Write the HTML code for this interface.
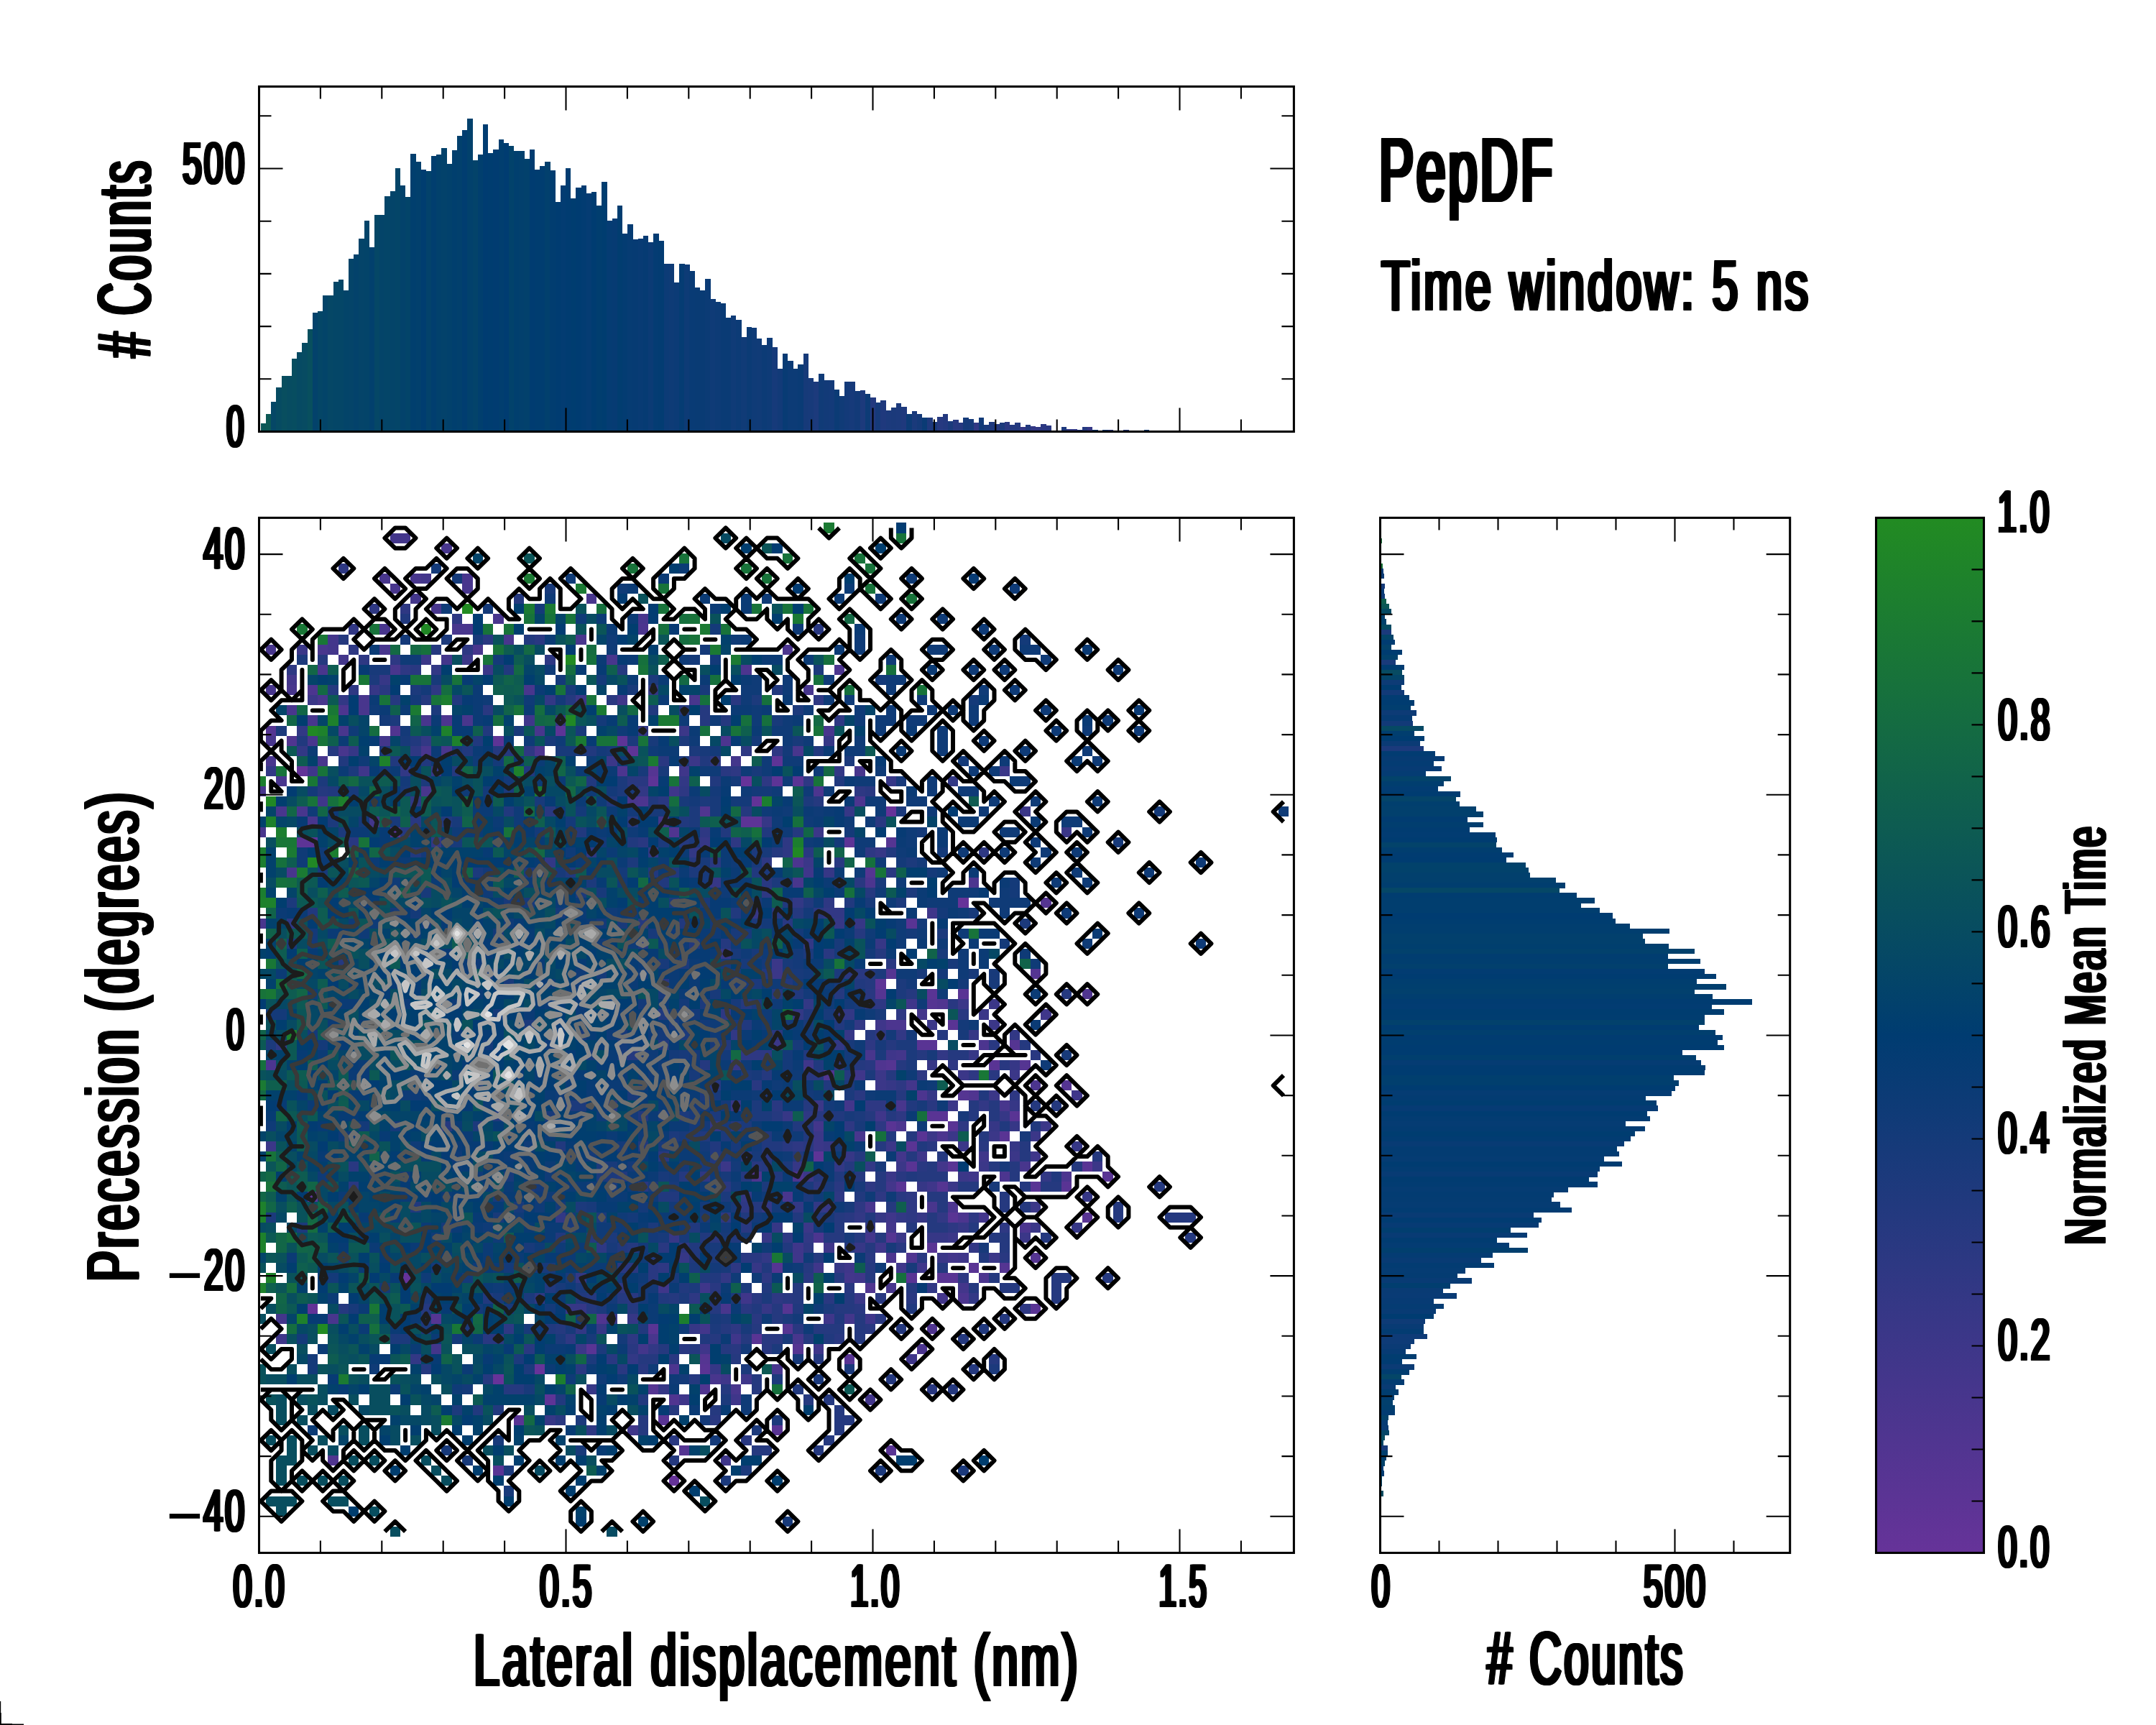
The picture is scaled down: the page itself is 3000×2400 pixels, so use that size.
<!DOCTYPE html>
<html><head><meta charset="utf-8"><title>PepDF</title>
<style>html,body{margin:0;padding:0;background:#fff}svg{display:block}</style></head>
<body>
<svg width="3000" height="2400" viewBox="0 0 3000 2400">
<defs><clipPath id="cm"><rect x="360.5" y="720.4" width="1439.9" height="1440.1"/></clipPath>
<linearGradient id="cb" x1="0" y1="1" x2="0" y2="0"><stop offset="0" stop-color="#663399"/><stop offset="0.5" stop-color="#003c71"/><stop offset="1" stop-color="#228b22"/></linearGradient></defs>
<rect width="3000" height="2400" fill="#fff"/>
<g clip-path="url(#cm)"><g transform="translate(355.71,727.45) scale(14.3750,14.1048)" shape-rendering="crispEdges">
<path fill="#663399" d="M47 25h1v1h-1zM61 28h1v1h-1zM68 37h1v1h-1zM14 74h1v1h-1zM27 83h1v1h-1zM23 84h1v1h-1zM40 94h1v1h-1z"/>
<path fill="#623397" d="M4 24h1v1h-1zM48 27h1v1h-1zM5 77h1v1h-1z"/>
<path fill="#5d3496" d="M29 20h1v1h-1zM23 21h1v1h-1zM35 21h1v1h-1zM36 22h1v1h-1zM50 23h1v1h-1zM38 25h1v1h-1zM50 25h1v1h-1zM47 29h2v1h-2zM4 31h2v1h-2zM57 31h1v1h-1zM60 45h1v1h-1zM54 62h1v1h-1zM5 66h1v1h-1zM28 86h1v1h-1z"/>
<path fill="#593494" d="M52 25h1v1h-1zM63 39h1v1h-1zM65 46h1v1h-1zM68 46h1v1h-1zM67 49h1v1h-1zM64 51h2v1h-2zM71 53h1v1h-1zM65 58h2v1h-2zM73 58h1v1h-1zM61 59h1v1h-1zM67 59h1v1h-1zM64 60h1v1h-1zM72 60h1v1h-1zM63 61h1v1h-1zM63 63h1v1h-1zM67 63h1v1h-1zM80 63h1v1h-1zM82 64h1v1h-1zM62 65h1v1h-1zM75 65h1v1h-1zM78 65h1v1h-1zM67 68h1v1h-1zM80 68h1v1h-1zM65 71h1v1h-1zM69 73h1v1h-1zM63 74h1v1h-1zM66 74h2v1h-2zM75 77h1v1h-1zM38 79h1v1h-1zM48 80h1v1h-1zM32 81h1v1h-1zM57 82h1v1h-1zM43 83h1v1h-1zM25 88h1v1h-1zM39 88h1v1h-1zM50 89h1v1h-1zM61 91h1v1h-1zM23 93h1v1h-1z"/>
<path fill="#553592" d="M1 20h1v1h-1zM38 24h1v1h-1zM13 30h1v1h-1zM61 31h1v1h-1zM59 34h1v1h-1zM76 37h1v1h-1zM61 44h1v1h-1zM75 44h1v1h-1zM60 46h1v1h-1zM65 47h1v1h-1zM73 51h1v1h-1zM61 53h1v1h-1zM74 53h1v1h-1zM78 55h1v1h-1zM68 56h1v1h-1zM66 65h1v1h-1zM61 70h1v1h-1zM75 72h1v1h-1zM50 73h1v1h-1zM72 73h1v1h-1zM51 77h1v1h-1zM17 78h1v1h-1zM51 79h1v1h-1zM52 81h1v1h-1zM43 82h1v1h-1zM38 85h1v1h-1zM41 91h1v1h-1z"/>
<path fill="#503590" d="M13 20h1v1h-1zM3 21h1v1h-1zM43 28h1v1h-1zM40 30h1v1h-1zM80 46h1v1h-1zM66 47h1v1h-1zM60 53h1v1h-1zM55 54h1v1h-1zM69 56h1v1h-1zM63 72h1v1h-1zM59 75h1v1h-1zM33 78h1v1h-1zM65 79h1v1h-1zM43 85h1v1h-1zM40 86h1v1h-1zM7 92h1v1h-1z"/>
<path fill="#4c358f" d="M37 10h1v1h-1zM51 12h1v1h-1zM47 14h1v1h-1zM56 14h1v1h-1zM5 16h1v1h-1zM8 18h1v1h-1zM18 19h1v1h-1zM45 21h1v1h-1zM27 22h1v1h-1zM35 24h1v1h-1zM54 26h1v1h-1zM37 27h1v1h-1zM58 27h1v1h-1zM52 33h1v1h-1zM59 35h1v1h-1zM69 35h1v1h-1zM61 49h2v1h-2zM70 51h1v1h-1zM1 53h1v1h-1zM75 55h1v1h-1zM64 56h1v1h-1zM62 59h1v1h-1zM66 60h1v1h-1zM48 64h1v1h-1zM52 64h1v1h-1zM72 64h1v1h-1zM78 64h1v1h-1zM67 67h1v1h-1zM68 68h1v1h-1zM74 69h1v1h-1zM54 70h1v1h-1zM61 72h1v1h-1zM70 74h1v1h-1zM68 76h1v1h-1zM64 81h1v1h-1zM40 83h1v1h-1z"/>
<path fill="#48368d" d="M18 2h1v1h-1zM12 5h1v1h-1zM15 5h1v1h-1zM20 5h1v1h-1zM13 6h1v1h-1zM20 6h1v1h-1zM32 7h1v1h-1zM17 8h1v1h-1zM23 9h1v1h-1zM37 9h1v1h-1zM12 10h1v1h-1zM19 10h2v1h-2zM24 11h1v1h-1zM31 11h1v1h-1zM1 12h1v1h-1zM6 12h1v1h-1zM12 12h1v1h-1zM21 12h1v1h-1zM34 13h1v1h-1zM6 14h1v1h-1zM13 14h1v1h-1zM1 16h1v1h-1zM3 16h1v1h-1zM26 16h1v1h-1zM53 16h1v1h-1zM6 17h1v1h-1zM10 17h1v1h-1zM42 17h1v1h-1zM3 18h1v1h-1zM10 18h1v1h-1zM5 19h1v1h-1zM16 19h1v1h-1zM20 19h1v1h-1zM8 20h1v1h-1zM27 20h1v1h-1zM55 20h1v1h-1zM1 21h1v1h-1zM5 21h1v1h-1zM8 22h1v1h-1zM16 22h1v1h-1zM18 22h1v1h-1zM52 22h1v1h-1zM1 23h1v1h-1zM6 23h1v1h-1zM58 24h1v1h-1zM2 25h1v1h-1zM0 26h1v1h-1zM16 26h1v1h-1zM36 27h1v1h-1zM2 28h1v1h-1zM4 28h1v1h-1zM5 29h1v1h-1zM0 30h1v1h-1zM3 34h1v1h-1zM52 35h1v1h-1zM0 39h1v1h-1zM59 52h1v1h-1zM62 57h1v1h-1zM72 57h1v1h-1zM58 60h1v1h-1zM74 63h1v1h-1zM51 66h1v1h-1zM59 67h1v1h-1zM65 67h1v1h-1zM61 75h1v1h-1zM45 77h1v1h-1zM7 78h1v1h-1zM38 80h1v1h-1zM52 80h1v1h-1zM50 83h1v1h-1zM44 84h1v1h-1zM46 85h1v1h-1z"/>
<path fill="#43368b" d="M13 1h2v1h-2zM16 5h1v1h-1zM15 7h1v1h-1zM7 11h1v1h-1zM7 12h1v1h-1zM8 13h1v1h-1zM18 13h1v1h-1zM3 15h1v1h-1zM12 21h1v1h-1zM46 23h1v1h-1zM11 29h1v1h-1zM39 29h1v1h-1zM64 48h1v1h-1zM62 52h1v1h-1zM63 55h1v1h-1zM57 57h1v1h-1zM54 59h1v1h-1zM62 62h1v1h-1zM66 63h1v1h-1zM61 65h1v1h-1zM70 68h1v1h-1zM61 69h1v1h-1zM59 70h1v1h-1zM67 72h1v1h-1zM57 74h1v1h-1zM68 75h1v1h-1zM66 76h1v1h-1zM2 78h1v1h-1zM57 78h1v1h-1zM43 79h1v1h-1zM17 81h1v1h-1zM37 81h1v1h-1zM59 86h1v1h-1z"/>
<path fill="#3f368a" d="M35 17h1v1h-1zM26 19h1v1h-1zM5 24h1v1h-1zM10 24h1v1h-1zM41 24h1v1h-1zM40 26h1v1h-1zM6 27h1v1h-1zM53 34h1v1h-1zM65 38h1v1h-1zM63 47h1v1h-1zM76 48h1v1h-1zM60 49h1v1h-1zM61 52h1v1h-1zM53 53h1v1h-1zM58 54h1v1h-1zM79 56h1v1h-1zM60 58h1v1h-1zM64 62h1v1h-1zM70 62h1v1h-1zM75 62h1v1h-1zM69 64h1v1h-1zM65 65h1v1h-1zM61 68h1v1h-1zM52 71h1v1h-1zM55 71h1v1h-1zM60 71h1v1h-1zM52 72h1v1h-1zM68 72h1v1h-1zM54 73h1v1h-1zM57 73h1v1h-1zM62 73h1v1h-1zM64 73h1v1h-1zM58 74h1v1h-1zM39 75h1v1h-1zM43 75h1v1h-1zM47 76h1v1h-1zM55 78h1v1h-1zM59 78h1v1h-1zM2 80h1v1h-1zM46 80h1v1h-1zM43 81h1v1h-1zM54 81h1v1h-1zM63 82h1v1h-1zM45 84h1v1h-1zM47 84h1v1h-1zM41 86h1v1h-1zM46 86h1v1h-1zM36 89h1v1h-1zM45 92h1v1h-1z"/>
<path fill="#3b3788" d="M4 12h1v1h-1zM16 13h1v1h-1zM20 13h1v1h-1zM22 14h1v1h-1zM5 17h1v1h-1zM31 17h1v1h-1zM41 20h1v1h-1zM34 23h1v1h-1zM42 23h1v1h-1zM72 24h1v1h-1zM74 28h1v1h-1zM54 30h1v1h-1zM78 30h1v1h-1zM53 33h1v1h-1zM50 43h1v1h-1zM50 44h1v1h-1zM68 47h1v1h-1zM71 47h1v1h-1zM70 48h1v1h-1zM65 49h1v1h-1zM71 49h1v1h-1zM50 51h1v1h-1zM60 54h1v1h-1zM68 54h1v1h-1zM73 54h1v1h-1zM60 55h1v1h-1zM71 56h1v1h-1zM54 57h1v1h-1zM67 57h1v1h-1zM76 59h1v1h-1zM54 60h1v1h-1zM65 60h1v1h-1zM67 60h1v1h-1zM71 60h1v1h-1zM75 60h1v1h-1zM1 61h1v1h-1zM54 61h1v1h-1zM61 61h1v1h-1zM68 61h1v1h-1zM73 62h1v1h-1zM45 63h1v1h-1zM62 63h1v1h-1zM70 63h1v1h-1zM81 63h1v1h-1zM53 64h1v1h-1zM61 64h1v1h-1zM68 64h1v1h-1zM67 65h1v1h-1zM75 67h1v1h-1zM53 69h1v1h-1zM75 69h1v1h-1zM62 70h1v1h-1zM67 70h1v1h-1zM74 70h1v1h-1zM66 72h1v1h-1zM71 72h1v1h-1zM58 76h1v1h-1zM31 81h1v1h-1z"/>
<path fill="#363786" d="M12 15h1v1h-1zM11 16h1v1h-1zM29 19h1v1h-1zM55 21h1v1h-1zM9 22h1v1h-1zM17 24h1v1h-1zM61 25h1v1h-1zM57 28h1v1h-1zM49 29h1v1h-1zM43 31h1v1h-1zM60 32h1v1h-1zM55 34h1v1h-1zM44 35h1v1h-1zM48 38h1v1h-1zM56 39h1v1h-1zM58 39h1v1h-1zM60 41h1v1h-1zM45 42h1v1h-1zM56 48h1v1h-1zM57 50h1v1h-1zM69 50h1v1h-1zM69 52h1v1h-1zM46 53h1v1h-1zM65 53h1v1h-1zM73 53h1v1h-1zM61 55h1v1h-1zM65 56h1v1h-1zM46 57h1v1h-1zM73 57h1v1h-1zM51 58h1v1h-1zM72 58h1v1h-1zM71 59h1v1h-1zM73 59h1v1h-1zM55 61h1v1h-1zM73 61h1v1h-1zM79 61h1v1h-1zM57 62h1v1h-1zM52 63h1v1h-1zM64 65h1v1h-1zM80 66h1v1h-1zM55 67h1v1h-1zM60 68h1v1h-1zM64 68h1v1h-1zM50 69h1v1h-1zM68 69h1v1h-1zM79 69h1v1h-1zM40 70h1v1h-1zM49 70h1v1h-1zM65 70h2v1h-2zM58 71h1v1h-1zM41 72h1v1h-1zM48 73h1v1h-1zM56 73h1v1h-1zM30 77h2v1h-2zM49 77h1v1h-1zM34 78h1v1h-1zM36 78h1v1h-1zM33 79h1v1h-1zM42 79h1v1h-1zM44 83h1v1h-1zM32 85h1v1h-1zM39 85h1v1h-1zM28 88h1v1h-1z"/>
<path fill="#323885" d="M9 10h1v1h-1zM17 14h1v1h-1zM38 16h1v1h-1zM8 17h1v1h-1zM28 17h1v1h-1zM4 20h1v1h-1zM37 20h1v1h-1zM16 21h1v1h-1zM4 22h1v1h-1zM1 24h1v1h-1zM14 24h1v1h-1zM56 24h1v1h-1zM41 25h1v1h-1zM67 25h1v1h-1zM37 26h1v1h-1zM17 31h1v1h-1zM38 32h1v1h-1zM42 32h1v1h-1zM28 33h1v1h-1zM52 37h1v1h-1zM55 38h2v1h-2zM53 41h1v1h-1zM53 47h1v1h-1zM52 48h1v1h-1zM57 48h1v1h-1zM58 49h1v1h-1zM46 50h1v1h-1zM62 50h1v1h-1zM73 50h1v1h-1zM56 51h1v1h-1zM66 52h1v1h-1zM70 57h1v1h-1zM44 59h1v1h-1zM56 63h1v1h-1zM59 63h1v1h-1zM76 64h1v1h-1zM47 66h1v1h-1zM49 67h1v1h-1zM52 67h1v1h-1zM54 67h1v1h-1zM29 68h1v1h-1zM58 68h1v1h-1zM62 68h1v1h-1zM66 68h1v1h-1zM59 69h1v1h-1zM53 70h1v1h-1zM69 71h1v1h-1zM49 72h1v1h-1zM31 74h1v1h-1zM45 74h1v1h-1zM65 75h1v1h-1zM69 76h1v1h-1zM31 79h1v1h-1zM38 81h1v1h-1zM15 82h1v1h-1zM36 82h1v1h-1z"/>
<path fill="#2e3883" d="M8 4h1v1h-1zM11 8h1v1h-1zM14 8h1v1h-1zM19 9h1v1h-1zM9 12h1v1h-1zM20 12h1v1h-1zM10 13h1v1h-1zM13 13h1v1h-1zM28 13h1v1h-1zM3 14h1v1h-1zM14 14h1v1h-1zM9 16h1v1h-1zM17 16h1v1h-1zM54 17h1v1h-1zM56 19h1v1h-1zM15 22h1v1h-1zM26 22h1v1h-1zM47 22h1v1h-1zM50 22h1v1h-1zM44 23h1v1h-1zM46 24h1v1h-1zM49 25h1v1h-1zM53 25h1v1h-1zM41 26h1v1h-1zM58 26h1v1h-1zM15 27h1v1h-1zM43 30h1v1h-1zM46 31h1v1h-1zM51 31h1v1h-1zM32 32h1v1h-1zM51 32h1v1h-1zM59 32h1v1h-1zM70 32h1v1h-1zM49 33h1v1h-1zM49 36h1v1h-1zM55 37h1v1h-1zM3 39h1v1h-1zM60 47h1v1h-1zM45 48h1v1h-1zM62 48h1v1h-1zM60 50h1v1h-1zM2 51h1v1h-1zM59 51h1v1h-1zM47 52h3v1h-3zM67 53h1v1h-1zM64 54h1v1h-1zM69 54h1v1h-1zM62 55h1v1h-1zM73 56h1v1h-1zM59 57h2v1h-2zM53 58h1v1h-1zM62 58h1v1h-1zM57 59h1v1h-1zM60 59h1v1h-1zM68 59h1v1h-1zM52 61h1v1h-1zM43 64h1v1h-1zM54 65h1v1h-1zM59 65h1v1h-1zM56 66h1v1h-1zM60 66h1v1h-1zM63 66h1v1h-1zM47 67h1v1h-1zM58 67h1v1h-1zM63 67h1v1h-1zM45 68h1v1h-1zM63 68h1v1h-1zM69 68h1v1h-1zM67 69h1v1h-1zM72 69h1v1h-1zM51 70h1v1h-1zM33 71h1v1h-1zM41 71h1v1h-1zM53 71h1v1h-1zM39 73h1v1h-1zM46 73h1v1h-1zM49 74h1v1h-1zM68 74h1v1h-1zM35 75h1v1h-1zM27 76h1v1h-1zM42 76h1v1h-1zM50 76h1v1h-1zM74 77h1v1h-1zM24 79h1v1h-1zM46 79h1v1h-1zM30 80h1v1h-1zM36 80h1v1h-1zM32 89h1v1h-1z"/>
<path fill="#293881" d="M54 10h1v1h-1zM22 11h1v1h-1zM27 11h1v1h-1zM15 14h1v1h-1zM12 16h1v1h-1zM34 17h1v1h-1zM46 17h1v1h-1zM22 18h1v1h-1zM39 23h1v1h-1zM45 24h1v1h-1zM36 25h2v1h-2zM59 26h1v1h-1zM39 27h1v1h-1zM28 28h1v1h-1zM15 29h1v1h-1zM60 29h1v1h-1zM9 31h1v1h-1zM37 31h1v1h-1zM53 32h1v1h-1zM44 33h1v1h-1zM56 33h1v1h-1zM61 34h1v1h-1zM49 35h1v1h-1zM58 35h1v1h-1zM50 38h1v1h-1zM54 38h1v1h-1zM51 39h1v1h-1zM55 42h1v1h-1zM61 43h1v1h-1zM57 44h2v1h-2zM39 45h1v1h-1zM59 46h1v1h-1zM59 47h1v1h-1zM67 47h1v1h-1zM68 48h1v1h-1zM50 50h1v1h-1zM71 51h1v1h-1zM75 52h1v1h-1zM56 53h1v1h-1zM59 53h1v1h-1zM72 53h1v1h-1zM53 54h2v1h-2zM71 54h1v1h-1zM44 55h1v1h-1zM48 55h1v1h-1zM58 56h1v1h-1zM50 57h1v1h-1zM65 57h1v1h-1zM54 58h1v1h-1zM51 61h1v1h-1zM53 61h1v1h-1zM65 61h1v1h-1zM70 61h1v1h-1zM39 62h1v1h-1zM47 62h1v1h-1zM49 62h1v1h-1zM9 63h1v1h-1zM48 63h1v1h-1zM64 63h1v1h-1zM62 64h1v1h-1zM9 65h1v1h-1zM37 65h1v1h-1zM45 65h1v1h-1zM56 65h1v1h-1zM62 66h1v1h-1zM57 68h1v1h-1zM47 69h1v1h-1zM44 70h1v1h-1zM39 71h1v1h-1zM62 71h1v1h-1zM47 72h2v1h-2zM59 72h1v1h-1zM64 72h1v1h-1zM72 72h1v1h-1zM35 73h2v1h-2zM38 73h1v1h-1zM38 74h1v1h-1zM53 74h1v1h-1zM44 75h1v1h-1zM57 75h1v1h-1zM36 76h1v1h-1zM48 76h1v1h-1zM51 76h1v1h-1zM55 76h1v1h-1zM60 76h1v1h-1zM63 76h1v1h-1zM47 77h1v1h-1zM58 77h1v1h-1zM48 78h1v1h-1zM60 78h1v1h-1zM52 79h1v1h-1zM59 79h1v1h-1zM22 80h2v1h-2zM49 80h2v1h-2zM56 80h1v1h-1zM26 81h1v1h-1zM36 81h1v1h-1zM41 81h1v1h-1zM46 81h1v1h-1zM49 81h1v1h-1zM34 82h1v1h-1zM40 82h1v1h-1zM31 83h1v1h-1zM35 83h1v1h-1zM37 83h1v1h-1zM65 85h1v1h-1zM29 88h1v1h-1zM44 88h1v1h-1zM40 90h1v1h-1zM47 90h1v1h-1z"/>
<path fill="#25397f" d="M25 7h1v1h-1zM8 11h1v1h-1zM17 12h1v1h-1zM6 13h1v1h-1zM35 14h1v1h-1zM7 16h1v1h-1zM13 17h1v1h-1zM16 17h1v1h-1zM30 17h1v1h-1zM41 18h1v1h-1zM43 18h1v1h-1zM43 19h1v1h-1zM45 19h1v1h-1zM7 22h1v1h-1zM23 22h2v1h-2zM19 24h1v1h-1zM6 26h1v1h-1zM54 27h1v1h-1zM47 28h1v1h-1zM36 29h1v1h-1zM14 30h1v1h-1zM52 30h1v1h-1zM41 31h1v1h-1zM50 32h1v1h-1zM42 33h1v1h-1zM59 36h1v1h-1zM52 38h1v1h-1zM37 39h1v1h-1zM58 40h1v1h-1zM45 41h1v1h-1zM60 42h1v1h-1zM8 43h1v1h-1zM59 44h1v1h-1zM59 45h1v1h-1zM50 46h1v1h-1zM56 46h1v1h-1zM63 46h1v1h-1zM78 46h1v1h-1zM47 47h1v1h-1zM59 50h1v1h-1zM66 50h1v1h-1zM61 51h1v1h-1zM74 51h1v1h-1zM36 52h1v1h-1zM64 52h1v1h-1zM67 52h2v1h-2zM43 53h1v1h-1zM58 53h1v1h-1zM62 53h1v1h-1zM49 54h1v1h-1zM57 54h1v1h-1zM61 54h1v1h-1zM62 56h1v1h-1zM53 57h1v1h-1zM69 57h1v1h-1zM71 57h1v1h-1zM75 57h1v1h-1zM77 57h1v1h-1zM50 58h1v1h-1zM59 58h1v1h-1zM61 58h1v1h-1zM69 58h1v1h-1zM71 58h1v1h-1zM18 59h1v1h-1zM46 59h1v1h-1zM53 59h1v1h-1zM63 60h1v1h-1zM70 60h1v1h-1zM60 61h1v1h-1zM74 61h1v1h-1zM58 62h1v1h-1zM63 62h1v1h-1zM66 62h1v1h-1zM74 62h1v1h-1zM81 62h1v1h-1zM49 63h1v1h-1zM57 63h1v1h-1zM65 63h1v1h-1zM71 63h1v1h-1zM73 63h1v1h-1zM79 63h1v1h-1zM41 64h1v1h-1zM47 64h1v1h-1zM54 64h1v1h-1zM58 64h1v1h-1zM60 64h1v1h-1zM64 64h3v1h-3zM73 64h1v1h-1zM60 65h1v1h-1zM68 65h2v1h-2zM74 65h1v1h-1zM76 65h2v1h-2zM87 65h1v1h-1zM65 66h2v1h-2zM72 66h1v1h-1zM48 67h1v1h-1zM61 67h1v1h-1zM66 67h1v1h-1zM72 67h1v1h-1zM74 67h1v1h-1zM83 67h1v1h-1zM56 68h1v1h-1zM65 68h1v1h-1zM83 68h1v1h-1zM88 68h3v1h-3zM56 69h1v1h-1zM63 69h1v1h-1zM65 69h2v1h-2zM69 69h1v1h-1zM32 70h1v1h-1zM55 70h2v1h-2zM58 70h1v1h-1zM60 70h1v1h-1zM71 70h2v1h-2zM76 70h1v1h-1zM90 70h1v1h-1zM36 71h1v1h-1zM57 71h1v1h-1zM59 71h1v1h-1zM72 71h1v1h-1zM54 72h1v1h-1zM53 73h1v1h-1zM59 73h1v1h-1zM66 73h1v1h-1zM56 74h1v1h-1zM59 74h1v1h-1zM71 74h1v1h-1zM77 74h2v1h-2zM82 74h1v1h-1zM52 75h1v1h-1zM63 75h1v1h-1zM69 75h1v1h-1zM72 75h2v1h-2zM77 75h1v1h-1zM32 76h1v1h-1zM35 76h1v1h-1zM40 76h1v1h-1zM52 76h1v1h-1zM57 76h1v1h-1zM77 76h1v1h-1zM8 77h1v1h-1zM16 77h1v1h-1zM32 77h1v1h-1zM36 77h1v1h-1zM44 77h1v1h-1zM50 77h1v1h-1zM56 77h2v1h-2zM50 78h1v1h-1zM58 78h1v1h-1zM72 78h1v1h-1zM29 79h1v1h-1zM45 79h1v1h-1zM48 79h1v1h-1zM54 79h3v1h-3zM58 79h1v1h-1zM62 79h1v1h-1zM44 80h1v1h-1zM47 80h1v1h-1zM53 80h1v1h-1zM58 80h1v1h-1zM68 80h1v1h-1zM39 81h1v1h-1zM42 81h1v1h-1zM45 81h1v1h-1zM37 82h2v1h-2zM46 82h1v1h-1zM54 82h1v1h-1zM71 82h1v1h-1zM16 83h1v1h-1zM69 83h1v1h-1zM22 84h1v1h-1zM42 84h1v1h-1zM48 84h1v1h-1zM61 84h1v1h-1zM24 85h2v1h-2zM45 85h1v1h-1zM48 85h1v1h-1zM67 85h1v1h-1zM53 86h1v1h-1zM55 86h1v1h-1zM40 87h1v1h-1zM44 87h1v1h-1zM56 87h1v1h-1zM37 88h1v1h-1zM56 88h2v1h-2zM37 89h1v1h-1zM56 89h1v1h-1zM55 90h1v1h-1zM48 91h2v1h-2zM54 91h1v1h-1zM40 92h1v1h-1z"/>
<path fill="#21397e" d="M14 9h1v1h-1zM26 11h1v1h-1zM24 14h1v1h-1zM50 16h1v1h-1zM19 17h1v1h-1zM38 18h1v1h-1zM22 20h1v1h-1zM4 21h1v1h-1zM15 21h1v1h-1zM21 21h1v1h-1zM20 22h1v1h-1zM32 22h1v1h-1zM54 22h1v1h-1zM8 23h1v1h-1zM13 23h1v1h-1zM16 23h1v1h-1zM43 23h1v1h-1zM26 24h1v1h-1zM32 25h1v1h-1zM44 25h1v1h-1zM56 25h1v1h-1zM7 26h1v1h-1zM34 27h1v1h-1zM38 27h1v1h-1zM24 28h1v1h-1zM18 29h1v1h-1zM41 29h1v1h-1zM31 30h1v1h-1zM45 30h1v1h-1zM49 30h1v1h-1zM36 31h1v1h-1zM15 32h1v1h-1zM61 32h1v1h-1zM30 34h1v1h-1zM38 34h1v1h-1zM40 34h1v1h-1zM48 34h1v1h-1zM39 35h1v1h-1zM51 37h1v1h-1zM53 37h1v1h-1zM57 37h1v1h-1zM5 38h1v1h-1zM46 38h1v1h-1zM41 39h1v1h-1zM37 41h1v1h-1zM42 41h1v1h-1zM49 44h1v1h-1zM51 45h1v1h-1zM58 45h1v1h-1zM52 46h1v1h-1zM39 48h1v1h-1zM53 48h1v1h-1zM47 49h1v1h-1zM56 49h1v1h-1zM39 51h1v1h-1zM45 51h1v1h-1zM53 52h1v1h-1zM54 53h1v1h-1zM55 55h1v1h-1zM70 56h1v1h-1zM34 57h1v1h-1zM63 57h1v1h-1zM23 58h1v1h-1zM37 58h1v1h-1zM55 58h2v1h-2zM52 59h1v1h-1zM72 59h1v1h-1zM75 59h1v1h-1zM43 60h1v1h-1zM49 60h1v1h-1zM53 60h1v1h-1zM61 60h1v1h-1zM29 61h1v1h-1zM37 61h1v1h-1zM44 61h1v1h-1zM49 61h2v1h-2zM64 61h1v1h-1zM44 62h1v1h-1zM52 62h1v1h-1zM44 63h1v1h-1zM35 64h1v1h-1zM50 64h1v1h-1zM56 64h1v1h-1zM63 64h1v1h-1zM77 64h1v1h-1zM39 66h2v1h-2zM58 66h1v1h-1zM15 67h1v1h-1zM47 68h1v1h-1zM52 68h1v1h-1zM54 68h1v1h-1zM59 68h1v1h-1zM42 69h1v1h-1zM29 70h1v1h-1zM43 70h1v1h-1zM46 70h1v1h-1zM35 71h1v1h-1zM42 71h1v1h-1zM51 71h1v1h-1zM38 72h1v1h-1zM42 72h1v1h-1zM70 72h1v1h-1zM49 73h1v1h-1zM43 74h2v1h-2zM28 75h1v1h-1zM41 75h1v1h-1zM49 75h1v1h-1zM22 76h1v1h-1zM31 76h1v1h-1zM39 76h1v1h-1zM44 76h1v1h-1zM48 77h1v1h-1zM52 77h1v1h-1zM63 77h1v1h-1zM16 78h1v1h-1zM56 78h1v1h-1zM28 79h1v1h-1zM37 79h1v1h-1zM70 79h1v1h-1zM43 80h1v1h-1zM55 80h1v1h-1zM52 85h1v1h-1zM29 86h1v1h-1zM37 86h1v1h-1zM21 87h1v1h-1zM23 87h1v1h-1z"/>
<path fill="#1c3a7c" d="M18 11h1v1h-1zM4 13h1v1h-1zM54 14h1v1h-1zM11 15h1v1h-1zM38 15h1v1h-1zM15 16h1v1h-1zM48 17h1v1h-1zM17 18h1v1h-1zM52 18h1v1h-1zM13 19h1v1h-1zM2 20h1v1h-1zM36 21h1v1h-1zM41 21h1v1h-1zM12 22h1v1h-1zM31 22h1v1h-1zM42 22h1v1h-1zM41 23h1v1h-1zM57 23h1v1h-1zM9 24h1v1h-1zM6 25h1v1h-1zM16 25h1v1h-1zM35 25h1v1h-1zM24 26h1v1h-1zM35 26h1v1h-1zM43 27h1v1h-1zM53 27h1v1h-1zM42 28h1v1h-1zM62 28h1v1h-1zM7 29h1v1h-1zM42 29h1v1h-1zM8 30h1v1h-1zM39 31h1v1h-1zM42 31h1v1h-1zM48 32h1v1h-1zM36 33h1v1h-1zM63 33h1v1h-1zM21 34h1v1h-1zM26 34h1v1h-1zM42 34h1v1h-1zM49 34h1v1h-1zM32 35h1v1h-1zM50 35h1v1h-1zM56 35h1v1h-1zM31 36h1v1h-1zM63 36h1v1h-1zM3 37h1v1h-1zM40 37h1v1h-1zM62 37h1v1h-1zM48 39h1v1h-1zM74 39h1v1h-1zM66 40h1v1h-1zM3 41h1v1h-1zM53 42h1v1h-1zM41 43h1v1h-1zM56 44h1v1h-1zM60 44h1v1h-1zM48 45h1v1h-1zM62 45h1v1h-1zM62 46h1v1h-1zM43 47h1v1h-1zM48 47h1v1h-1zM26 49h1v1h-1zM41 50h1v1h-1zM1 51h1v1h-1zM62 51h2v1h-2zM60 52h1v1h-1zM63 52h1v1h-1zM63 53h1v1h-1zM47 54h1v1h-1zM59 54h1v1h-1zM57 55h1v1h-1zM43 56h1v1h-1zM49 56h1v1h-1zM57 56h1v1h-1zM30 57h2v1h-2zM48 57h1v1h-1zM41 58h1v1h-1zM44 58h1v1h-1zM48 58h2v1h-2zM58 58h1v1h-1zM21 59h1v1h-1zM47 59h1v1h-1zM40 60h1v1h-1zM42 60h1v1h-1zM45 60h1v1h-1zM45 62h1v1h-1zM33 63h1v1h-1zM51 63h1v1h-1zM33 64h2v1h-2zM26 65h1v1h-1zM49 65h1v1h-1zM53 65h1v1h-1zM45 66h1v1h-1zM53 66h1v1h-1zM31 67h1v1h-1zM1 68h1v1h-1zM33 68h1v1h-1zM4 69h1v1h-1zM38 69h1v1h-1zM34 70h1v1h-1zM44 72h1v1h-1zM42 73h1v1h-1zM31 75h1v1h-1zM42 75h1v1h-1zM47 75h1v1h-1zM16 76h1v1h-1zM26 76h1v1h-1zM41 76h1v1h-1zM46 76h1v1h-1zM49 76h1v1h-1zM33 77h1v1h-1zM55 77h1v1h-1zM45 78h1v1h-1zM51 78h1v1h-1zM16 79h1v1h-1zM20 79h1v1h-1zM44 79h1v1h-1zM13 80h2v1h-2zM29 80h1v1h-1zM33 81h1v1h-1zM50 81h1v1h-1zM25 82h1v1h-1zM32 82h1v1h-1zM26 83h1v1h-1zM47 83h1v1h-1zM57 83h1v1h-1zM71 83h1v1h-1zM50 84h1v1h-1zM54 84h1v1h-1zM45 86h1v1h-1zM19 87h1v1h-1zM31 88h1v1h-1zM50 88h1v1h-1zM48 89h1v1h-1zM24 93h1v1h-1zM47 93h1v1h-1zM60 93h1v1h-1zM68 93h1v1h-1zM45 94h1v1h-1z"/>
<path fill="#183a7a" d="M28 6h1v1h-1zM21 11h1v1h-1zM11 14h2v1h-2zM17 15h1v1h-1zM30 16h1v1h-1zM36 16h1v1h-1zM43 16h1v1h-1zM50 19h1v1h-1zM25 20h1v1h-1zM31 20h1v1h-1zM14 21h1v1h-1zM28 21h1v1h-1zM38 21h1v1h-1zM52 21h1v1h-1zM19 22h1v1h-1zM29 22h2v1h-2zM34 22h1v1h-1zM43 22h1v1h-1zM37 24h1v1h-1zM39 24h1v1h-1zM48 24h1v1h-1zM62 25h1v1h-1zM9 26h1v1h-1zM14 26h1v1h-1zM36 26h1v1h-1zM27 27h1v1h-1zM41 27h1v1h-1zM44 27h1v1h-1zM38 28h2v1h-2zM44 28h1v1h-1zM13 29h1v1h-1zM19 29h1v1h-1zM19 31h1v1h-1zM83 31h1v1h-1zM49 32h1v1h-1zM43 33h1v1h-1zM48 33h1v1h-1zM6 34h1v1h-1zM29 34h1v1h-1zM43 34h1v1h-1zM43 35h1v1h-1zM60 35h1v1h-1zM16 36h1v1h-1zM33 36h1v1h-1zM24 37h1v1h-1zM26 37h1v1h-1zM43 37h1v1h-1zM48 37h1v1h-1zM59 37h1v1h-1zM69 38h1v1h-1zM35 39h1v1h-1zM38 40h1v1h-1zM46 40h2v1h-2zM56 41h1v1h-1zM46 42h1v1h-1zM48 42h1v1h-1zM56 42h1v1h-1zM66 42h1v1h-1zM39 43h1v1h-1zM45 43h1v1h-1zM47 43h1v1h-1zM51 43h1v1h-1zM67 43h1v1h-1zM22 44h1v1h-1zM46 44h1v1h-1zM51 44h2v1h-2zM64 44h1v1h-1zM69 44h1v1h-1zM71 44h1v1h-1zM24 45h1v1h-1zM47 45h1v1h-1zM56 45h1v1h-1zM71 45h1v1h-1zM39 46h1v1h-1zM44 46h1v1h-1zM46 47h1v1h-1zM58 47h1v1h-1zM55 48h1v1h-1zM60 48h1v1h-1zM40 49h1v1h-1zM46 49h1v1h-1zM53 49h1v1h-1zM31 50h1v1h-1zM35 50h1v1h-1zM68 50h1v1h-1zM44 51h1v1h-1zM52 51h1v1h-1zM57 51h1v1h-1zM60 51h1v1h-1zM35 52h1v1h-1zM41 52h1v1h-1zM65 52h1v1h-1zM78 52h1v1h-1zM42 54h1v1h-1zM48 54h1v1h-1zM21 55h1v1h-1zM36 56h1v1h-1zM44 56h1v1h-1zM64 57h1v1h-1zM28 58h1v1h-1zM39 58h1v1h-1zM42 58h1v1h-1zM57 58h1v1h-1zM68 58h1v1h-1zM45 59h1v1h-1zM58 59h1v1h-1zM41 60h1v1h-1zM74 60h1v1h-1zM39 61h1v1h-1zM46 61h1v1h-1zM56 61h1v1h-1zM48 62h1v1h-1zM34 63h1v1h-1zM43 63h1v1h-1zM60 63h1v1h-1zM72 63h1v1h-1zM24 64h1v1h-1zM39 64h1v1h-1zM45 64h1v1h-1zM34 65h1v1h-1zM38 65h1v1h-1zM40 65h1v1h-1zM55 65h1v1h-1zM58 65h1v1h-1zM71 65h1v1h-1zM23 66h1v1h-1zM25 67h1v1h-1zM32 67h1v1h-1zM46 67h1v1h-1zM57 67h1v1h-1zM23 68h1v1h-1zM43 68h1v1h-1zM55 68h1v1h-1zM30 69h1v1h-1zM39 70h1v1h-1zM41 70h1v1h-1zM45 70h1v1h-1zM57 70h1v1h-1zM26 71h1v1h-1zM34 71h1v1h-1zM44 71h1v1h-1zM61 71h1v1h-1zM70 71h1v1h-1zM27 73h2v1h-2zM45 73h1v1h-1zM63 73h1v1h-1zM30 74h1v1h-1zM40 74h1v1h-1zM29 75h1v1h-1zM23 76h1v1h-1zM9 77h1v1h-1zM24 77h1v1h-1zM44 78h1v1h-1zM26 79h1v1h-1zM30 79h1v1h-1zM47 79h1v1h-1zM32 80h1v1h-1zM51 80h1v1h-1zM52 82h1v1h-1zM26 85h1v1h-1zM23 90h1v1h-1zM18 91h1v1h-1zM31 91h1v1h-1zM20 92h1v1h-1zM24 95h1v1h-1zM51 98h1v1h-1z"/>
<path fill="#143a79" d="M17 4h1v1h-1zM19 5h1v1h-1zM22 8h1v1h-1zM27 8h1v1h-1zM44 10h1v1h-1zM14 11h1v1h-1zM74 11h1v1h-1zM43 12h1v1h-1zM23 13h1v1h-1zM42 13h1v1h-1zM44 13h1v1h-1zM29 15h1v1h-1zM33 15h1v1h-1zM60 15h1v1h-1zM16 16h1v1h-1zM15 17h1v1h-1zM29 17h1v1h-1zM69 17h1v1h-1zM12 19h1v1h-1zM33 19h1v1h-1zM14 20h1v1h-1zM48 21h1v1h-1zM33 22h1v1h-1zM44 22h1v1h-1zM51 22h1v1h-1zM23 23h1v1h-1zM68 23h1v1h-1zM12 24h1v1h-1zM14 25h1v1h-1zM24 25h1v1h-1zM46 25h1v1h-1zM5 26h1v1h-1zM22 26h1v1h-1zM34 26h1v1h-1zM44 26h1v1h-1zM48 26h2v1h-2zM42 27h1v1h-1zM46 27h2v1h-2zM31 28h1v1h-1zM36 28h1v1h-1zM87 28h1v1h-1zM10 29h1v1h-1zM30 29h1v1h-1zM27 30h1v1h-1zM57 30h1v1h-1zM64 30h1v1h-1zM18 31h1v1h-1zM33 31h1v1h-1zM56 31h1v1h-1zM16 32h1v1h-1zM66 32h1v1h-1zM62 33h1v1h-1zM64 33h1v1h-1zM22 34h1v1h-1zM35 34h1v1h-1zM65 34h1v1h-1zM51 35h1v1h-1zM73 35h1v1h-1zM73 36h1v1h-1zM25 37h1v1h-1zM13 38h1v1h-1zM15 38h1v1h-1zM29 38h1v1h-1zM53 38h1v1h-1zM66 38h1v1h-1zM33 39h1v1h-1zM44 39h1v1h-1zM49 39h1v1h-1zM64 39h1v1h-1zM5 40h1v1h-1zM23 40h1v1h-1zM52 40h1v1h-1zM63 40h1v1h-1zM5 41h1v1h-1zM72 41h1v1h-1zM52 42h1v1h-1zM59 42h1v1h-1zM49 43h1v1h-1zM52 43h1v1h-1zM33 44h1v1h-1zM53 44h1v1h-1zM66 44h1v1h-1zM46 45h1v1h-1zM52 45h1v1h-1zM63 45h1v1h-1zM68 45h1v1h-1zM53 46h1v1h-1zM37 47h1v1h-1zM41 47h1v1h-1zM57 47h1v1h-1zM1 48h2v1h-2zM23 48h1v1h-1zM42 48h1v1h-1zM43 49h1v1h-1zM51 49h1v1h-1zM57 49h1v1h-1zM68 49h1v1h-1zM5 50h1v1h-1zM39 50h1v1h-1zM61 50h1v1h-1zM63 50h1v1h-1zM6 51h1v1h-1zM22 51h1v1h-1zM35 51h1v1h-1zM32 52h1v1h-1zM37 52h1v1h-1zM40 52h1v1h-1zM42 52h1v1h-1zM45 52h1v1h-1zM51 52h1v1h-1zM57 52h1v1h-1zM21 53h1v1h-1zM51 53h1v1h-1zM53 56h1v1h-1zM42 57h2v1h-2zM45 57h1v1h-1zM55 57h1v1h-1zM36 58h1v1h-1zM10 59h1v1h-1zM13 59h1v1h-1zM42 59h2v1h-2zM51 60h1v1h-1zM35 61h1v1h-1zM40 61h1v1h-1zM43 61h1v1h-1zM48 61h1v1h-1zM30 62h1v1h-1zM32 62h1v1h-1zM36 63h1v1h-1zM41 63h1v1h-1zM46 63h1v1h-1zM40 64h1v1h-1zM27 65h1v1h-1zM46 65h1v1h-1zM29 67h1v1h-1zM37 67h1v1h-1zM40 67h1v1h-1zM43 67h1v1h-1zM50 67h1v1h-1zM30 68h1v1h-1zM36 68h1v1h-1zM48 68h1v1h-1zM18 69h1v1h-1zM45 69h1v1h-1zM54 69h1v1h-1zM38 70h1v1h-1zM47 70h1v1h-1zM37 71h1v1h-1zM43 71h1v1h-1zM8 72h1v1h-1zM45 72h1v1h-1zM17 73h1v1h-1zM24 73h1v1h-1zM44 73h1v1h-1zM7 74h1v1h-1zM20 74h1v1h-1zM35 74h1v1h-1zM12 75h1v1h-1zM37 75h2v1h-2zM34 76h1v1h-1zM37 76h1v1h-1zM21 77h1v1h-1zM28 77h1v1h-1zM52 78h1v1h-1zM4 80h1v1h-1zM19 80h1v1h-1zM35 80h1v1h-1zM47 81h1v1h-1zM5 82h1v1h-1zM5 83h1v1h-1zM41 84h1v1h-1zM20 85h1v1h-1zM43 88h1v1h-1zM44 90h1v1h-1z"/>
<path fill="#0f3b77" d="M30 5h1v1h-1zM63 5h1v1h-1zM35 6h1v1h-1zM73 6h1v1h-1zM28 7h1v1h-1zM49 7h1v1h-1zM60 7h1v1h-1zM18 8h1v1h-1zM31 9h1v1h-1zM62 9h1v1h-1zM66 9h1v1h-1zM52 10h1v1h-1zM70 10h1v1h-1zM34 11h1v1h-1zM46 11h1v1h-1zM58 11h1v1h-1zM34 12h1v1h-1zM58 12h1v1h-1zM65 12h2v1h-2zM71 12h1v1h-1zM74 12h2v1h-2zM14 13h2v1h-2zM41 13h1v1h-1zM61 13h1v1h-1zM76 13h1v1h-1zM28 14h1v1h-1zM69 14h1v1h-1zM72 14h1v1h-1zM83 14h1v1h-1zM48 15h1v1h-1zM51 15h1v1h-1zM55 15h1v1h-1zM61 15h2v1h-2zM47 16h2v1h-2zM51 16h1v1h-1zM61 16h1v1h-1zM70 16h1v1h-1zM73 16h1v1h-1zM22 17h1v1h-1zM26 17h1v1h-1zM47 17h1v1h-1zM55 17h1v1h-1zM57 17h1v1h-1zM64 17h1v1h-1zM11 18h1v1h-1zM48 18h1v1h-1zM53 18h1v1h-1zM58 18h1v1h-1zM61 18h1v1h-1zM65 18h1v1h-1zM67 18h1v1h-1zM69 18h1v1h-1zM76 18h1v1h-1zM41 19h1v1h-1zM44 19h1v1h-1zM48 19h1v1h-1zM51 19h1v1h-1zM58 19h1v1h-1zM60 19h2v1h-2zM63 19h2v1h-2zM69 19h1v1h-1zM82 19h1v1h-1zM9 20h1v1h-1zM35 20h1v1h-1zM50 20h2v1h-2zM60 20h1v1h-1zM66 20h1v1h-1zM77 20h1v1h-1zM80 20h1v1h-1zM85 20h1v1h-1zM26 21h1v1h-1zM29 21h1v1h-1zM42 21h1v1h-1zM51 21h1v1h-1zM53 21h1v1h-1zM58 21h1v1h-1zM66 21h1v1h-1zM70 21h1v1h-1zM38 22h1v1h-1zM57 22h2v1h-2zM66 22h1v1h-1zM74 22h1v1h-1zM80 22h1v1h-1zM10 23h1v1h-1zM17 23h1v1h-1zM21 23h1v1h-1zM25 23h1v1h-1zM35 23h1v1h-1zM49 23h1v1h-1zM51 23h2v1h-2zM72 23h1v1h-1zM81 23h1v1h-1zM43 24h2v1h-2zM47 24h1v1h-1zM49 24h1v1h-1zM54 24h1v1h-1zM60 24h1v1h-1zM69 24h1v1h-1zM71 24h1v1h-1zM51 25h1v1h-1zM58 25h2v1h-2zM65 25h1v1h-1zM74 25h1v1h-1zM20 26h1v1h-1zM32 26h1v1h-1zM47 26h1v1h-1zM50 26h1v1h-1zM53 26h1v1h-1zM55 26h1v1h-1zM65 26h1v1h-1zM68 26h2v1h-2zM33 27h1v1h-1zM59 27h2v1h-2zM63 27h2v1h-2zM71 27h1v1h-1zM75 27h1v1h-1zM81 27h1v1h-1zM5 28h1v1h-1zM7 28h1v1h-1zM25 28h1v1h-1zM29 28h1v1h-1zM49 28h1v1h-1zM51 28h1v1h-1zM54 28h1v1h-1zM60 28h1v1h-1zM65 28h1v1h-1zM70 28h1v1h-1zM99 28h1v1h-1zM25 29h1v1h-1zM50 29h1v1h-1zM53 29h1v1h-1zM57 29h1v1h-1zM59 29h1v1h-1zM78 29h2v1h-2zM19 30h1v1h-1zM36 30h1v1h-1zM51 30h1v1h-1zM63 30h1v1h-1zM72 30h2v1h-2zM80 30h1v1h-1zM53 31h1v1h-1zM58 31h2v1h-2zM63 31h1v1h-1zM75 31h1v1h-1zM4 32h1v1h-1zM6 32h1v1h-1zM30 32h1v1h-1zM58 32h1v1h-1zM62 32h1v1h-1zM68 32h1v1h-1zM72 32h1v1h-1zM76 32h1v1h-1zM79 32h1v1h-1zM4 33h1v1h-1zM46 33h1v1h-1zM60 33h1v1h-1zM75 33h1v1h-1zM91 33h1v1h-1zM27 34h1v1h-1zM58 34h1v1h-1zM66 34h1v1h-1zM79 34h1v1h-1zM86 34h1v1h-1zM13 35h1v1h-1zM35 35h1v1h-1zM62 35h1v1h-1zM77 35h1v1h-1zM80 35h1v1h-1zM22 36h1v1h-1zM45 36h1v1h-1zM60 36h1v1h-1zM67 36h3v1h-3zM72 36h1v1h-1zM54 37h1v1h-1zM61 37h1v1h-1zM65 37h3v1h-3zM71 37h4v1h-4zM34 38h1v1h-1zM36 38h1v1h-1zM68 38h1v1h-1zM72 38h1v1h-1zM78 38h1v1h-1zM85 38h1v1h-1zM9 39h1v1h-1zM11 39h1v1h-1zM16 39h1v1h-1zM24 39h1v1h-1zM62 39h1v1h-1zM10 40h1v1h-1zM40 40h1v1h-1zM44 40h1v1h-1zM59 40h1v1h-1zM62 40h1v1h-1zM64 40h1v1h-1zM68 40h1v1h-1zM33 41h1v1h-1zM36 41h1v1h-1zM41 41h1v1h-1zM46 41h1v1h-1zM62 41h1v1h-1zM66 41h1v1h-1zM80 41h1v1h-1zM91 41h1v1h-1zM14 42h1v1h-1zM40 42h1v1h-1zM47 42h1v1h-1zM49 42h1v1h-1zM68 42h1v1h-1zM74 42h1v1h-1zM21 43h1v1h-1zM68 43h1v1h-1zM75 43h1v1h-1zM31 44h1v1h-1zM37 44h1v1h-1zM62 44h2v1h-2zM68 44h1v1h-1zM31 45h1v1h-1zM49 45h2v1h-2zM55 45h1v1h-1zM5 46h1v1h-1zM58 46h1v1h-1zM66 46h1v1h-1zM14 47h1v1h-1zM19 47h1v1h-1zM50 47h1v1h-1zM55 47h1v1h-1zM64 47h1v1h-1zM40 48h1v1h-1zM49 48h1v1h-1zM59 48h1v1h-1zM44 49h1v1h-1zM49 49h1v1h-1zM69 49h1v1h-1zM34 50h1v1h-1zM38 50h1v1h-1zM44 50h1v1h-1zM53 50h1v1h-1zM28 51h1v1h-1zM36 51h1v1h-1zM55 51h1v1h-1zM58 51h1v1h-1zM38 52h1v1h-1zM39 53h1v1h-1zM42 53h1v1h-1zM47 53h1v1h-1zM49 53h1v1h-1zM57 53h1v1h-1zM76 53h1v1h-1zM30 54h1v1h-1zM38 54h1v1h-1zM51 54h2v1h-2zM63 54h1v1h-1zM37 55h1v1h-1zM50 55h1v1h-1zM53 55h1v1h-1zM65 55h1v1h-1zM14 56h2v1h-2zM29 56h1v1h-1zM48 56h1v1h-1zM54 56h1v1h-1zM59 56h1v1h-1zM56 57h1v1h-1zM61 57h1v1h-1zM66 57h1v1h-1zM33 58h1v1h-1zM47 58h1v1h-1zM1 59h1v1h-1zM64 59h1v1h-1zM8 60h1v1h-1zM37 60h1v1h-1zM52 60h1v1h-1zM15 61h1v1h-1zM26 61h1v1h-1zM19 62h1v1h-1zM43 62h1v1h-1zM46 62h1v1h-1zM51 62h1v1h-1zM6 64h1v1h-1zM11 64h1v1h-1zM14 64h1v1h-1zM21 64h1v1h-1zM28 64h1v1h-1zM44 64h1v1h-1zM32 65h1v1h-1zM36 65h1v1h-1zM43 65h2v1h-2zM27 66h2v1h-2zM38 66h1v1h-1zM49 66h2v1h-2zM54 66h1v1h-1zM59 66h1v1h-1zM61 66h1v1h-1zM27 67h1v1h-1zM45 67h1v1h-1zM51 67h1v1h-1zM56 67h1v1h-1zM25 68h1v1h-1zM35 68h1v1h-1zM49 68h1v1h-1zM22 69h1v1h-1zM33 69h3v1h-3zM41 69h1v1h-1zM17 70h1v1h-1zM23 70h1v1h-1zM33 70h1v1h-1zM27 71h1v1h-1zM29 71h1v1h-1zM49 71h1v1h-1zM37 72h1v1h-1zM53 72h1v1h-1zM21 73h1v1h-1zM52 73h1v1h-1zM60 73h1v1h-1zM16 74h1v1h-1zM37 74h1v1h-1zM46 74h1v1h-1zM48 74h1v1h-1zM23 75h1v1h-1zM30 75h1v1h-1zM54 77h1v1h-1zM31 78h1v1h-1zM49 78h1v1h-1zM27 79h1v1h-1zM41 79h1v1h-1zM53 79h1v1h-1zM11 83h1v1h-1zM38 83h1v1h-1zM30 84h1v1h-1zM33 84h1v1h-1zM35 84h1v1h-1zM40 84h1v1h-1zM19 85h1v1h-1zM47 86h1v1h-1zM47 87h1v1h-1z"/>
<path fill="#0b3b75" d="M41 4h1v1h-1zM39 5h1v1h-1zM36 6h1v1h-1zM57 6h1v1h-1zM43 7h1v1h-1zM47 7h1v1h-1zM56 7h1v1h-1zM44 8h1v1h-1zM47 8h1v1h-1zM33 9h1v1h-1zM36 9h1v1h-1zM34 10h1v1h-1zM58 10h1v1h-1zM28 11h1v1h-1zM47 11h1v1h-1zM11 12h1v1h-1zM56 12h1v1h-1zM80 12h1v1h-1zM33 13h1v1h-1zM36 13h1v1h-1zM49 13h2v1h-2zM53 13h1v1h-1zM65 14h1v1h-1zM36 15h1v1h-1zM39 15h1v1h-1zM43 15h1v1h-1zM47 15h1v1h-1zM21 16h1v1h-1zM27 16h1v1h-1zM11 17h1v1h-1zM21 17h1v1h-1zM39 17h1v1h-1zM51 17h1v1h-1zM70 17h1v1h-1zM12 18h1v1h-1zM14 18h1v1h-1zM21 18h1v1h-1zM26 18h1v1h-1zM46 18h2v1h-2zM49 18h1v1h-1zM85 18h1v1h-1zM17 19h1v1h-1zM21 19h1v1h-1zM52 19h1v1h-1zM80 19h1v1h-1zM42 20h1v1h-1zM48 20h1v1h-1zM63 20h1v1h-1zM8 21h1v1h-1zM5 22h1v1h-1zM17 22h1v1h-1zM21 22h1v1h-1zM39 22h2v1h-2zM55 22h1v1h-1zM62 22h1v1h-1zM27 23h1v1h-1zM32 23h1v1h-1zM79 23h1v1h-1zM8 24h1v1h-1zM13 24h1v1h-1zM15 24h1v1h-1zM31 24h1v1h-1zM34 24h1v1h-1zM27 25h1v1h-1zM29 25h1v1h-1zM45 25h1v1h-1zM57 25h1v1h-1zM73 25h1v1h-1zM42 26h1v1h-1zM63 26h1v1h-1zM22 27h1v1h-1zM31 27h1v1h-1zM57 27h1v1h-1zM21 28h2v1h-2zM34 28h1v1h-1zM50 28h1v1h-1zM53 28h1v1h-1zM55 28h1v1h-1zM23 29h1v1h-1zM54 29h1v1h-1zM68 29h2v1h-2zM75 29h1v1h-1zM9 30h2v1h-2zM20 30h2v1h-2zM33 30h1v1h-1zM42 30h1v1h-1zM50 30h1v1h-1zM66 30h1v1h-1zM23 31h1v1h-1zM50 31h1v1h-1zM54 31h1v1h-1zM62 31h1v1h-1zM66 31h1v1h-1zM34 32h1v1h-1zM41 32h1v1h-1zM45 32h1v1h-1zM63 32h1v1h-1zM6 33h2v1h-2zM11 33h1v1h-1zM14 33h1v1h-1zM31 33h1v1h-1zM35 33h1v1h-1zM39 33h1v1h-1zM45 33h1v1h-1zM39 34h1v1h-1zM41 34h1v1h-1zM46 34h1v1h-1zM56 34h1v1h-1zM69 34h1v1h-1zM17 35h1v1h-1zM26 35h1v1h-1zM28 35h1v1h-1zM45 35h3v1h-3zM55 35h1v1h-1zM72 35h1v1h-1zM29 36h1v1h-1zM56 36h1v1h-1zM64 36h1v1h-1zM10 37h1v1h-1zM23 37h1v1h-1zM29 37h1v1h-1zM31 37h1v1h-1zM37 37h1v1h-1zM46 37h1v1h-1zM49 37h1v1h-1zM64 37h1v1h-1zM2 38h1v1h-1zM4 38h1v1h-1zM31 38h1v1h-1zM35 38h1v1h-1zM43 38h1v1h-1zM47 38h1v1h-1zM63 38h1v1h-1zM67 38h1v1h-1zM32 39h1v1h-1zM46 39h1v1h-1zM50 39h1v1h-1zM7 40h1v1h-1zM15 40h1v1h-1zM19 40h1v1h-1zM43 40h1v1h-1zM50 40h1v1h-1zM57 40h1v1h-1zM70 40h2v1h-2zM81 40h1v1h-1zM25 41h1v1h-1zM39 41h1v1h-1zM43 41h1v1h-1zM49 41h1v1h-1zM59 41h1v1h-1zM64 41h1v1h-1zM69 41h1v1h-1zM18 42h1v1h-1zM22 42h1v1h-1zM44 42h1v1h-1zM61 42h1v1h-1zM70 42h1v1h-1zM20 43h1v1h-1zM27 43h1v1h-1zM37 43h1v1h-1zM42 43h1v1h-1zM48 43h1v1h-1zM53 43h2v1h-2zM70 43h1v1h-1zM2 44h1v1h-1zM20 44h1v1h-1zM40 44h1v1h-1zM42 44h1v1h-1zM13 45h1v1h-1zM27 45h2v1h-2zM36 45h1v1h-1zM40 45h1v1h-1zM42 45h1v1h-1zM21 46h1v1h-1zM41 46h1v1h-1zM55 46h1v1h-1zM75 46h1v1h-1zM8 47h2v1h-2zM28 47h1v1h-1zM31 47h1v1h-1zM34 47h1v1h-1zM39 47h1v1h-1zM26 48h1v1h-1zM31 48h1v1h-1zM35 48h1v1h-1zM41 48h1v1h-1zM7 49h1v1h-1zM39 49h1v1h-1zM41 49h1v1h-1zM48 49h1v1h-1zM52 49h1v1h-1zM75 49h1v1h-1zM19 50h1v1h-1zM29 50h1v1h-1zM40 50h1v1h-1zM47 50h1v1h-1zM6 52h1v1h-1zM34 52h1v1h-1zM58 52h1v1h-1zM10 53h1v1h-1zM36 53h1v1h-1zM45 53h1v1h-1zM52 53h1v1h-1zM9 54h2v1h-2zM15 54h2v1h-2zM19 54h1v1h-1zM27 54h1v1h-1zM35 54h1v1h-1zM39 54h1v1h-1zM46 54h1v1h-1zM30 55h1v1h-1zM34 55h2v1h-2zM51 55h1v1h-1zM58 55h1v1h-1zM64 55h1v1h-1zM16 56h1v1h-1zM23 56h1v1h-1zM28 56h1v1h-1zM30 56h1v1h-1zM32 56h1v1h-1zM41 56h2v1h-2zM46 56h2v1h-2zM60 56h2v1h-2zM5 57h1v1h-1zM22 57h1v1h-1zM39 57h1v1h-1zM51 57h2v1h-2zM30 58h2v1h-2zM38 58h1v1h-1zM63 58h1v1h-1zM19 59h1v1h-1zM40 59h2v1h-2zM48 59h1v1h-1zM51 59h1v1h-1zM9 60h1v1h-1zM20 60h1v1h-1zM28 60h1v1h-1zM34 60h1v1h-1zM39 60h1v1h-1zM47 60h1v1h-1zM50 60h1v1h-1zM19 61h1v1h-1zM41 61h1v1h-1zM58 61h1v1h-1zM24 62h2v1h-2zM35 62h1v1h-1zM37 62h1v1h-1zM41 62h2v1h-2zM50 62h1v1h-1zM53 62h1v1h-1zM56 62h1v1h-1zM61 62h1v1h-1zM19 63h1v1h-1zM28 63h1v1h-1zM35 63h1v1h-1zM39 63h1v1h-1zM55 63h1v1h-1zM36 64h1v1h-1zM38 64h1v1h-1zM46 64h1v1h-1zM51 64h1v1h-1zM55 64h1v1h-1zM22 65h1v1h-1zM24 65h1v1h-1zM30 65h2v1h-2zM52 65h1v1h-1zM8 66h1v1h-1zM14 66h1v1h-1zM18 66h1v1h-1zM34 66h2v1h-2zM22 67h1v1h-1zM13 68h1v1h-1zM39 68h3v1h-3zM16 69h1v1h-1zM19 69h1v1h-1zM21 69h1v1h-1zM28 69h2v1h-2zM37 69h1v1h-1zM39 69h1v1h-1zM43 69h1v1h-1zM48 69h1v1h-1zM28 70h1v1h-1zM11 71h1v1h-1zM15 71h1v1h-1zM22 71h1v1h-1zM31 71h1v1h-1zM3 72h1v1h-1zM18 72h1v1h-1zM22 72h1v1h-1zM25 72h1v1h-1zM30 72h1v1h-1zM58 72h1v1h-1zM10 73h1v1h-1zM23 73h1v1h-1zM26 73h1v1h-1zM32 73h2v1h-2zM51 73h1v1h-1zM28 74h1v1h-1zM50 74h1v1h-1zM22 75h1v1h-1zM24 75h2v1h-2zM40 75h1v1h-1zM45 75h1v1h-1zM7 76h1v1h-1zM29 76h1v1h-1zM10 77h1v1h-1zM22 77h1v1h-1zM34 77h1v1h-1zM38 77h1v1h-1zM46 77h1v1h-1zM15 78h1v1h-1zM38 78h1v1h-1zM10 79h1v1h-1zM13 79h1v1h-1zM32 79h1v1h-1zM17 80h1v1h-1zM21 80h1v1h-1zM45 80h1v1h-1zM6 81h1v1h-1zM15 81h1v1h-1zM28 81h2v1h-2zM35 81h1v1h-1zM20 83h1v1h-1zM28 83h1v1h-1zM32 83h1v1h-1zM13 85h1v1h-1zM40 85h1v1h-1zM42 87h1v1h-1zM5 89h1v1h-1z"/>
<path fill="#073b74" d="M69 5h1v1h-1zM40 10h1v1h-1zM35 13h1v1h-1zM10 14h1v1h-1zM31 14h1v1h-1zM33 14h1v1h-1zM14 15h1v1h-1zM20 15h1v1h-1zM35 16h1v1h-1zM20 17h1v1h-1zM19 19h1v1h-1zM22 19h1v1h-1zM34 19h1v1h-1zM36 19h1v1h-1zM19 20h2v1h-2zM36 20h1v1h-1zM11 21h1v1h-1zM24 21h1v1h-1zM32 21h1v1h-1zM39 21h1v1h-1zM46 21h1v1h-1zM22 22h1v1h-1zM40 23h1v1h-1zM60 23h1v1h-1zM11 24h1v1h-1zM33 24h1v1h-1zM23 25h1v1h-1zM39 25h1v1h-1zM13 26h1v1h-1zM45 26h1v1h-1zM11 27h1v1h-1zM28 27h1v1h-1zM51 27h1v1h-1zM56 28h1v1h-1zM4 29h1v1h-1zM21 29h1v1h-1zM56 29h1v1h-1zM12 30h1v1h-1zM23 30h1v1h-1zM26 30h1v1h-1zM30 30h1v1h-1zM32 30h1v1h-1zM34 30h1v1h-1zM37 30h1v1h-1zM44 30h1v1h-1zM62 30h1v1h-1zM12 31h1v1h-1zM27 31h1v1h-1zM22 32h1v1h-1zM43 32h1v1h-1zM13 33h1v1h-1zM27 33h1v1h-1zM47 33h1v1h-1zM32 34h1v1h-1zM50 34h1v1h-1zM54 34h1v1h-1zM20 35h2v1h-2zM33 35h1v1h-1zM42 35h1v1h-1zM44 36h1v1h-1zM51 36h2v1h-2zM70 36h1v1h-1zM11 37h1v1h-1zM44 37h2v1h-2zM58 37h1v1h-1zM3 38h1v1h-1zM14 38h1v1h-1zM44 38h1v1h-1zM18 39h1v1h-1zM25 39h1v1h-1zM31 39h1v1h-1zM39 39h1v1h-1zM42 39h1v1h-1zM61 39h1v1h-1zM66 39h1v1h-1zM8 40h1v1h-1zM26 40h1v1h-1zM45 40h1v1h-1zM53 40h1v1h-1zM22 41h2v1h-2zM52 41h1v1h-1zM5 42h1v1h-1zM16 42h1v1h-1zM38 42h1v1h-1zM41 42h3v1h-3zM16 43h1v1h-1zM31 43h1v1h-1zM36 43h1v1h-1zM40 43h1v1h-1zM43 43h1v1h-1zM58 43h1v1h-1zM16 44h1v1h-1zM36 44h1v1h-1zM39 44h1v1h-1zM41 44h1v1h-1zM15 45h1v1h-1zM45 45h1v1h-1zM54 45h1v1h-1zM12 46h1v1h-1zM15 46h1v1h-1zM23 46h1v1h-1zM30 46h2v1h-2zM43 46h1v1h-1zM57 46h1v1h-1zM18 47h1v1h-1zM27 47h1v1h-1zM29 47h1v1h-1zM36 48h2v1h-2zM43 48h1v1h-1zM46 48h1v1h-1zM58 48h1v1h-1zM10 49h1v1h-1zM29 49h1v1h-1zM22 50h2v1h-2zM32 50h1v1h-1zM36 50h1v1h-1zM45 50h1v1h-1zM49 50h1v1h-1zM52 50h1v1h-1zM55 50h1v1h-1zM8 51h1v1h-1zM21 51h1v1h-1zM33 51h1v1h-1zM37 51h1v1h-1zM40 51h1v1h-1zM48 51h1v1h-1zM4 52h1v1h-1zM22 52h2v1h-2zM30 52h1v1h-1zM52 52h1v1h-1zM9 53h1v1h-1zM17 53h1v1h-1zM20 53h1v1h-1zM33 53h2v1h-2zM37 53h2v1h-2zM41 53h1v1h-1zM24 54h2v1h-2zM31 54h1v1h-1zM37 54h1v1h-1zM40 54h1v1h-1zM50 54h1v1h-1zM32 55h1v1h-1zM39 55h3v1h-3zM43 55h1v1h-1zM45 55h1v1h-1zM49 55h1v1h-1zM4 56h1v1h-1zM9 56h2v1h-2zM18 56h1v1h-1zM20 56h1v1h-1zM26 56h1v1h-1zM33 56h1v1h-1zM37 56h1v1h-1zM2 57h1v1h-1zM20 57h1v1h-1zM32 57h2v1h-2zM37 57h1v1h-1zM1 58h1v1h-1zM8 58h2v1h-2zM18 58h1v1h-1zM43 58h1v1h-1zM46 58h1v1h-1zM6 59h1v1h-1zM23 59h1v1h-1zM26 59h1v1h-1zM28 59h3v1h-3zM37 59h1v1h-1zM12 60h1v1h-1zM24 60h1v1h-1zM26 60h1v1h-1zM48 60h1v1h-1zM55 60h1v1h-1zM16 61h1v1h-1zM20 61h3v1h-3zM30 61h1v1h-1zM32 61h1v1h-1zM34 61h1v1h-1zM45 61h1v1h-1zM6 62h1v1h-1zM16 62h1v1h-1zM18 62h1v1h-1zM23 62h1v1h-1zM26 62h1v1h-1zM31 62h1v1h-1zM33 62h1v1h-1zM36 62h1v1h-1zM20 63h1v1h-1zM22 63h1v1h-1zM24 63h1v1h-1zM26 63h1v1h-1zM31 63h1v1h-1zM26 64h1v1h-1zM37 64h1v1h-1zM57 64h1v1h-1zM14 65h1v1h-1zM16 66h1v1h-1zM19 66h1v1h-1zM24 66h2v1h-2zM29 66h1v1h-1zM48 66h1v1h-1zM52 66h1v1h-1zM23 67h1v1h-1zM26 67h1v1h-1zM33 67h2v1h-2zM53 67h1v1h-1zM10 68h1v1h-1zM19 68h1v1h-1zM21 68h1v1h-1zM37 68h1v1h-1zM46 68h1v1h-1zM26 69h1v1h-1zM31 69h1v1h-1zM10 70h1v1h-1zM35 70h1v1h-1zM8 71h1v1h-1zM46 71h1v1h-1zM12 72h1v1h-1zM24 72h1v1h-1zM28 72h2v1h-2zM34 72h1v1h-1zM46 72h1v1h-1zM22 73h1v1h-1zM30 73h1v1h-1zM6 74h1v1h-1zM13 74h1v1h-1zM19 74h1v1h-1zM29 74h1v1h-1zM36 74h1v1h-1zM33 75h1v1h-1zM64 75h1v1h-1zM38 76h1v1h-1zM45 76h1v1h-1zM18 77h1v1h-1zM29 77h1v1h-1zM43 77h1v1h-1zM5 78h2v1h-2zM24 81h1v1h-1zM30 81h1v1h-1zM11 82h2v1h-2zM17 82h1v1h-1zM22 82h1v1h-1zM7 84h1v1h-1zM8 85h1v1h-1zM33 86h1v1h-1zM39 87h1v1h-1zM45 87h1v1h-1zM30 89h1v1h-1zM33 91h1v1h-1z"/>
<path fill="#023c72" d="M62 0h1v1h-1zM50 2h1v1h-1zM52 6h1v1h-1zM35 7h1v1h-1zM38 8h1v1h-1zM21 9h1v1h-1zM38 9h1v1h-1zM21 10h1v1h-1zM29 10h1v1h-1zM35 11h1v1h-1zM30 12h1v1h-1zM24 13h1v1h-1zM22 15h1v1h-1zM13 16h1v1h-1zM31 16h1v1h-1zM9 17h1v1h-1zM9 18h1v1h-1zM14 23h2v1h-2zM18 24h1v1h-1zM50 24h1v1h-1zM52 24h1v1h-1zM34 25h1v1h-1zM3 26h1v1h-1zM21 27h1v1h-1zM35 27h1v1h-1zM45 27h1v1h-1zM15 28h1v1h-1zM18 28h1v1h-1zM67 28h1v1h-1zM6 29h1v1h-1zM26 29h1v1h-1zM35 29h1v1h-1zM37 29h2v1h-2zM40 29h1v1h-1zM16 30h1v1h-1zM60 30h1v1h-1zM11 31h1v1h-1zM30 31h1v1h-1zM32 31h1v1h-1zM38 31h1v1h-1zM44 31h2v1h-2zM49 31h1v1h-1zM5 32h1v1h-1zM14 32h1v1h-1zM29 32h1v1h-1zM31 32h1v1h-1zM37 32h1v1h-1zM46 32h1v1h-1zM20 33h2v1h-2zM23 33h2v1h-2zM26 33h1v1h-1zM30 33h1v1h-1zM33 33h1v1h-1zM17 34h1v1h-1zM6 35h1v1h-1zM12 35h1v1h-1zM19 35h1v1h-1zM22 35h1v1h-1zM36 35h1v1h-1zM38 35h1v1h-1zM41 35h1v1h-1zM10 36h2v1h-2zM30 36h1v1h-1zM37 36h1v1h-1zM39 36h1v1h-1zM65 36h1v1h-1zM7 37h1v1h-1zM15 37h1v1h-1zM35 37h1v1h-1zM7 38h1v1h-1zM18 38h1v1h-1zM21 38h1v1h-1zM30 38h1v1h-1zM41 38h1v1h-1zM49 38h1v1h-1zM57 38h1v1h-1zM59 38h1v1h-1zM5 39h1v1h-1zM21 39h1v1h-1zM29 39h1v1h-1zM21 40h1v1h-1zM32 40h1v1h-1zM41 40h1v1h-1zM54 40h1v1h-1zM56 40h1v1h-1zM60 40h1v1h-1zM11 41h1v1h-1zM26 41h1v1h-1zM34 41h1v1h-1zM44 41h1v1h-1zM54 41h1v1h-1zM61 41h1v1h-1zM3 42h1v1h-1zM15 42h1v1h-1zM29 42h1v1h-1zM32 42h1v1h-1zM37 42h1v1h-1zM50 42h1v1h-1zM54 42h1v1h-1zM63 42h1v1h-1zM14 43h1v1h-1zM19 43h1v1h-1zM38 43h1v1h-1zM12 44h1v1h-1zM15 44h1v1h-1zM19 44h1v1h-1zM23 44h1v1h-1zM26 44h1v1h-1zM43 44h2v1h-2zM7 45h1v1h-1zM9 45h1v1h-1zM23 45h1v1h-1zM30 45h1v1h-1zM53 45h1v1h-1zM67 45h1v1h-1zM14 46h1v1h-1zM24 46h1v1h-1zM42 46h1v1h-1zM54 46h1v1h-1zM61 46h1v1h-1zM0 47h1v1h-1zM35 47h2v1h-2zM45 47h1v1h-1zM56 47h1v1h-1zM13 48h1v1h-1zM18 48h2v1h-2zM24 48h2v1h-2zM29 48h1v1h-1zM34 48h1v1h-1zM38 48h1v1h-1zM47 48h1v1h-1zM21 49h1v1h-1zM23 49h1v1h-1zM31 49h1v1h-1zM34 49h1v1h-1zM38 49h1v1h-1zM55 49h1v1h-1zM15 50h1v1h-1zM21 50h1v1h-1zM37 50h1v1h-1zM43 50h1v1h-1zM5 51h1v1h-1zM23 51h1v1h-1zM34 51h1v1h-1zM47 51h1v1h-1zM53 51h1v1h-1zM39 52h1v1h-1zM12 53h1v1h-1zM16 53h1v1h-1zM23 53h1v1h-1zM26 53h1v1h-1zM28 53h2v1h-2zM5 54h1v1h-1zM13 54h1v1h-1zM21 54h2v1h-2zM28 54h2v1h-2zM34 54h1v1h-1zM6 55h1v1h-1zM11 55h1v1h-1zM17 55h2v1h-2zM27 55h2v1h-2zM33 55h1v1h-1zM38 55h1v1h-1zM7 56h1v1h-1zM22 56h1v1h-1zM31 56h1v1h-1zM35 56h1v1h-1zM38 56h2v1h-2zM50 56h1v1h-1zM1 57h1v1h-1zM6 57h1v1h-1zM11 57h1v1h-1zM15 57h2v1h-2zM26 57h1v1h-1zM28 57h2v1h-2zM44 57h1v1h-1zM58 57h1v1h-1zM10 58h1v1h-1zM26 58h1v1h-1zM5 59h1v1h-1zM15 59h1v1h-1zM25 59h1v1h-1zM27 59h1v1h-1zM36 59h1v1h-1zM49 59h2v1h-2zM56 59h1v1h-1zM7 60h1v1h-1zM14 60h1v1h-1zM18 60h1v1h-1zM30 60h1v1h-1zM33 60h1v1h-1zM35 60h1v1h-1zM56 60h1v1h-1zM6 61h1v1h-1zM17 61h2v1h-2zM24 61h1v1h-1zM33 61h1v1h-1zM36 61h1v1h-1zM7 62h1v1h-1zM13 62h2v1h-2zM20 62h1v1h-1zM28 62h2v1h-2zM34 62h1v1h-1zM38 62h1v1h-1zM23 63h1v1h-1zM54 63h1v1h-1zM68 63h1v1h-1zM22 64h1v1h-1zM29 64h1v1h-1zM29 65h1v1h-1zM33 65h1v1h-1zM35 65h1v1h-1zM42 65h1v1h-1zM57 65h1v1h-1zM4 66h1v1h-1zM9 66h1v1h-1zM17 66h1v1h-1zM20 66h2v1h-2zM36 66h1v1h-1zM41 66h1v1h-1zM43 66h1v1h-1zM9 67h1v1h-1zM13 67h1v1h-1zM19 67h1v1h-1zM38 67h1v1h-1zM41 67h1v1h-1zM44 67h1v1h-1zM22 68h1v1h-1zM24 68h1v1h-1zM26 68h3v1h-3zM38 68h1v1h-1zM50 68h2v1h-2zM40 69h1v1h-1zM46 69h1v1h-1zM49 69h1v1h-1zM55 69h1v1h-1zM7 70h2v1h-2zM16 70h1v1h-1zM27 70h1v1h-1zM52 70h1v1h-1zM14 71h1v1h-1zM16 71h1v1h-1zM25 71h1v1h-1zM40 71h1v1h-1zM45 71h1v1h-1zM21 72h1v1h-1zM39 72h2v1h-2zM43 72h1v1h-1zM55 72h1v1h-1zM12 73h1v1h-1zM34 73h1v1h-1zM47 73h1v1h-1zM8 74h1v1h-1zM11 74h1v1h-1zM32 74h1v1h-1zM6 75h1v1h-1zM14 75h1v1h-1zM17 75h2v1h-2zM9 76h1v1h-1zM14 76h1v1h-1zM24 76h1v1h-1zM33 76h1v1h-1zM27 77h1v1h-1zM9 78h1v1h-1zM14 78h1v1h-1zM20 78h1v1h-1zM28 78h2v1h-2zM39 78h1v1h-1zM14 79h1v1h-1zM27 80h1v1h-1zM26 82h1v1h-1zM33 82h1v1h-1zM17 83h1v1h-1zM36 83h1v1h-1zM34 84h1v1h-1zM33 85h1v1h-1zM20 88h1v1h-1z"/>
<path fill="#013e6f" d="M47 2h1v1h-1zM60 2h1v1h-1zM40 4h1v1h-1zM57 5h1v1h-1zM25 8h1v1h-1zM45 8h1v1h-1zM52 8h1v1h-1zM50 9h1v1h-1zM25 10h1v1h-1zM36 10h1v1h-1zM38 12h1v1h-1zM48 13h1v1h-1zM18 14h1v1h-1zM44 14h1v1h-1zM6 15h1v1h-1zM26 15h1v1h-1zM46 15h1v1h-1zM28 16h1v1h-1zM45 17h1v1h-1zM32 18h1v1h-1zM42 18h1v1h-1zM4 19h1v1h-1zM46 19h1v1h-1zM10 21h1v1h-1zM22 21h1v1h-1zM9 23h1v1h-1zM18 23h1v1h-1zM30 23h1v1h-1zM22 25h1v1h-1zM33 25h1v1h-1zM8 26h1v1h-1zM19 26h1v1h-1zM23 26h1v1h-1zM39 26h1v1h-1zM2 27h1v1h-1zM9 27h1v1h-1zM24 27h1v1h-1zM37 28h1v1h-1zM45 28h1v1h-1zM29 29h1v1h-1zM51 29h1v1h-1zM25 31h1v1h-1zM40 32h1v1h-1zM47 32h1v1h-1zM9 33h1v1h-1zM12 33h1v1h-1zM16 33h4v1h-4zM22 33h1v1h-1zM37 33h1v1h-1zM19 34h1v1h-1zM63 34h2v1h-2zM54 35h1v1h-1zM65 35h1v1h-1zM20 36h1v1h-1zM24 36h1v1h-1zM47 36h1v1h-1zM55 36h1v1h-1zM2 37h1v1h-1zM20 37h1v1h-1zM22 37h1v1h-1zM30 37h1v1h-1zM32 37h1v1h-1zM38 37h1v1h-1zM42 37h1v1h-1zM47 37h1v1h-1zM8 38h1v1h-1zM10 38h1v1h-1zM17 38h1v1h-1zM33 38h1v1h-1zM38 38h3v1h-3zM51 38h1v1h-1zM14 39h1v1h-1zM26 39h1v1h-1zM38 39h1v1h-1zM54 39h1v1h-1zM57 39h1v1h-1zM60 39h1v1h-1zM29 40h1v1h-1zM33 40h1v1h-1zM39 40h1v1h-1zM42 40h1v1h-1zM14 41h1v1h-1zM17 41h1v1h-1zM27 41h1v1h-1zM29 41h1v1h-1zM31 41h1v1h-1zM55 41h1v1h-1zM1 42h1v1h-1zM12 42h1v1h-1zM23 42h1v1h-1zM25 42h1v1h-1zM35 42h1v1h-1zM4 43h1v1h-1zM11 43h1v1h-1zM15 43h1v1h-1zM17 43h1v1h-1zM29 43h1v1h-1zM33 43h1v1h-1zM46 43h1v1h-1zM65 43h1v1h-1zM13 44h1v1h-1zM30 44h1v1h-1zM35 44h1v1h-1zM10 45h1v1h-1zM17 45h1v1h-1zM25 45h1v1h-1zM32 45h1v1h-1zM37 45h2v1h-2zM41 45h1v1h-1zM43 45h1v1h-1zM20 46h1v1h-1zM22 46h1v1h-1zM46 46h1v1h-1zM49 46h1v1h-1zM10 47h1v1h-1zM17 47h1v1h-1zM20 47h1v1h-1zM22 47h2v1h-2zM42 47h1v1h-1zM52 47h1v1h-1zM11 48h1v1h-1zM15 48h1v1h-1zM22 48h1v1h-1zM27 48h1v1h-1zM32 48h2v1h-2zM54 48h1v1h-1zM2 49h1v1h-1zM11 49h1v1h-1zM13 49h3v1h-3zM25 49h1v1h-1zM30 49h1v1h-1zM35 49h1v1h-1zM37 49h1v1h-1zM42 49h1v1h-1zM9 50h1v1h-1zM26 50h3v1h-3zM33 50h1v1h-1zM48 50h1v1h-1zM51 50h1v1h-1zM54 50h1v1h-1zM4 51h1v1h-1zM7 51h1v1h-1zM20 51h1v1h-1zM31 51h1v1h-1zM42 51h2v1h-2zM9 52h1v1h-1zM12 52h1v1h-1zM14 52h1v1h-1zM26 52h2v1h-2zM31 52h1v1h-1zM55 52h2v1h-2zM4 53h1v1h-1zM6 53h1v1h-1zM25 53h1v1h-1zM30 53h1v1h-1zM35 53h1v1h-1zM40 53h1v1h-1zM48 53h1v1h-1zM14 54h1v1h-1zM32 54h1v1h-1zM43 54h1v1h-1zM15 55h1v1h-1zM26 55h1v1h-1zM31 55h1v1h-1zM46 55h2v1h-2zM17 56h1v1h-1zM21 56h1v1h-1zM45 56h1v1h-1zM13 57h1v1h-1zM19 57h1v1h-1zM27 57h1v1h-1zM41 57h1v1h-1zM47 57h1v1h-1zM16 58h2v1h-2zM19 58h1v1h-1zM22 58h1v1h-1zM24 58h2v1h-2zM29 58h1v1h-1zM34 58h1v1h-1zM45 58h1v1h-1zM3 59h1v1h-1zM17 59h1v1h-1zM31 59h1v1h-1zM39 59h1v1h-1zM59 59h1v1h-1zM17 60h1v1h-1zM19 60h1v1h-1zM27 60h1v1h-1zM31 60h2v1h-2zM44 60h1v1h-1zM10 61h1v1h-1zM23 61h1v1h-1zM25 61h1v1h-1zM47 61h1v1h-1zM27 62h1v1h-1zM6 63h1v1h-1zM18 63h1v1h-1zM25 63h1v1h-1zM27 63h1v1h-1zM38 63h1v1h-1zM40 63h1v1h-1zM2 64h1v1h-1zM12 64h1v1h-1zM15 64h1v1h-1zM19 64h1v1h-1zM27 64h1v1h-1zM32 64h1v1h-1zM42 64h1v1h-1zM10 65h1v1h-1zM41 65h1v1h-1zM47 65h1v1h-1zM7 66h1v1h-1zM15 66h1v1h-1zM26 66h1v1h-1zM30 66h1v1h-1zM33 66h1v1h-1zM37 66h1v1h-1zM17 67h1v1h-1zM21 67h1v1h-1zM42 67h1v1h-1zM8 69h2v1h-2zM36 69h1v1h-1zM11 70h1v1h-1zM19 70h1v1h-1zM21 70h1v1h-1zM25 70h2v1h-2zM20 71h1v1h-1zM50 71h1v1h-1zM10 72h1v1h-1zM26 72h1v1h-1zM35 72h1v1h-1zM3 73h1v1h-1zM6 73h1v1h-1zM14 73h1v1h-1zM16 73h1v1h-1zM37 73h1v1h-1zM40 73h1v1h-1zM39 74h1v1h-1zM41 74h1v1h-1zM36 75h1v1h-1zM18 76h1v1h-1zM21 76h1v1h-1zM28 76h1v1h-1zM56 76h1v1h-1zM4 77h1v1h-1zM12 77h1v1h-1zM20 77h1v1h-1zM37 77h1v1h-1zM12 78h1v1h-1zM22 78h1v1h-1zM40 78h1v1h-1zM42 78h1v1h-1zM8 79h1v1h-1zM22 79h2v1h-2zM39 79h1v1h-1zM25 80h1v1h-1zM37 80h1v1h-1zM39 80h1v1h-1zM13 81h1v1h-1zM27 81h1v1h-1zM40 81h1v1h-1zM44 81h1v1h-1zM39 82h1v1h-1zM44 82h1v1h-1zM22 83h1v1h-1zM25 83h1v1h-1zM29 83h1v1h-1zM33 83h1v1h-1zM3 84h1v1h-1zM25 84h2v1h-2zM43 84h1v1h-1zM10 85h1v1h-1zM28 85h1v1h-1zM14 86h1v1h-1zM35 86h1v1h-1zM42 86h1v1h-1zM18 87h1v1h-1zM30 87h1v1h-1zM34 87h1v1h-1zM53 87h1v1h-1zM33 88h1v1h-1zM15 89h1v1h-1zM19 89h1v1h-1zM25 89h1v1h-1zM33 89h1v1h-1zM12 90h1v1h-1zM20 90h1v1h-1zM38 90h1v1h-1zM14 91h1v1h-1zM23 91h1v1h-1zM34 91h1v1h-1zM25 92h1v1h-1zM29 92h1v1h-1zM31 92h1v1h-1zM47 92h2v1h-2zM62 92h2v1h-2zM70 92h1v1h-1zM13 93h1v1h-1zM21 93h1v1h-1zM46 93h1v1h-1zM23 94h1v1h-1zM31 94h1v1h-1zM50 94h1v1h-1zM30 95h1v1h-1zM42 95h1v1h-1zM24 96h1v1h-1zM9 97h1v1h-1zM31 98h1v1h-1z"/>
<path fill="#02416c" d="M45 11h1v1h-1zM7 15h1v1h-1zM13 15h1v1h-1zM41 16h1v1h-1zM14 17h1v1h-1zM20 18h1v1h-1zM8 19h1v1h-1zM24 19h1v1h-1zM38 19h1v1h-1zM17 20h1v1h-1zM33 20h1v1h-1zM58 20h1v1h-1zM10 22h1v1h-1zM5 23h1v1h-1zM23 24h1v1h-1zM27 24h1v1h-1zM42 24h1v1h-1zM19 25h1v1h-1zM26 26h1v1h-1zM13 27h1v1h-1zM35 28h1v1h-1zM0 29h1v1h-1zM22 29h1v1h-1zM6 30h1v1h-1zM15 30h1v1h-1zM22 30h1v1h-1zM25 30h1v1h-1zM6 31h1v1h-1zM15 31h2v1h-2zM31 31h1v1h-1zM35 31h1v1h-1zM1 32h1v1h-1zM10 32h1v1h-1zM18 32h4v1h-4zM39 32h1v1h-1zM1 33h1v1h-1zM15 33h1v1h-1zM41 33h1v1h-1zM1 34h1v1h-1zM24 34h1v1h-1zM45 34h1v1h-1zM8 35h1v1h-1zM30 35h2v1h-2zM1 36h1v1h-1zM12 36h1v1h-1zM21 36h1v1h-1zM27 36h2v1h-2zM34 36h1v1h-1zM62 36h1v1h-1zM27 37h1v1h-1zM34 37h1v1h-1zM41 37h1v1h-1zM24 38h1v1h-1zM37 38h1v1h-1zM1 39h1v1h-1zM15 39h1v1h-1zM22 39h2v1h-2zM40 39h1v1h-1zM45 39h1v1h-1zM47 39h1v1h-1zM12 40h1v1h-1zM16 40h1v1h-1zM18 40h1v1h-1zM22 40h1v1h-1zM28 40h1v1h-1zM34 40h1v1h-1zM37 40h1v1h-1zM1 41h1v1h-1zM9 41h1v1h-1zM24 41h1v1h-1zM28 41h1v1h-1zM32 41h1v1h-1zM40 41h1v1h-1zM51 41h1v1h-1zM57 41h1v1h-1zM0 42h1v1h-1zM6 42h1v1h-1zM13 42h1v1h-1zM21 42h1v1h-1zM33 42h2v1h-2zM5 43h1v1h-1zM7 43h1v1h-1zM18 43h1v1h-1zM22 43h1v1h-1zM24 43h1v1h-1zM30 43h1v1h-1zM32 43h1v1h-1zM66 43h1v1h-1zM6 44h1v1h-1zM10 44h2v1h-2zM27 44h1v1h-1zM32 44h1v1h-1zM34 44h1v1h-1zM47 44h2v1h-2zM1 45h1v1h-1zM18 45h1v1h-1zM22 45h1v1h-1zM33 45h2v1h-2zM11 46h1v1h-1zM26 46h3v1h-3zM36 46h1v1h-1zM7 47h1v1h-1zM15 47h2v1h-2zM21 47h1v1h-1zM25 47h1v1h-1zM30 47h1v1h-1zM32 47h1v1h-1zM40 47h1v1h-1zM44 47h1v1h-1zM51 47h1v1h-1zM3 48h1v1h-1zM7 48h2v1h-2zM10 48h1v1h-1zM12 48h1v1h-1zM14 48h1v1h-1zM44 48h1v1h-1zM48 48h1v1h-1zM22 49h1v1h-1zM32 49h2v1h-2zM16 50h1v1h-1zM20 50h1v1h-1zM30 50h1v1h-1zM42 50h1v1h-1zM56 50h1v1h-1zM12 51h1v1h-1zM16 51h4v1h-4zM25 51h1v1h-1zM27 51h1v1h-1zM29 51h2v1h-2zM32 51h1v1h-1zM49 51h1v1h-1zM2 52h1v1h-1zM5 52h1v1h-1zM16 52h2v1h-2zM19 52h1v1h-1zM21 52h1v1h-1zM25 52h1v1h-1zM28 52h1v1h-1zM43 52h1v1h-1zM3 53h1v1h-1zM19 53h1v1h-1zM24 53h1v1h-1zM27 53h1v1h-1zM32 53h1v1h-1zM55 53h1v1h-1zM36 54h1v1h-1zM41 54h1v1h-1zM44 54h1v1h-1zM62 54h1v1h-1zM5 55h1v1h-1zM10 55h1v1h-1zM12 55h1v1h-1zM20 55h1v1h-1zM22 55h2v1h-2zM1 56h3v1h-3zM25 56h1v1h-1zM27 56h1v1h-1zM40 56h1v1h-1zM63 56h1v1h-1zM12 57h1v1h-1zM18 57h1v1h-1zM23 57h1v1h-1zM35 57h1v1h-1zM40 57h1v1h-1zM49 57h1v1h-1zM6 58h2v1h-2zM21 58h1v1h-1zM32 58h1v1h-1zM7 59h2v1h-2zM12 59h1v1h-1zM16 59h1v1h-1zM32 59h1v1h-1zM5 60h1v1h-1zM13 60h1v1h-1zM15 60h1v1h-1zM25 60h1v1h-1zM36 60h1v1h-1zM46 60h1v1h-1zM3 61h1v1h-1zM13 61h1v1h-1zM28 61h1v1h-1zM31 61h1v1h-1zM57 61h1v1h-1zM0 62h1v1h-1zM4 62h1v1h-1zM9 62h1v1h-1zM5 63h1v1h-1zM11 63h2v1h-2zM30 63h1v1h-1zM32 63h1v1h-1zM7 64h1v1h-1zM9 64h2v1h-2zM18 64h1v1h-1zM25 64h1v1h-1zM31 64h1v1h-1zM49 64h1v1h-1zM8 65h1v1h-1zM11 65h2v1h-2zM19 65h1v1h-1zM28 65h1v1h-1zM48 65h1v1h-1zM50 65h2v1h-2zM2 66h1v1h-1zM11 66h1v1h-1zM13 66h1v1h-1zM32 66h1v1h-1zM42 66h1v1h-1zM12 67h1v1h-1zM28 67h1v1h-1zM35 67h2v1h-2zM7 68h1v1h-1zM34 68h1v1h-1zM42 68h1v1h-1zM44 68h1v1h-1zM6 69h1v1h-1zM17 69h1v1h-1zM20 69h1v1h-1zM52 69h1v1h-1zM36 70h1v1h-1zM7 71h1v1h-1zM12 71h1v1h-1zM17 71h2v1h-2zM24 71h1v1h-1zM48 71h1v1h-1zM23 72h1v1h-1zM20 73h1v1h-1zM29 73h1v1h-1zM31 73h1v1h-1zM27 74h1v1h-1zM55 74h1v1h-1zM4 75h1v1h-1zM8 75h1v1h-1zM19 75h1v1h-1zM27 75h1v1h-1zM34 75h1v1h-1zM6 76h1v1h-1zM17 76h1v1h-1zM54 76h1v1h-1zM15 77h1v1h-1zM23 78h1v1h-1zM46 78h1v1h-1zM17 79h1v1h-1zM34 79h1v1h-1zM40 79h1v1h-1zM9 80h1v1h-1zM28 80h1v1h-1zM40 80h1v1h-1zM54 80h1v1h-1zM10 81h1v1h-1zM23 82h1v1h-1zM28 82h2v1h-2zM45 82h1v1h-1zM15 83h1v1h-1zM30 83h1v1h-1zM34 83h1v1h-1zM41 83h1v1h-1zM21 84h1v1h-1zM7 85h1v1h-1zM16 85h1v1h-1zM23 85h1v1h-1zM37 85h1v1h-1zM42 85h1v1h-1zM19 86h1v1h-1zM22 86h5v1h-5zM30 86h1v1h-1zM36 86h1v1h-1zM20 87h1v1h-1zM28 87h1v1h-1zM33 87h1v1h-1zM37 87h1v1h-1zM13 88h1v1h-1zM21 88h1v1h-1zM27 88h1v1h-1zM41 88h1v1h-1zM21 89h1v1h-1zM25 90h1v1h-1zM29 90h1v1h-1zM37 90h1v1h-1zM42 91h1v1h-1zM33 93h1v1h-1zM31 97h1v1h-1zM37 98h1v1h-1z"/>
<path fill="#044469" d="M21 3h1v1h-1zM27 9h1v1h-1zM29 9h1v1h-1zM33 11h1v1h-1zM36 11h1v1h-1zM45 12h1v1h-1zM26 14h1v1h-1zM5 15h1v1h-1zM21 15h1v1h-1zM33 16h1v1h-1zM42 16h1v1h-1zM2 18h1v1h-1zM19 18h1v1h-1zM59 18h1v1h-1zM6 19h1v1h-1zM10 19h1v1h-1zM57 19h1v1h-1zM10 20h1v1h-1zM13 21h1v1h-1zM11 23h1v1h-1zM20 23h1v1h-1zM22 23h1v1h-1zM28 23h1v1h-1zM33 23h1v1h-1zM28 24h1v1h-1zM32 24h1v1h-1zM36 24h1v1h-1zM17 25h1v1h-1zM38 26h1v1h-1zM50 27h1v1h-1zM1 28h1v1h-1zM27 28h1v1h-1zM2 29h1v1h-1zM9 29h1v1h-1zM55 29h1v1h-1zM65 29h1v1h-1zM7 30h1v1h-1zM11 30h1v1h-1zM18 30h1v1h-1zM29 30h1v1h-1zM41 30h1v1h-1zM58 30h1v1h-1zM13 31h1v1h-1zM24 31h1v1h-1zM26 31h1v1h-1zM34 31h1v1h-1zM40 31h1v1h-1zM24 32h2v1h-2zM33 32h1v1h-1zM35 32h1v1h-1zM25 33h1v1h-1zM32 33h1v1h-1zM38 33h1v1h-1zM54 33h1v1h-1zM18 34h1v1h-1zM7 35h1v1h-1zM11 35h1v1h-1zM25 35h1v1h-1zM29 35h1v1h-1zM53 35h1v1h-1zM3 36h1v1h-1zM9 36h1v1h-1zM19 36h1v1h-1zM25 36h1v1h-1zM40 36h1v1h-1zM8 37h1v1h-1zM21 37h1v1h-1zM16 38h1v1h-1zM19 38h2v1h-2zM27 38h1v1h-1zM32 38h1v1h-1zM2 39h1v1h-1zM13 39h1v1h-1zM20 39h1v1h-1zM27 39h1v1h-1zM43 39h1v1h-1zM53 39h1v1h-1zM9 40h1v1h-1zM14 40h1v1h-1zM17 40h1v1h-1zM25 40h1v1h-1zM30 40h2v1h-2zM51 40h1v1h-1zM10 41h1v1h-1zM15 41h1v1h-1zM8 42h1v1h-1zM17 42h1v1h-1zM19 42h1v1h-1zM26 42h2v1h-2zM30 42h1v1h-1zM57 42h1v1h-1zM9 43h1v1h-1zM25 43h2v1h-2zM5 44h1v1h-1zM14 44h1v1h-1zM24 44h1v1h-1zM28 44h1v1h-1zM38 44h1v1h-1zM14 45h1v1h-1zM16 45h1v1h-1zM20 45h2v1h-2zM29 45h1v1h-1zM35 45h1v1h-1zM57 45h1v1h-1zM7 46h2v1h-2zM10 46h1v1h-1zM17 46h3v1h-3zM25 46h1v1h-1zM33 46h1v1h-1zM40 46h1v1h-1zM47 46h1v1h-1zM5 47h1v1h-1zM54 47h1v1h-1zM61 47h1v1h-1zM6 48h1v1h-1zM16 48h1v1h-1zM20 48h1v1h-1zM28 48h1v1h-1zM50 48h1v1h-1zM19 49h1v1h-1zM24 49h1v1h-1zM28 49h1v1h-1zM50 49h1v1h-1zM1 50h1v1h-1zM17 50h2v1h-2zM9 51h1v1h-1zM11 51h1v1h-1zM13 51h1v1h-1zM24 51h1v1h-1zM46 51h1v1h-1zM1 52h1v1h-1zM8 52h1v1h-1zM18 52h1v1h-1zM44 52h1v1h-1zM18 53h1v1h-1zM22 53h1v1h-1zM44 53h1v1h-1zM50 53h1v1h-1zM7 54h1v1h-1zM12 54h1v1h-1zM17 54h1v1h-1zM26 54h1v1h-1zM33 54h1v1h-1zM16 55h1v1h-1zM25 55h1v1h-1zM29 55h1v1h-1zM11 56h1v1h-1zM19 56h1v1h-1zM24 56h1v1h-1zM34 56h1v1h-1zM4 57h1v1h-1zM9 57h1v1h-1zM24 57h1v1h-1zM13 58h3v1h-3zM33 59h1v1h-1zM38 59h1v1h-1zM55 59h1v1h-1zM0 60h1v1h-1zM2 60h1v1h-1zM6 60h1v1h-1zM21 60h1v1h-1zM29 60h1v1h-1zM8 61h1v1h-1zM11 61h1v1h-1zM38 61h1v1h-1zM8 62h1v1h-1zM10 62h1v1h-1zM12 62h1v1h-1zM40 62h1v1h-1zM55 62h1v1h-1zM29 63h1v1h-1zM42 63h1v1h-1zM47 63h1v1h-1zM20 64h1v1h-1zM30 64h1v1h-1zM16 65h1v1h-1zM21 65h1v1h-1zM25 65h1v1h-1zM10 66h1v1h-1zM31 66h1v1h-1zM55 66h1v1h-1zM10 67h2v1h-2zM20 67h1v1h-1zM15 68h1v1h-1zM17 68h2v1h-2zM10 69h1v1h-1zM24 69h1v1h-1zM44 69h1v1h-1zM13 70h1v1h-1zM20 70h1v1h-1zM22 70h1v1h-1zM23 71h1v1h-1zM30 71h1v1h-1zM0 72h1v1h-1zM13 72h1v1h-1zM20 72h1v1h-1zM27 72h1v1h-1zM32 72h1v1h-1zM36 72h1v1h-1zM7 73h1v1h-1zM19 73h1v1h-1zM9 74h1v1h-1zM18 74h1v1h-1zM24 74h1v1h-1zM26 74h1v1h-1zM32 75h1v1h-1zM10 76h1v1h-1zM20 76h1v1h-1zM25 76h1v1h-1zM40 77h1v1h-1zM53 77h1v1h-1zM3 78h1v1h-1zM19 78h1v1h-1zM27 78h1v1h-1zM37 78h1v1h-1zM25 79h1v1h-1zM15 80h1v1h-1zM20 80h1v1h-1zM31 80h1v1h-1zM22 81h1v1h-1zM16 82h1v1h-1zM19 84h1v1h-1zM9 85h1v1h-1zM15 85h1v1h-1zM29 85h1v1h-1zM17 86h1v1h-1zM12 89h1v1h-1zM8 90h1v1h-1z"/>
<path fill="#054865" d="M27 15h1v1h-1zM34 15h1v1h-1zM19 16h1v1h-1zM39 16h1v1h-1zM27 17h1v1h-1zM28 18h1v1h-1zM7 20h1v1h-1zM28 20h1v1h-1zM34 20h1v1h-1zM44 21h1v1h-1zM45 22h1v1h-1zM53 22h1v1h-1zM7 25h1v1h-1zM10 26h1v1h-1zM28 26h2v1h-2zM12 27h1v1h-1zM25 27h1v1h-1zM17 28h1v1h-1zM23 28h1v1h-1zM32 28h1v1h-1zM3 29h1v1h-1zM16 29h1v1h-1zM28 29h1v1h-1zM14 31h1v1h-1zM28 31h1v1h-1zM47 31h1v1h-1zM28 32h1v1h-1zM36 32h1v1h-1zM29 33h1v1h-1zM8 34h1v1h-1zM12 34h1v1h-1zM37 34h1v1h-1zM14 35h1v1h-1zM24 35h1v1h-1zM57 35h1v1h-1zM13 36h1v1h-1zM15 36h1v1h-1zM18 36h1v1h-1zM54 36h1v1h-1zM58 36h1v1h-1zM9 37h1v1h-1zM13 37h2v1h-2zM28 37h1v1h-1zM25 38h1v1h-1zM58 38h1v1h-1zM8 39h1v1h-1zM17 39h1v1h-1zM19 39h1v1h-1zM28 39h1v1h-1zM34 39h1v1h-1zM36 39h1v1h-1zM52 39h1v1h-1zM6 40h1v1h-1zM24 40h1v1h-1zM35 40h2v1h-2zM48 40h1v1h-1zM8 41h1v1h-1zM13 41h1v1h-1zM21 41h1v1h-1zM48 41h1v1h-1zM28 42h1v1h-1zM31 42h1v1h-1zM36 42h1v1h-1zM71 42h1v1h-1zM12 43h1v1h-1zM23 43h1v1h-1zM28 43h1v1h-1zM57 43h1v1h-1zM64 43h1v1h-1zM0 44h2v1h-2zM9 44h1v1h-1zM18 44h1v1h-1zM25 44h1v1h-1zM29 44h1v1h-1zM5 45h1v1h-1zM19 45h1v1h-1zM44 45h1v1h-1zM32 46h1v1h-1zM34 46h2v1h-2zM38 46h1v1h-1zM45 46h1v1h-1zM48 46h1v1h-1zM51 46h1v1h-1zM2 47h1v1h-1zM11 47h2v1h-2zM24 47h1v1h-1zM38 47h1v1h-1zM5 48h1v1h-1zM21 48h1v1h-1zM30 48h1v1h-1zM5 49h1v1h-1zM17 49h1v1h-1zM27 49h1v1h-1zM12 50h1v1h-1zM14 50h1v1h-1zM25 50h1v1h-1zM14 51h1v1h-1zM26 51h1v1h-1zM38 51h1v1h-1zM41 51h1v1h-1zM15 52h1v1h-1zM20 52h1v1h-1zM29 52h1v1h-1zM54 52h1v1h-1zM8 53h1v1h-1zM15 53h1v1h-1zM31 53h1v1h-1zM20 54h1v1h-1zM19 55h1v1h-1zM36 55h1v1h-1zM42 55h1v1h-1zM56 55h1v1h-1zM13 56h1v1h-1zM52 56h1v1h-1zM10 57h1v1h-1zM25 57h1v1h-1zM36 57h1v1h-1zM38 57h1v1h-1zM12 58h1v1h-1zM20 58h1v1h-1zM35 58h1v1h-1zM14 59h1v1h-1zM22 59h1v1h-1zM35 59h1v1h-1zM3 60h1v1h-1zM11 60h1v1h-1zM38 60h1v1h-1zM57 60h1v1h-1zM5 62h1v1h-1zM17 62h1v1h-1zM21 62h1v1h-1zM3 63h1v1h-1zM10 63h1v1h-1zM13 63h1v1h-1zM37 63h1v1h-1zM50 63h1v1h-1zM5 64h1v1h-1zM23 64h1v1h-1zM6 65h1v1h-1zM13 65h1v1h-1zM15 65h1v1h-1zM20 65h1v1h-1zM6 66h1v1h-1zM22 66h1v1h-1zM7 67h1v1h-1zM16 67h1v1h-1zM18 67h1v1h-1zM2 68h1v1h-1zM16 68h1v1h-1zM3 69h1v1h-1zM11 69h2v1h-2zM14 69h1v1h-1zM23 69h1v1h-1zM25 69h1v1h-1zM30 70h2v1h-2zM21 71h1v1h-1zM38 71h1v1h-1zM14 72h2v1h-2zM17 72h1v1h-1zM31 72h1v1h-1zM33 72h1v1h-1zM15 73h1v1h-1zM18 73h1v1h-1zM12 74h1v1h-1zM33 74h1v1h-1zM16 75h1v1h-1zM26 75h1v1h-1zM15 76h1v1h-1zM19 76h1v1h-1zM17 77h1v1h-1zM26 77h1v1h-1zM35 77h1v1h-1zM18 78h1v1h-1zM47 78h1v1h-1zM4 79h1v1h-1zM8 80h1v1h-1zM24 80h1v1h-1zM14 81h1v1h-1zM23 81h1v1h-1zM34 81h1v1h-1zM4 82h1v1h-1zM21 82h1v1h-1zM35 82h1v1h-1zM18 83h1v1h-1zM23 83h1v1h-1zM18 84h1v1h-1zM27 84h1v1h-1zM36 84h1v1h-1zM22 85h1v1h-1zM16 86h1v1h-1zM27 86h1v1h-1zM10 87h1v1h-1zM14 88h2v1h-2zM19 88h1v1h-1z"/>
<path fill="#074b62" d="M45 1h1v1h-1zM32 9h1v1h-1zM27 12h1v1h-1zM38 13h1v1h-1zM47 13h1v1h-1zM23 14h1v1h-1zM27 14h1v1h-1zM50 14h1v1h-1zM18 15h1v1h-1zM23 18h1v1h-1zM40 18h1v1h-1zM45 20h1v1h-1zM47 21h1v1h-1zM35 22h1v1h-1zM19 23h1v1h-1zM24 24h1v1h-1zM18 25h1v1h-1zM20 25h1v1h-1zM26 25h1v1h-1zM4 26h1v1h-1zM43 26h1v1h-1zM3 27h1v1h-1zM29 27h1v1h-1zM8 28h3v1h-3zM48 28h1v1h-1zM24 29h1v1h-1zM32 29h1v1h-1zM34 29h1v1h-1zM46 29h1v1h-1zM35 30h1v1h-1zM38 30h1v1h-1zM7 31h1v1h-1zM55 31h1v1h-1zM13 32h1v1h-1zM17 32h1v1h-1zM2 34h1v1h-1zM10 34h2v1h-2zM33 34h2v1h-2zM51 34h1v1h-1zM1 35h1v1h-1zM18 35h1v1h-1zM7 36h1v1h-1zM17 36h1v1h-1zM23 36h1v1h-1zM35 36h2v1h-2zM38 36h1v1h-1zM42 36h2v1h-2zM48 36h1v1h-1zM17 37h1v1h-1zM19 37h1v1h-1zM11 38h1v1h-1zM26 38h1v1h-1zM12 39h1v1h-1zM30 39h1v1h-1zM11 40h1v1h-1zM20 40h1v1h-1zM27 40h1v1h-1zM61 40h1v1h-1zM4 41h1v1h-1zM16 41h1v1h-1zM18 41h1v1h-1zM30 41h1v1h-1zM11 42h1v1h-1zM24 42h1v1h-1zM39 42h1v1h-1zM51 42h1v1h-1zM34 43h1v1h-1zM55 43h1v1h-1zM8 44h1v1h-1zM45 44h1v1h-1zM4 45h1v1h-1zM8 45h1v1h-1zM11 45h2v1h-2zM26 45h1v1h-1zM66 45h1v1h-1zM9 46h1v1h-1zM13 46h1v1h-1zM16 46h1v1h-1zM29 46h1v1h-1zM64 46h1v1h-1zM3 47h1v1h-1zM26 47h1v1h-1zM17 48h1v1h-1zM3 49h1v1h-1zM8 49h2v1h-2zM18 49h1v1h-1zM45 49h1v1h-1zM54 49h1v1h-1zM2 50h1v1h-1zM8 50h1v1h-1zM10 50h1v1h-1zM13 50h1v1h-1zM67 51h1v1h-1zM10 52h2v1h-2zM33 52h1v1h-1zM7 53h1v1h-1zM11 53h1v1h-1zM13 53h1v1h-1zM2 54h1v1h-1zM6 54h1v1h-1zM18 54h1v1h-1zM13 55h1v1h-1zM54 55h1v1h-1zM5 56h1v1h-1zM51 56h1v1h-1zM55 56h1v1h-1zM14 57h1v1h-1zM11 58h1v1h-1zM27 58h1v1h-1zM40 58h1v1h-1zM2 59h1v1h-1zM20 59h1v1h-1zM24 59h1v1h-1zM16 60h1v1h-1zM22 60h1v1h-1zM5 61h1v1h-1zM7 61h1v1h-1zM14 61h1v1h-1zM27 61h1v1h-1zM42 61h1v1h-1zM62 61h1v1h-1zM22 62h1v1h-1zM7 63h1v1h-1zM21 63h1v1h-1zM8 64h1v1h-1zM16 64h2v1h-2zM17 65h1v1h-1zM12 66h1v1h-1zM44 66h1v1h-1zM14 67h1v1h-1zM24 67h1v1h-1zM30 67h1v1h-1zM39 67h1v1h-1zM11 68h1v1h-1zM14 68h1v1h-1zM31 68h1v1h-1zM53 68h1v1h-1zM0 69h1v1h-1zM13 69h1v1h-1zM27 69h1v1h-1zM32 69h1v1h-1zM4 70h1v1h-1zM18 70h1v1h-1zM42 70h1v1h-1zM50 70h1v1h-1zM28 71h1v1h-1zM6 72h1v1h-1zM19 72h1v1h-1zM51 72h1v1h-1zM2 73h1v1h-1zM8 73h1v1h-1zM43 73h1v1h-1zM17 74h1v1h-1zM52 74h1v1h-1zM10 75h1v1h-1zM30 76h1v1h-1zM7 77h1v1h-1zM39 77h1v1h-1zM11 81h1v1h-1zM21 83h1v1h-1zM45 83h1v1h-1zM15 84h1v1h-1zM20 84h1v1h-1zM34 86h1v1h-1zM7 87h1v1h-1zM16 87h1v1h-1zM29 87h1v1h-1zM16 88h1v1h-1zM22 88h1v1h-1zM13 89h1v1h-1zM34 89h1v1h-1zM13 90h1v1h-1zM7 91h1v1h-1zM30 91h1v1h-1zM27 93h1v1h-1zM34 99h1v1h-1z"/>
<path fill="#084e5f" d="M25 12h1v1h-1zM19 13h1v1h-1zM26 13h1v1h-1zM43 14h1v1h-1zM46 14h1v1h-1zM35 18h1v1h-1zM9 19h1v1h-1zM32 19h1v1h-1zM16 20h1v1h-1zM24 20h1v1h-1zM20 21h1v1h-1zM40 21h1v1h-1zM14 22h1v1h-1zM7 24h1v1h-1zM22 24h1v1h-1zM30 24h1v1h-1zM15 25h1v1h-1zM25 25h1v1h-1zM28 25h1v1h-1zM48 25h1v1h-1zM12 26h1v1h-1zM15 26h1v1h-1zM31 26h1v1h-1zM33 26h1v1h-1zM10 27h1v1h-1zM41 28h1v1h-1zM52 28h1v1h-1zM58 28h1v1h-1zM4 30h1v1h-1zM1 31h1v1h-1zM8 33h1v1h-1zM34 33h1v1h-1zM23 34h1v1h-1zM15 35h1v1h-1zM5 36h1v1h-1zM26 36h1v1h-1zM32 36h1v1h-1zM16 37h1v1h-1zM33 37h1v1h-1zM39 37h1v1h-1zM12 38h1v1h-1zM22 38h1v1h-1zM28 38h1v1h-1zM55 39h1v1h-1zM2 40h1v1h-1zM13 40h1v1h-1zM49 40h1v1h-1zM6 41h1v1h-1zM20 41h1v1h-1zM7 42h1v1h-1zM10 42h1v1h-1zM3 43h1v1h-1zM10 43h1v1h-1zM35 43h1v1h-1zM44 43h1v1h-1zM7 44h1v1h-1zM17 44h1v1h-1zM54 44h1v1h-1zM6 46h1v1h-1zM13 47h1v1h-1zM33 47h1v1h-1zM49 47h1v1h-1zM9 48h1v1h-1zM6 49h1v1h-1zM36 49h1v1h-1zM4 50h1v1h-1zM11 50h1v1h-1zM24 50h1v1h-1zM10 51h1v1h-1zM15 51h1v1h-1zM24 52h1v1h-1zM50 52h1v1h-1zM2 53h1v1h-1zM1 54h1v1h-1zM3 55h1v1h-1zM8 55h1v1h-1zM14 55h1v1h-1zM52 55h1v1h-1zM12 56h1v1h-1zM7 57h1v1h-1zM17 57h1v1h-1zM4 58h1v1h-1zM9 59h1v1h-1zM11 59h1v1h-1zM34 59h1v1h-1zM1 60h1v1h-1zM3 62h1v1h-1zM14 63h4v1h-4zM58 63h1v1h-1zM18 65h1v1h-1zM23 65h1v1h-1zM46 66h1v1h-1zM2 67h1v1h-1zM5 67h1v1h-1zM1 69h1v1h-1zM9 70h1v1h-1zM12 70h1v1h-1zM14 70h2v1h-2zM13 71h1v1h-1zM19 71h1v1h-1zM16 72h1v1h-1zM11 73h1v1h-1zM13 73h1v1h-1zM15 74h1v1h-1zM22 74h1v1h-1zM34 74h1v1h-1zM3 76h1v1h-1zM43 76h1v1h-1zM1 77h1v1h-1zM0 78h1v1h-1zM5 79h1v1h-1zM7 79h1v1h-1zM9 79h1v1h-1zM12 79h1v1h-1zM36 79h1v1h-1zM3 80h1v1h-1zM5 80h1v1h-1zM10 80h1v1h-1zM16 80h1v1h-1zM1 81h1v1h-1zM4 81h1v1h-1zM8 81h1v1h-1zM16 81h1v1h-1zM20 81h2v1h-2zM9 82h1v1h-1zM30 82h1v1h-1zM3 83h1v1h-1zM7 83h1v1h-1zM1 84h2v1h-2zM4 84h2v1h-2zM10 84h1v1h-1zM14 84h1v1h-1zM17 84h1v1h-1zM31 84h1v1h-1zM6 85h1v1h-1zM11 85h2v1h-2zM18 85h1v1h-1zM27 85h1v1h-1zM2 86h1v1h-1zM4 86h1v1h-1zM6 86h1v1h-1zM9 86h1v1h-1zM11 86h2v1h-2zM2 87h1v1h-1zM5 87h1v1h-1zM11 87h2v1h-2zM14 87h1v1h-1zM26 87h1v1h-1zM36 87h1v1h-1zM2 88h1v1h-1zM4 88h1v1h-1zM17 88h1v1h-1zM8 89h1v1h-1zM10 89h1v1h-1zM17 89h1v1h-1zM31 89h1v1h-1zM1 90h1v1h-1zM3 90h1v1h-1zM6 90h1v1h-1zM10 90h1v1h-1zM15 90h1v1h-1zM3 91h1v1h-1zM5 91h1v1h-1zM22 91h1v1h-1zM24 91h1v1h-1zM43 91h1v1h-1zM2 92h2v1h-2zM9 92h1v1h-1zM11 92h1v1h-1zM16 92h1v1h-1zM23 92h1v1h-1zM32 92h1v1h-1zM2 93h1v1h-1zM17 93h1v1h-1zM2 94h1v1h-1zM4 94h1v1h-1zM6 94h1v1h-1zM8 94h1v1h-1zM18 94h1v1h-1zM1 96h3v1h-3zM7 96h2v1h-2zM43 96h1v1h-1zM2 97h1v1h-1zM11 97h1v1h-1zM13 99h1v1h-1z"/>
<path fill="#09525b" d="M37 7h1v1h-1zM31 8h1v1h-1zM50 8h1v1h-1zM44 9h1v1h-1zM31 10h1v1h-1zM23 11h1v1h-1zM29 11h1v1h-1zM54 13h1v1h-1zM38 14h1v1h-1zM35 15h1v1h-1zM25 17h1v1h-1zM31 18h1v1h-1zM49 20h1v1h-1zM56 20h1v1h-1zM27 21h1v1h-1zM37 22h1v1h-1zM36 23h1v1h-1zM16 24h1v1h-1zM21 24h1v1h-1zM51 24h1v1h-1zM10 25h2v1h-2zM21 25h1v1h-1zM21 26h1v1h-1zM17 27h1v1h-1zM19 27h1v1h-1zM26 27h1v1h-1zM30 27h1v1h-1zM19 28h1v1h-1zM30 28h1v1h-1zM8 29h1v1h-1zM31 29h1v1h-1zM45 29h1v1h-1zM61 29h1v1h-1zM5 30h1v1h-1zM10 33h1v1h-1zM40 33h1v1h-1zM5 34h1v1h-1zM44 34h1v1h-1zM27 35h1v1h-1zM40 35h1v1h-1zM48 35h1v1h-1zM46 36h1v1h-1zM6 37h1v1h-1zM12 37h1v1h-1zM18 37h1v1h-1zM36 37h1v1h-1zM23 38h1v1h-1zM42 38h1v1h-1zM45 38h1v1h-1zM4 39h1v1h-1zM59 39h1v1h-1zM12 41h1v1h-1zM35 41h1v1h-1zM47 41h1v1h-1zM58 41h1v1h-1zM9 42h1v1h-1zM58 42h1v1h-1zM37 46h1v1h-1zM1 47h1v1h-1zM1 49h1v1h-1zM12 49h1v1h-1zM16 49h1v1h-1zM20 49h1v1h-1zM7 50h1v1h-1zM54 51h1v1h-1zM7 52h1v1h-1zM0 54h1v1h-1zM9 55h1v1h-1zM24 55h1v1h-1zM6 56h1v1h-1zM3 57h1v1h-1zM21 57h1v1h-1zM23 60h1v1h-1zM2 61h1v1h-1zM12 61h1v1h-1zM15 62h1v1h-1zM4 63h1v1h-1zM8 63h1v1h-1zM13 64h1v1h-1zM4 67h1v1h-1zM8 67h1v1h-1zM4 68h1v1h-1zM6 68h1v1h-1zM9 68h1v1h-1zM12 68h1v1h-1zM37 70h1v1h-1zM3 71h1v1h-1zM2 72h1v1h-1zM9 72h1v1h-1zM11 72h1v1h-1zM0 73h1v1h-1zM9 73h1v1h-1zM25 73h1v1h-1zM41 73h1v1h-1zM3 74h1v1h-1zM23 74h1v1h-1zM13 75h1v1h-1zM15 75h1v1h-1zM20 75h2v1h-2zM12 76h1v1h-1zM13 77h1v1h-1zM25 77h1v1h-1zM13 78h1v1h-1zM24 78h1v1h-1zM43 78h1v1h-1zM15 79h1v1h-1zM18 79h1v1h-1zM35 79h1v1h-1zM7 80h1v1h-1zM33 80h1v1h-1zM18 81h1v1h-1zM8 82h1v1h-1zM19 82h1v1h-1zM24 82h1v1h-1zM0 83h1v1h-1zM6 83h1v1h-1zM19 83h1v1h-1zM0 84h1v1h-1zM9 84h1v1h-1zM13 84h1v1h-1zM24 84h1v1h-1zM14 85h1v1h-1zM36 85h1v1h-1zM1 86h1v1h-1zM5 86h1v1h-1zM15 86h1v1h-1zM13 87h1v1h-1zM22 87h1v1h-1zM27 89h1v1h-1z"/>
<path fill="#0b5558" d="M49 2h1v1h-1zM26 3h1v1h-1zM33 10h1v1h-1zM39 11h1v1h-1zM32 15h1v1h-1zM20 16h1v1h-1zM31 19h1v1h-1zM26 20h1v1h-1zM30 20h1v1h-1zM52 20h1v1h-1zM18 21h1v1h-1zM37 23h1v1h-1zM13 25h1v1h-1zM18 26h1v1h-1zM18 27h1v1h-1zM52 27h1v1h-1zM12 28h1v1h-1zM33 28h1v1h-1zM17 29h1v1h-1zM20 31h1v1h-1zM22 31h1v1h-1zM29 31h1v1h-1zM12 32h1v1h-1zM26 32h1v1h-1zM7 34h1v1h-1zM13 34h3v1h-3zM36 34h1v1h-1zM52 34h1v1h-1zM9 35h1v1h-1zM34 35h1v1h-1zM9 38h1v1h-1zM10 39h1v1h-1zM20 42h1v1h-1zM2 43h1v1h-1zM6 43h1v1h-1zM3 44h1v1h-1zM21 44h1v1h-1zM62 47h1v1h-1zM4 48h1v1h-1zM67 48h1v1h-1zM13 52h1v1h-1zM14 53h1v1h-1zM23 54h1v1h-1zM45 54h1v1h-1zM7 55h1v1h-1zM9 61h1v1h-1zM1 63h1v1h-1zM3 65h1v1h-1zM7 65h1v1h-1zM39 65h1v1h-1zM3 66h1v1h-1zM20 68h1v1h-1zM32 68h1v1h-1zM15 69h1v1h-1zM6 70h1v1h-1zM1 72h1v1h-1zM7 72h1v1h-1zM4 74h1v1h-1zM21 74h1v1h-1zM2 75h1v1h-1zM7 75h1v1h-1zM9 75h1v1h-1zM11 75h1v1h-1zM5 76h1v1h-1zM19 77h1v1h-1zM8 78h1v1h-1zM25 78h1v1h-1zM11 80h1v1h-1zM18 80h1v1h-1zM26 80h1v1h-1zM7 81h1v1h-1zM9 81h1v1h-1zM10 82h1v1h-1zM13 82h1v1h-1zM42 82h1v1h-1zM8 83h1v1h-1zM24 83h1v1h-1zM26 89h1v1h-1z"/>
<path fill="#0c5954" d="M23 15h1v1h-1zM7 17h1v1h-1zM24 17h1v1h-1zM29 18h1v1h-1zM15 20h1v1h-1zM17 21h1v1h-1zM30 21h1v1h-1zM3 22h1v1h-1zM13 22h1v1h-1zM59 22h1v1h-1zM30 25h1v1h-1zM17 26h1v1h-1zM14 27h1v1h-1zM32 27h1v1h-1zM14 28h1v1h-1zM40 28h1v1h-1zM43 29h1v1h-1zM17 30h1v1h-1zM28 30h1v1h-1zM21 31h1v1h-1zM23 32h1v1h-1zM16 34h1v1h-1zM28 34h1v1h-1zM31 34h1v1h-1zM47 34h1v1h-1zM5 35h1v1h-1zM10 35h1v1h-1zM16 35h1v1h-1zM23 35h1v1h-1zM61 36h1v1h-1zM4 37h2v1h-2zM7 39h1v1h-1zM3 40h2v1h-2zM55 40h1v1h-1zM38 41h1v1h-1zM13 43h1v1h-1zM55 44h1v1h-1zM4 47h1v1h-1zM6 47h1v1h-1zM6 50h1v1h-1zM0 51h1v1h-1zM3 51h1v1h-1zM51 51h1v1h-1zM3 52h1v1h-1zM3 54h1v1h-1zM8 54h1v1h-1zM11 54h1v1h-1zM4 55h1v1h-1zM8 56h1v1h-1zM3 58h1v1h-1zM5 58h1v1h-1zM4 60h1v1h-1zM1 70h1v1h-1zM5 70h1v1h-1zM9 71h2v1h-2zM4 72h1v1h-1zM5 73h1v1h-1zM50 75h1v1h-1zM11 76h1v1h-1zM3 77h1v1h-1zM14 77h1v1h-1zM42 77h1v1h-1zM25 81h1v1h-1zM27 82h1v1h-1zM49 83h1v1h-1zM57 85h1v1h-1zM21 86h1v1h-1z"/>
<path fill="#0e5c51" d="M30 11h1v1h-1zM24 12h1v1h-1zM25 13h1v1h-1zM7 14h1v1h-1zM25 15h1v1h-1zM30 15h1v1h-1zM24 16h1v1h-1zM38 17h1v1h-1zM35 19h1v1h-1zM9 21h1v1h-1zM4 23h1v1h-1zM26 23h1v1h-1zM48 23h1v1h-1zM12 25h1v1h-1zM52 26h1v1h-1zM4 27h1v1h-1zM23 27h1v1h-1zM69 27h1v1h-1zM11 28h1v1h-1zM16 28h1v1h-1zM20 28h1v1h-1zM8 31h1v1h-1zM44 32h1v1h-1zM54 32h1v1h-1zM3 33h1v1h-1zM4 35h1v1h-1zM8 36h1v1h-1zM41 36h1v1h-1zM50 37h1v1h-1zM6 38h1v1h-1zM6 39h1v1h-1zM7 41h1v1h-1zM19 41h1v1h-1zM2 42h1v1h-1zM6 45h1v1h-1zM2 46h2v1h-2zM4 49h1v1h-1zM5 53h1v1h-1zM4 54h1v1h-1zM56 54h1v1h-1zM66 55h1v1h-1zM8 57h1v1h-1zM52 58h1v1h-1zM4 59h1v1h-1zM10 60h1v1h-1zM68 60h1v1h-1zM4 61h1v1h-1zM2 62h1v1h-1zM59 62h1v1h-1zM3 64h2v1h-2zM2 65h1v1h-1zM4 65h1v1h-1zM1 66h1v1h-1zM7 69h1v1h-1zM24 70h1v1h-1zM32 71h1v1h-1zM58 73h1v1h-1zM54 74h1v1h-1zM4 76h1v1h-1zM13 76h1v1h-1zM12 80h1v1h-1zM7 82h1v1h-1zM14 82h1v1h-1zM17 87h1v1h-1zM32 93h1v1h-1z"/>
<path fill="#0f5f4e" d="M39 13h1v1h-1zM34 14h1v1h-1zM23 16h1v1h-1zM25 16h1v1h-1zM13 18h1v1h-1zM21 20h1v1h-1zM47 20h1v1h-1zM7 21h1v1h-1zM29 23h1v1h-1zM8 25h1v1h-1zM42 25h1v1h-1zM16 27h1v1h-1zM12 29h1v1h-1zM14 29h1v1h-1zM27 29h1v1h-1zM33 29h1v1h-1zM44 29h1v1h-1zM39 30h1v1h-1zM47 30h1v1h-1zM48 31h1v1h-1zM25 34h1v1h-1zM62 34h1v1h-1zM4 36h1v1h-1zM6 36h1v1h-1zM14 36h1v1h-1zM53 36h1v1h-1zM4 42h1v1h-1zM3 45h1v1h-1zM1 55h2v1h-2zM3 67h1v1h-1zM62 67h1v1h-1zM6 71h1v1h-1zM4 73h1v1h-1zM10 74h1v1h-1zM25 74h1v1h-1zM42 74h1v1h-1zM1 75h1v1h-1zM46 75h1v1h-1zM10 78h2v1h-2z"/>
<path fill="#11634a" d="M24 15h1v1h-1zM24 18h1v1h-1zM15 19h1v1h-1zM25 26h1v1h-1zM20 29h1v1h-1zM46 30h1v1h-1zM9 32h1v1h-1zM56 32h1v1h-1zM51 33h1v1h-1zM57 33h1v1h-1zM50 36h1v1h-1zM1 38h1v1h-1zM1 40h1v1h-1zM2 41h1v1h-1zM50 41h1v1h-1zM65 42h1v1h-1zM74 43h1v1h-1zM0 50h1v1h-1zM11 62h1v1h-1zM53 63h1v1h-1zM0 64h1v1h-1zM8 68h1v1h-1zM5 71h1v1h-1zM5 72h1v1h-1zM54 75h1v1h-1zM2 77h1v1h-1zM23 77h1v1h-1zM30 78h1v1h-1zM18 82h1v1h-1zM30 85h1v1h-1z"/>
<path fill="#126647" d="M5 14h1v1h-1zM4 18h1v1h-1zM3 19h1v1h-1zM27 19h1v1h-1zM20 24h1v1h-1zM29 24h1v1h-1zM31 25h1v1h-1zM3 28h1v1h-1zM6 28h1v1h-1zM13 28h1v1h-1zM53 30h1v1h-1zM11 32h1v1h-1zM9 34h1v1h-1zM20 34h1v1h-1zM4 46h1v1h-1zM2 58h1v1h-1zM2 63h1v1h-1zM5 65h1v1h-1zM0 66h1v1h-1zM1 67h1v1h-1zM6 67h1v1h-1zM2 70h1v1h-1zM2 71h1v1h-1zM4 71h1v1h-1zM2 76h1v1h-1zM32 78h1v1h-1zM21 79h1v1h-1zM31 82h1v1h-1z"/>
<path fill="#146944" d="M57 9h1v1h-1zM13 12h1v1h-1zM15 12h1v1h-1zM26 12h1v1h-1zM25 14h1v1h-1zM41 15h1v1h-1zM6 16h1v1h-1zM30 18h1v1h-1zM36 18h1v1h-1zM28 19h1v1h-1zM54 19h1v1h-1zM25 22h1v1h-1zM24 23h1v1h-1zM55 24h1v1h-1zM9 25h1v1h-1zM11 26h1v1h-1zM30 26h1v1h-1zM20 27h1v1h-1zM26 28h1v1h-1zM46 28h1v1h-1zM27 32h1v1h-1zM37 35h1v1h-1zM4 44h1v1h-1zM46 52h1v1h-1zM0 56h1v1h-1zM1 64h1v1h-1zM5 68h1v1h-1zM21 78h1v1h-1zM26 88h1v1h-1z"/>
<path fill="#156d40" d="M41 11h1v1h-1zM32 12h1v1h-1zM30 14h1v1h-1zM18 16h1v1h-1zM27 18h1v1h-1zM23 19h1v1h-1zM11 20h1v1h-1zM40 27h1v1h-1zM3 35h1v1h-1zM5 69h1v1h-1zM3 75h1v1h-1zM3 79h1v1h-1z"/>
<path fill="#16703d" d="M33 8h1v1h-1zM41 9h1v1h-1zM39 10h1v1h-1zM16 12h1v1h-1zM32 13h1v1h-1zM37 13h1v1h-1zM55 13h1v1h-1zM61 14h1v1h-1zM44 15h1v1h-1zM54 15h1v1h-1zM57 16h1v1h-1zM43 17h1v1h-1zM49 17h1v1h-1zM47 19h1v1h-1zM49 19h1v1h-1zM43 20h1v1h-1zM7 27h1v1h-1zM52 29h1v1h-1zM48 30h1v1h-1zM2 33h1v1h-1zM59 33h1v1h-1zM2 35h1v1h-1zM57 36h1v1h-1zM2 45h1v1h-1zM51 48h1v1h-1zM0 53h1v1h-1zM64 58h1v1h-1zM60 60h1v1h-1zM3 70h1v1h-1zM62 74h1v1h-1zM11 79h1v1h-1zM50 85h1v1h-1z"/>
<path fill="#18733a" d="M62 1h1v1h-1zM41 3h1v1h-1zM51 3h1v1h-1zM58 3h1v1h-1zM36 4h1v1h-1zM47 4h1v1h-1zM59 4h1v1h-1zM49 5h1v1h-1zM39 6h1v1h-1zM59 6h1v1h-1zM63 7h1v1h-1zM39 8h1v1h-1zM48 8h1v1h-1zM51 8h1v1h-1zM53 8h1v1h-1zM26 9h1v1h-1zM28 9h1v1h-1zM30 9h1v1h-1zM42 9h1v1h-1zM11 10h1v1h-1zM22 10h1v1h-1zM24 10h1v1h-1zM45 10h1v1h-1zM42 11h1v1h-1zM23 12h1v1h-1zM22 13h1v1h-1zM37 14h1v1h-1zM15 15h2v1h-2zM19 15h1v1h-1zM29 16h1v1h-1zM64 16h1v1h-1zM12 17h1v1h-1zM17 17h1v1h-1zM32 17h1v1h-1zM25 18h1v1h-1zM46 20h1v1h-1zM54 20h1v1h-1zM6 21h1v1h-1zM33 21h2v1h-2zM37 21h1v1h-1zM2 24h1v1h-1zM6 24h1v1h-1zM40 25h1v1h-1zM54 25h1v1h-1zM5 27h1v1h-1zM24 30h1v1h-1zM10 31h1v1h-1zM60 34h1v1h-1zM69 40h1v1h-1zM56 43h1v1h-1zM0 46h1v1h-1zM1 62h1v1h-1zM1 65h1v1h-1z"/>
<path fill="#197736" d="M4 10h1v1h-1zM6 11h1v1h-1zM10 15h1v1h-1zM7 18h1v1h-1zM5 25h1v1h-1zM2 31h2v1h-2zM1 43h1v1h-1zM1 46h1v1h-1zM70 54h1v1h-1zM50 72h1v1h-1zM11 77h1v1h-1zM19 79h1v1h-1z"/>
<path fill="#1b7a33" d="M55 0h1v1h-1zM26 5h1v1h-1zM31 6h1v1h-1zM26 8h1v1h-1zM28 8h1v1h-1zM52 9h1v1h-1zM43 10h1v1h-1zM44 12h1v1h-1zM46 13h1v1h-1zM15 18h1v1h-1zM33 18h1v1h-1zM39 19h2v1h-2zM31 21h1v1h-1zM38 23h1v1h-1zM27 26h1v1h-1zM3 32h1v1h-1zM4 34h1v1h-1zM0 55h1v1h-1zM8 84h1v1h-1zM18 88h1v1h-1z"/>
<path fill="#1c7e2f" d="M18 17h1v1h-1zM0 25h1v1h-1zM49 27h1v1h-1zM2 30h1v1h-1zM52 31h1v1h-1zM0 32h1v1h-1zM7 32h1v1h-1zM0 33h1v1h-1zM0 36h1v1h-1zM41 78h1v1h-1zM29 84h1v1h-1z"/>
<path fill="#1e812c" d="M7 19h1v1h-1zM6 20h1v1h-1zM18 20h1v1h-1zM19 21h1v1h-1zM12 23h1v1h-1zM25 24h1v1h-1zM8 27h1v1h-1zM1 29h1v1h-1zM0 37h2v1h-2zM3 50h1v1h-1zM0 67h1v1h-1zM0 68h1v1h-1zM0 70h1v1h-1zM0 71h1v1h-1zM1 74h1v1h-1zM0 75h1v1h-1zM4 78h1v1h-1z"/>
<path fill="#218825" d="M16 10h1v1h-1zM30 19h1v1h-1zM5 20h1v1h-1zM1 27h1v1h-1zM52 32h1v1h-1zM5 33h1v1h-1z"/>
<path fill="#228b22" d="M20 8h1v1h-1zM30 13h1v1h-1zM6 79h1v1h-1z"/>
</g></g>
<g clip-path="url(#cm)" fill="none" stroke-width="6.0" stroke-linejoin="round" stroke-linecap="butt">
<path stroke="#000000" d="M564.1 2130.9L549.8 2116.8L535.4 2130.9M794.1 2116.8L808.5 2130.9L822.9 2116.8L822.9 2102.7L808.5 2088.6L794.1 2102.7ZM866 2130.9L851.6 2116.8L837.3 2130.9M880.4 2116.8L894.8 2130.9L909.1 2116.8L894.8 2102.7ZM1081.7 2116.8L1096 2130.9L1110.4 2116.8L1096 2102.7ZM377.3 2102.7L391.6 2116.8L406 2102.7L406 2102.7L420.4 2088.6L406 2074.5L391.6 2074.5L377.3 2074.5L362.9 2088.6L377.3 2102.7ZM477.9 2102.7L492.3 2116.8L506.6 2102.7L492.3 2088.6L492.3 2088.6L477.9 2074.5L463.5 2074.5L449.1 2088.6L463.5 2102.7L477.9 2102.7ZM506.6 2102.7L521 2116.8L535.4 2102.7L521 2088.6ZM966.6 2088.6L981 2102.7L995.4 2088.6L981 2074.5L981 2074.5L966.6 2060.4L952.3 2074.5L966.6 2088.6ZM377.3 2060.4L391.6 2074.5L406 2060.4L406 2046.3L406 2046.3L420.4 2032.1L420.4 2018L420.4 2003.9L406 1989.8L391.6 2003.9L391.6 2018L391.6 2018L377.3 2032.1L377.3 2046.3ZM406 2060.4L420.4 2074.5L434.8 2060.4L420.4 2046.3ZM434.8 2060.4L449.1 2074.5L463.5 2060.4L449.1 2046.3ZM463.5 2060.4L477.9 2074.5L492.3 2060.4L477.9 2046.3ZM607.3 2060.4L621.6 2074.5L636 2060.4L621.6 2046.3L621.6 2046.3L607.3 2032.1L607.3 2032.1L592.9 2018L578.5 2032.1L592.9 2046.3L592.9 2046.3L607.3 2060.4ZM923.5 2060.4L937.9 2074.5L952.3 2060.4L937.9 2046.3ZM995.4 2060.4L1009.8 2074.5L1024.2 2060.4L1024.2 2060.4L1038.5 2060.4L1052.9 2046.3L1052.9 2046.3L1067.3 2032.1L1067.3 2032.1L1081.7 2018L1067.3 2003.9L1052.9 2003.9L1052.9 2003.9L1052.9 2003.9L1067.3 1989.8L1052.9 1975.7L1038.5 1989.8L1038.5 1989.8L1024.2 2003.9L1038.5 2018L1038.5 2018L1038.5 2018L1024.2 2032.1L1024.2 2032.1L1024.2 2032.1L1009.8 2018L995.4 2032.1L1009.8 2046.3L1009.8 2046.3L1009.8 2046.3ZM1067.3 2060.4L1081.7 2074.5L1096 2060.4L1081.7 2046.3ZM535.4 2046.3L549.8 2060.4L564.1 2046.3L549.8 2032.1ZM650.4 2046.3L664.8 2060.4L679.1 2046.3L664.8 2032.1L664.8 2032.1L650.4 2018L636 2032.1L650.4 2046.3ZM736.6 2046.3L751 2060.4L765.4 2046.3L751 2032.1ZM1211 2046.3L1225.4 2060.4L1239.8 2046.3L1225.4 2032.1ZM1326 2046.3L1340.4 2060.4L1354.8 2046.3L1340.4 2032.1ZM477.9 2032.1L492.3 2046.3L506.6 2032.1L492.3 2018ZM506.6 2032.1L521 2046.3L535.4 2032.1L521 2018ZM707.9 2032.1L707.9 2032.1L707.9 2032.1L707.9 2032.1ZM923.5 2032.1L937.9 2046.3L952.3 2032.1L952.3 2032.1L966.6 2032.1L981 2032.1L995.4 2018L995.4 2018L1009.8 2003.9L995.4 1989.8L981 2003.9L981 2003.9L966.6 2003.9L952.3 2003.9L952.3 2003.9L937.9 1989.8L923.5 2003.9L937.9 2018L937.9 2018L937.9 2018ZM1239.8 2032.1L1254.2 2046.3L1268.5 2046.3L1282.9 2032.1L1268.5 2018L1254.2 2018L1254.2 2018L1239.8 2003.9L1225.4 2018L1239.8 2032.1ZM1354.8 2032.1L1369.2 2046.3L1383.5 2032.1L1369.2 2018ZM607.3 2018L621.6 2032.1L636 2018L621.6 2003.9ZM1124.8 2018L1139.2 2032.1L1153.5 2018L1153.5 2018L1167.9 2003.9L1167.9 2003.9L1182.3 1989.8L1182.3 1989.8L1196.7 1975.7L1182.3 1961.6L1182.3 1961.6L1167.9 1947.5L1167.9 1947.5L1153.5 1933.4L1139.2 1947.5L1153.5 1961.6L1153.5 1961.6L1153.5 1975.7L1153.5 1989.8L1153.5 1989.8L1139.2 2003.9L1139.2 2003.9ZM362.9 2003.9L377.3 2018L391.6 2003.9L377.3 1989.8ZM492.3 2003.9L506.6 2018L521 2003.9L521 1989.8L506.6 1975.7L492.3 1989.8ZM564.1 2003.9L564.1 2003.9L564.1 1989.8L564.1 1989.8L564.1 1989.8L564.1 2003.9ZM650.4 1989.8L650.4 1989.8L650.4 1989.8L650.4 1989.8ZM1067.3 1989.8L1081.7 2003.9L1096 1989.8L1096 1975.7L1081.7 1961.6L1067.3 1975.7ZM377.3 1975.7L391.6 1989.8L406 1975.7L406 1961.6L406 1947.5L391.6 1933.4L377.3 1933.4L362.9 1947.5L377.3 1961.6L377.3 1961.6ZM794.1 1975.7L794.1 1975.7L794.1 1975.7L794.1 1975.7ZM822.9 1975.7L822.9 1975.7L808.5 1961.6L808.5 1961.6L808.5 1947.5L808.5 1933.4L808.5 1933.4L808.5 1933.4L822.9 1947.5L822.9 1947.5L822.9 1961.6L822.9 1975.7ZM578.5 1961.6L578.5 1961.6L578.5 1961.6L578.5 1961.6ZM751 1961.6L751 1961.6L751 1961.6L751 1961.6ZM952.3 1961.6L952.3 1961.6L952.3 1961.6L952.3 1961.6ZM981 1961.6L981 1961.6L981 1947.5L981 1947.5L995.4 1933.4L995.4 1933.4L995.4 1933.4L995.4 1947.5L995.4 1947.5L981 1961.6ZM1110.4 1961.6L1124.8 1975.7L1139.2 1961.6L1139.2 1947.5L1124.8 1933.4L1124.8 1933.4L1110.4 1919.3L1096 1933.4L1110.4 1947.5L1110.4 1947.5ZM506.6 1947.5L506.6 1947.5L506.6 1947.5L506.6 1947.5ZM549.8 1947.5L549.8 1947.5L549.8 1947.5L549.8 1947.5ZM621.6 1947.5L621.6 1947.5L621.6 1947.5L621.6 1947.5ZM650.4 1947.5L650.4 1947.5L650.4 1947.5L650.4 1947.5ZM1196.7 1947.5L1211 1961.6L1225.4 1947.5L1211 1933.4ZM607.3 1933.4L607.3 1933.4L607.3 1933.4L607.3 1933.4ZM664.8 1933.4L664.8 1933.4L664.8 1933.4L664.8 1933.4ZM851.6 1933.4L851.6 1933.4L851.6 1933.4L866 1933.4L866 1933.4L866 1933.4ZM952.3 1933.4L952.3 1933.4L952.3 1933.4L952.3 1933.4ZM1038.5 1933.4L1038.5 1933.4L1038.5 1933.4L1038.5 1933.4ZM1167.9 1933.4L1182.3 1947.5L1196.7 1933.4L1182.3 1919.3ZM1282.9 1933.4L1297.3 1947.5L1311.7 1933.4L1297.3 1919.3ZM1311.7 1933.4L1326 1947.5L1340.4 1933.4L1326 1919.3ZM362.9 1933.4L377.3 1933.4L391.6 1933.4L406 1933.4L420.4 1933.4L434.8 1933.4L434.8 1933.4L434.8 1933.4L420.4 1933.4L406 1947.5L420.4 1961.6L420.4 1961.6L420.4 1961.6L406 1975.7L420.4 1989.8L420.4 1989.8L434.8 2003.9L434.8 2003.9L434.8 2003.9L420.4 2018L434.8 2032.1L449.1 2018L449.1 2018L449.1 2018L449.1 2032.1L463.5 2046.3L477.9 2032.1L477.9 2018L477.9 2018L492.3 2003.9L492.3 1989.8L477.9 1975.7L463.5 1989.8L463.5 2003.9L463.5 2003.9L463.5 2003.9L449.1 1989.8L449.1 1989.8L434.8 1975.7L434.8 1975.7L434.8 1975.7L449.1 1961.6L449.1 1961.6L449.1 1961.6L463.5 1975.7L477.9 1961.6L463.5 1947.5L463.5 1947.5L463.5 1947.5L477.9 1947.5L477.9 1947.5L492.3 1961.6L492.3 1961.6L506.6 1975.7L521 1975.7L535.4 1975.7L535.4 1975.7L535.4 1975.7L521 1989.8L521 2003.9L535.4 2018L549.8 2018L549.8 2018L564.1 2032.1L578.5 2018L578.5 2018L592.9 2003.9L592.9 1989.8L592.9 1989.8L592.9 1989.8L607.3 2003.9L621.6 1989.8L621.6 1989.8L621.6 1989.8L636 2003.9L636 2003.9L650.4 2018L664.8 2003.9L664.8 2003.9L679.1 1989.8L679.1 1989.8L693.5 1975.7L693.5 1975.7L707.9 1961.6L707.9 1961.6L722.3 1961.6L722.3 1961.6L722.3 1961.6L707.9 1975.7L707.9 1989.8L707.9 2003.9L707.9 2003.9L707.9 2003.9L693.5 1989.8L679.1 2003.9L679.1 2003.9L664.8 2018L679.1 2032.1L679.1 2032.1L679.1 2046.3L679.1 2060.4L693.5 2074.5L693.5 2074.5L693.5 2088.6L707.9 2102.7L722.3 2088.6L722.3 2074.5L707.9 2060.4L707.9 2060.4L707.9 2060.4L722.3 2046.3L722.3 2046.3L736.6 2032.1L722.3 2018L722.3 2018L722.3 2018L736.6 2003.9L736.6 2003.9L751 2003.9L765.4 1989.8L765.4 1989.8L779.8 1989.8L779.8 1989.8L779.8 1989.8L765.4 2003.9L779.8 2018L779.8 2018L779.8 2018L765.4 2032.1L779.8 2046.3L794.1 2032.1L794.1 2032.1L794.1 2032.1L808.5 2046.3L808.5 2046.3L808.5 2046.3L794.1 2060.4L794.1 2060.4L779.8 2074.5L794.1 2088.6L808.5 2074.5L808.5 2074.5L822.9 2060.4L822.9 2060.4L837.3 2060.4L851.6 2046.3L837.3 2032.1L837.3 2032.1L837.3 2032.1L851.6 2032.1L866 2018L851.6 2003.9L837.3 2003.9L822.9 2018L822.9 2018L822.9 2018L808.5 2003.9L794.1 2003.9L794.1 2003.9L794.1 2003.9L808.5 2003.9L822.9 2003.9L837.3 2003.9L851.6 2003.9L866 1989.8L851.6 1975.7L851.6 1975.7L851.6 1975.7L866 1961.6L866 1961.6L866 1961.6L880.4 1975.7L880.4 1975.7L880.4 1975.7L866 1989.8L880.4 2003.9L880.4 2003.9L894.8 2018L909.1 2018L923.5 2003.9L909.1 1989.8L909.1 1989.8L909.1 1975.7L909.1 1961.6L909.1 1947.5L909.1 1947.5L923.5 1947.5L923.5 1947.5L923.5 1947.5L909.1 1961.6L909.1 1975.7L923.5 1989.8L937.9 1975.7L937.9 1975.7L937.9 1975.7L952.3 1989.8L966.6 1975.7L966.6 1975.7L966.6 1975.7L981 1989.8L995.4 1989.8L1009.8 1975.7L1009.8 1975.7L1024.2 1961.6L1024.2 1961.6L1024.2 1961.6L1038.5 1975.7L1052.9 1961.6L1052.9 1947.5L1052.9 1947.5L1067.3 1933.4L1067.3 1919.3L1067.3 1919.3L1067.3 1919.3L1067.3 1933.4L1081.7 1947.5L1096 1933.4L1096 1919.3L1096 1905.2L1081.7 1891.1L1067.3 1891.1L1052.9 1905.2L1052.9 1905.2L1052.9 1905.2L1038.5 1891.1L1038.5 1891.1L1038.5 1891.1L1052.9 1877L1052.9 1877L1052.9 1877L1067.3 1891.1L1081.7 1891.1L1096 1877L1096 1877L1096 1877L1096 1891.1L1110.4 1905.2L1124.8 1891.1L1124.8 1877L1124.8 1877L1124.8 1877L1124.8 1891.1L1139.2 1905.2L1153.5 1891.1L1153.5 1877L1153.5 1877L1167.9 1877L1182.3 1862.9L1182.3 1848.8L1182.3 1848.8L1182.3 1848.8L1182.3 1862.9L1196.7 1877L1211 1862.9L1211 1862.9L1225.4 1848.8L1225.4 1848.8L1239.8 1834.7L1225.4 1820.6L1211 1820.6L1211 1820.6L1211 1806.5L1211 1806.5L1211 1806.5L1225.4 1820.6L1239.8 1806.5L1239.8 1806.5L1254.2 1792.4L1254.2 1792.4L1254.2 1792.4L1254.2 1806.5L1254.2 1820.6L1268.5 1834.7L1282.9 1820.6L1282.9 1806.5L1282.9 1806.5L1297.3 1806.5L1297.3 1806.5L1311.7 1820.6L1326 1806.5L1311.7 1792.4L1311.7 1792.4L1311.7 1792.4L1326 1792.4L1326 1792.4L1326 1806.5L1340.4 1820.6L1354.8 1820.6L1369.2 1806.5L1369.2 1792.4L1369.2 1792.4L1383.5 1792.4L1383.5 1792.4L1397.9 1806.5L1412.3 1806.5L1426.7 1792.4L1412.3 1778.3L1397.9 1778.3L1397.9 1778.3L1397.9 1778.3L1412.3 1764.2L1412.3 1750.1L1412.3 1735.9L1412.3 1721.8L1412.3 1707.7L1397.9 1693.6L1383.5 1707.7L1383.5 1707.7L1369.2 1721.8L1369.2 1721.8L1354.8 1721.8L1340.4 1735.9L1340.4 1735.9L1326 1735.9L1311.7 1735.9L1311.7 1735.9L1311.7 1735.9L1326 1735.9L1340.4 1721.8L1340.4 1721.8L1354.8 1721.8L1369.2 1707.7L1369.2 1707.7L1383.5 1693.6L1369.2 1679.5L1354.8 1679.5L1340.4 1679.5L1340.4 1679.5L1326 1665.4L1326 1665.4L1326 1665.4L1340.4 1665.4L1354.8 1665.4L1369.2 1651.3L1369.2 1637.2L1369.2 1637.2L1383.5 1637.2L1383.5 1637.2L1383.5 1637.2L1369.2 1651.3L1383.5 1665.4L1383.5 1665.4L1383.5 1679.5L1397.9 1693.6L1412.3 1679.5L1412.3 1665.4L1397.9 1651.3L1397.9 1651.3L1397.9 1651.3L1412.3 1651.3L1412.3 1651.3L1426.7 1665.4L1441 1665.4L1455.4 1665.4L1469.8 1665.4L1484.2 1665.4L1498.5 1651.3L1498.5 1637.2L1498.5 1637.2L1512.9 1637.2L1527.3 1637.2L1527.3 1637.2L1541.7 1651.3L1556 1637.2L1541.7 1623.1L1541.7 1623.1L1541.7 1609L1527.3 1594.9L1512.9 1609L1512.9 1609L1498.5 1609L1484.2 1623.1L1484.2 1623.1L1469.8 1623.1L1455.4 1623.1L1441 1637.2L1441 1637.2L1426.7 1637.2L1426.7 1637.2L1426.7 1637.2L1441 1623.1L1441 1623.1L1455.4 1609L1441 1594.9L1441 1594.9L1441 1594.9L1455.4 1580.8L1455.4 1580.8L1469.8 1566.7L1455.4 1552.6L1441 1552.6L1426.7 1566.7L1426.7 1566.7L1426.7 1566.7L1426.7 1552.6L1426.7 1538.5L1426.7 1524.4L1412.3 1510.3L1397.9 1524.4L1397.9 1524.4L1397.9 1524.4L1383.5 1510.3L1369.2 1510.3L1354.8 1510.3L1340.4 1510.3L1326 1524.4L1326 1524.4L1311.7 1524.4L1311.7 1524.4L1311.7 1524.4L1326 1510.3L1311.7 1496.2L1297.3 1496.2L1297.3 1496.2L1297.3 1496.2L1311.7 1482.1L1311.7 1482.1L1311.7 1482.1L1326 1496.2L1326 1496.2L1340.4 1510.3L1354.8 1510.3L1369.2 1510.3L1383.5 1510.3L1397.9 1496.2L1397.9 1496.2L1397.9 1496.2L1412.3 1510.3L1426.7 1496.2L1426.7 1496.2L1441 1482.1L1441 1482.1L1441 1482.1L1455.4 1496.2L1469.8 1482.1L1455.4 1468L1455.4 1468L1441 1453.9L1441 1453.9L1426.7 1439.7L1426.7 1439.7L1412.3 1425.6L1397.9 1439.7L1397.9 1453.9L1412.3 1468L1426.7 1468L1426.7 1468L1426.7 1468L1412.3 1468L1397.9 1468L1383.5 1468L1369.2 1482.1L1369.2 1482.1L1354.8 1482.1L1340.4 1482.1L1340.4 1482.1L1340.4 1482.1L1354.8 1482.1L1369.2 1468L1369.2 1468L1383.5 1468L1397.9 1453.9L1383.5 1439.7L1369.2 1439.7L1369.2 1439.7L1369.2 1425.6L1369.2 1425.6L1369.2 1425.6L1383.5 1439.7L1397.9 1425.6L1383.5 1411.5L1383.5 1411.5L1383.5 1411.5L1397.9 1397.4L1383.5 1383.3L1369.2 1397.4L1369.2 1397.4L1354.8 1411.5L1354.8 1411.5L1354.8 1411.5L1354.8 1397.4L1354.8 1383.3L1354.8 1369.2L1354.8 1369.2L1369.2 1355.1L1369.2 1355.1L1369.2 1355.1L1369.2 1369.2L1383.5 1383.3L1397.9 1369.2L1397.9 1355.1L1383.5 1341L1383.5 1341L1383.5 1341L1397.9 1326.9L1397.9 1326.9L1412.3 1312.8L1397.9 1298.7L1397.9 1298.7L1383.5 1284.6L1369.2 1284.6L1354.8 1284.6L1340.4 1284.6L1326 1298.7L1340.4 1312.8L1340.4 1312.8L1340.4 1312.8L1326 1326.9L1326 1326.9L1326 1326.9L1326 1312.8L1326 1298.7L1326 1284.6L1326 1284.6L1340.4 1284.6L1354.8 1284.6L1369.2 1270.5L1354.8 1256.4L1354.8 1256.4L1354.8 1256.4L1369.2 1256.4L1369.2 1256.4L1383.5 1270.5L1383.5 1270.5L1397.9 1284.6L1412.3 1270.5L1412.3 1270.5L1426.7 1270.5L1441 1256.4L1426.7 1242.3L1426.7 1242.3L1426.7 1228.2L1412.3 1214.1L1397.9 1214.1L1383.5 1228.2L1383.5 1242.3L1383.5 1242.3L1383.5 1242.3L1369.2 1228.2L1369.2 1228.2L1369.2 1214.1L1354.8 1200L1340.4 1214.1L1340.4 1228.2L1340.4 1228.2L1326 1228.2L1311.7 1242.3L1311.7 1242.3L1311.7 1242.3L1311.7 1228.2L1311.7 1228.2L1326 1214.1L1311.7 1200L1297.3 1200L1297.3 1200L1282.9 1185.9L1282.9 1185.9L1282.9 1171.8L1282.9 1171.8L1297.3 1157.6L1297.3 1157.6L1297.3 1157.6L1297.3 1171.8L1297.3 1185.9L1311.7 1200L1326 1185.9L1326 1171.8L1326 1157.6L1311.7 1143.5L1311.7 1143.5L1311.7 1129.4L1297.3 1115.3L1297.3 1115.3L1297.3 1115.3L1311.7 1101.2L1311.7 1087.1L1297.3 1073L1282.9 1087.1L1282.9 1101.2L1282.9 1101.2L1282.9 1101.2L1268.5 1087.1L1268.5 1087.1L1254.2 1073L1239.8 1073L1239.8 1073L1239.8 1058.9L1225.4 1044.8L1225.4 1044.8L1211 1030.7L1211 1030.7L1211 1016.6L1211 1002.5L1211 1002.5L1211 1002.5L1211 1016.6L1225.4 1030.7L1239.8 1016.6L1239.8 1016.6L1254.2 1002.5L1254.2 988.4L1239.8 974.3L1225.4 988.4L1225.4 988.4L1225.4 988.4L1211 974.3L1196.7 974.3L1196.7 974.3L1196.7 960.2L1182.3 946.1L1167.9 960.2L1167.9 974.3L1182.3 988.4L1182.3 988.4L1182.3 988.4L1167.9 988.4L1153.5 1002.5L1153.5 1002.5L1153.5 1002.5L1139.2 988.4L1139.2 988.4L1139.2 988.4L1153.5 988.4L1167.9 974.3L1153.5 960.2L1139.2 960.2L1139.2 960.2L1139.2 960.2L1153.5 960.2L1167.9 946.1L1167.9 946.1L1182.3 932L1167.9 917.9L1167.9 917.9L1167.9 917.9L1182.3 903.8L1167.9 889.7L1153.5 903.8L1153.5 903.8L1139.2 903.8L1124.8 903.8L1110.4 917.9L1124.8 932L1124.8 932L1124.8 946.1L1124.8 946.1L1110.4 960.2L1124.8 974.3L1124.8 974.3L1124.8 974.3L1110.4 974.3L1110.4 974.3L1110.4 960.2L1110.4 946.1L1096 932L1096 932L1096 917.9L1096 917.9L1110.4 903.8L1096 889.7L1081.7 903.8L1081.7 903.8L1067.3 903.8L1052.9 903.8L1038.5 903.8L1024.2 903.8L1024.2 903.8L1024.2 903.8L1038.5 903.8L1052.9 889.7L1038.5 875.6L1024.2 875.6L1024.2 875.6L1009.8 861.4L1009.8 861.4L1009.8 861.4L1024.2 847.3L1009.8 833.2L995.4 833.2L995.4 833.2L981 819.1L966.6 833.2L981 847.3L981 847.3L981 861.4L981 861.4L981 861.4L966.6 847.3L952.3 847.3L937.9 861.4L937.9 861.4L923.5 861.4L923.5 861.4L923.5 861.4L937.9 847.3L923.5 833.2L909.1 833.2L909.1 833.2L894.8 819.1L894.8 819.1L880.4 805L866 805L851.6 819.1L851.6 833.2L866 847.3L880.4 833.2L880.4 833.2L880.4 833.2L894.8 847.3L894.8 847.3L894.8 847.3L880.4 847.3L866 861.4L866 875.6L866 875.6L866 875.6L851.6 861.4L851.6 861.4L851.6 847.3L837.3 833.2L837.3 833.2L822.9 819.1L822.9 819.1L808.5 805L808.5 805L794.1 790.9L779.8 805L794.1 819.1L794.1 819.1L808.5 833.2L808.5 833.2L808.5 833.2L794.1 847.3L794.1 847.3L779.8 847.3L779.8 847.3L779.8 833.2L779.8 819.1L765.4 805L751 819.1L751 833.2L751 833.2L736.6 833.2L736.6 833.2L722.3 819.1L707.9 833.2L707.9 847.3L722.3 861.4L722.3 861.4L722.3 861.4L707.9 861.4L707.9 861.4L693.5 847.3L693.5 847.3L679.1 833.2L664.8 847.3L664.8 847.3L664.8 847.3L650.4 833.2L636 847.3L636 847.3L636 847.3L621.6 833.2L607.3 833.2L592.9 847.3L607.3 861.4L621.6 861.4L621.6 861.4L621.6 875.6L621.6 875.6L607.3 889.7L607.3 889.7L592.9 889.7L578.5 889.7L578.5 889.7L564.1 875.6L549.8 889.7L549.8 889.7L535.4 889.7L521 889.7L506.6 903.8L506.6 903.8L506.6 903.8L492.3 889.7L492.3 889.7L492.3 889.7L506.6 875.6L492.3 861.4L477.9 875.6L477.9 875.6L463.5 875.6L449.1 875.6L434.8 889.7L434.8 903.8L434.8 917.9L434.8 917.9L434.8 917.9L434.8 903.8L420.4 889.7L406 903.8L406 917.9L406 917.9L391.6 932L391.6 946.1L391.6 960.2L406 974.3L420.4 960.2L420.4 946.1L420.4 932L420.4 932L420.4 932L420.4 946.1L420.4 960.2L420.4 974.3L420.4 974.3L406 974.3L391.6 974.3L377.3 988.4L391.6 1002.5L391.6 1002.5L391.6 1002.5L377.3 1002.5L362.9 1016.6L362.9 1030.7L377.3 1044.8L391.6 1030.7L391.6 1030.7L391.6 1030.7L391.6 1044.8L406 1058.9L406 1058.9L406 1073L420.4 1087.1L420.4 1087.1L420.4 1087.1L406 1087.1L406 1087.1L406 1073L391.6 1058.9L391.6 1058.9L377.3 1044.8L362.9 1058.9L362.9 1073L362.9 1073M449.1 1919.3L449.1 1919.3L449.1 1919.3L449.1 1919.3ZM521 1919.3L521 1919.3L521 1919.3L535.4 1905.2L535.4 1905.2L549.8 1905.2L564.1 1905.2L564.1 1905.2L564.1 1905.2L549.8 1905.2L535.4 1919.3L535.4 1919.3ZM592.9 1919.3L592.9 1919.3L592.9 1919.3L592.9 1919.3ZM765.4 1919.3L765.4 1919.3L765.4 1919.3L765.4 1919.3ZM822.9 1919.3L822.9 1919.3L822.9 1919.3L822.9 1919.3ZM894.8 1919.3L894.8 1919.3L894.8 1919.3L909.1 1919.3L923.5 1905.2L923.5 1905.2L923.5 1905.2L923.5 1919.3L923.5 1919.3L909.1 1919.3ZM1024.2 1919.3L1024.2 1919.3L1024.2 1905.2L1024.2 1905.2L1024.2 1905.2L1024.2 1919.3ZM1124.8 1919.3L1139.2 1933.4L1153.5 1919.3L1139.2 1905.2ZM1225.4 1919.3L1239.8 1933.4L1254.2 1919.3L1239.8 1905.2ZM420.4 1905.2L420.4 1905.2L420.4 1905.2L420.4 1905.2ZM492.3 1905.2L492.3 1905.2L492.3 1905.2L506.6 1905.2L506.6 1905.2L506.6 1905.2ZM966.6 1905.2L966.6 1905.2L966.6 1905.2L966.6 1905.2ZM1167.9 1905.2L1182.3 1919.3L1196.7 1905.2L1196.7 1891.1L1182.3 1877L1167.9 1891.1ZM1340.4 1905.2L1354.8 1919.3L1369.2 1905.2L1354.8 1891.1ZM1369.2 1905.2L1383.5 1919.3L1397.9 1905.2L1397.9 1891.1L1383.5 1877L1369.2 1891.1ZM449.1 1891.1L449.1 1891.1L449.1 1891.1L449.1 1891.1ZM650.4 1891.1L650.4 1891.1L650.4 1891.1L650.4 1891.1ZM952.3 1891.1L952.3 1891.1L952.3 1891.1L952.3 1891.1ZM1254.2 1891.1L1268.5 1905.2L1282.9 1891.1L1282.9 1891.1L1297.3 1877L1282.9 1862.9L1268.5 1877L1268.5 1877ZM434.8 1877L434.8 1877L434.8 1877L434.8 1877ZM535.4 1877L535.4 1877L535.4 1877L535.4 1877ZM636 1877L636 1877L636 1877L636 1877ZM449.1 1862.9L449.1 1862.9L449.1 1862.9L449.1 1862.9ZM851.6 1862.9L851.6 1862.9L851.6 1862.9L851.6 1862.9ZM952.3 1862.9L952.3 1862.9L952.3 1862.9L966.6 1862.9L966.6 1862.9L966.6 1862.9ZM1326 1862.9L1340.4 1877L1354.8 1862.9L1340.4 1848.8ZM1067.3 1848.8L1067.3 1848.8L1067.3 1848.8L1081.7 1848.8L1081.7 1848.8L1081.7 1848.8ZM1239.8 1848.8L1254.2 1862.9L1268.5 1848.8L1254.2 1834.7ZM1282.9 1848.8L1297.3 1862.9L1311.7 1848.8L1297.3 1834.7ZM1354.8 1848.8L1369.2 1862.9L1383.5 1848.8L1369.2 1834.7ZM362.9 1848.8L377.3 1834.7L377.3 1834.7L377.3 1834.7L391.6 1848.8L391.6 1848.8L391.6 1848.8L377.3 1862.9L377.3 1862.9L362.9 1877L377.3 1891.1L391.6 1877L391.6 1877L406 1877L406 1877L406 1891.1L406 1891.1L391.6 1905.2L391.6 1905.2L377.3 1905.2L377.3 1905.2L362.9 1891.1M736.6 1834.7L736.6 1834.7L736.6 1834.7L736.6 1834.7ZM866 1834.7L866 1834.7L866 1834.7L866 1834.7ZM1124.8 1834.7L1124.8 1834.7L1124.8 1834.7L1139.2 1834.7L1139.2 1834.7L1139.2 1834.7ZM1383.5 1834.7L1397.9 1848.8L1412.3 1834.7L1397.9 1820.6ZM449.1 1820.6L449.1 1820.6L449.1 1820.6L449.1 1820.6ZM952.3 1820.6L952.3 1820.6L952.3 1820.6L952.3 1820.6ZM1412.3 1820.6L1426.7 1834.7L1441 1834.7L1455.4 1820.6L1441 1806.5L1426.7 1806.5ZM477.9 1806.5L477.9 1806.5L477.9 1806.5L477.9 1806.5ZM1124.8 1806.5L1124.8 1806.5L1124.8 1792.4L1124.8 1792.4L1124.8 1792.4L1124.8 1806.5ZM1455.4 1806.5L1469.8 1820.6L1484.2 1806.5L1484.2 1792.4L1484.2 1792.4L1498.5 1778.3L1484.2 1764.2L1469.8 1764.2L1455.4 1778.3L1455.4 1792.4ZM362.9 1806.5L377.3 1806.5L377.3 1806.5L377.3 1806.5L362.9 1820.6L362.9 1820.6M434.8 1792.4L434.8 1792.4L434.8 1778.3L434.8 1778.3L434.8 1778.3L434.8 1792.4ZM1052.9 1792.4L1052.9 1792.4L1052.9 1792.4L1052.9 1792.4ZM1096 1792.4L1096 1792.4L1096 1778.3L1096 1778.3L1096 1778.3L1096 1792.4ZM1153.5 1792.4L1153.5 1792.4L1153.5 1792.4L1167.9 1792.4L1167.9 1792.4L1167.9 1792.4ZM1196.7 1792.4L1196.7 1792.4L1196.7 1792.4L1196.7 1792.4ZM1225.4 1792.4L1225.4 1792.4L1225.4 1778.3L1225.4 1778.3L1239.8 1764.2L1239.8 1764.2L1239.8 1764.2L1239.8 1778.3L1239.8 1778.3L1225.4 1792.4ZM391.6 1778.3L391.6 1778.3L391.6 1778.3L391.6 1778.3ZM1038.5 1778.3L1038.5 1778.3L1038.5 1778.3L1038.5 1778.3ZM1282.9 1778.3L1282.9 1778.3L1282.9 1778.3L1297.3 1764.2L1297.3 1750.1L1297.3 1750.1L1297.3 1750.1L1297.3 1764.2L1297.3 1778.3L1297.3 1778.3ZM1354.8 1778.3L1354.8 1778.3L1354.8 1778.3L1354.8 1778.3ZM1527.3 1778.3L1541.7 1792.4L1556 1778.3L1541.7 1764.2ZM362.9 1778.3L362.9 1778.3ZM377.3 1764.2L377.3 1764.2L377.3 1764.2L377.3 1764.2ZM1153.5 1764.2L1153.5 1764.2L1153.5 1764.2L1153.5 1764.2ZM1326 1764.2L1326 1764.2L1326 1764.2L1340.4 1764.2L1340.4 1764.2L1340.4 1764.2ZM1369.2 1764.2L1369.2 1764.2L1369.2 1764.2L1383.5 1764.2L1383.5 1764.2L1383.5 1764.2ZM1167.9 1750.1L1167.9 1750.1L1167.9 1735.9L1167.9 1735.9L1167.9 1735.9L1182.3 1750.1L1182.3 1750.1L1182.3 1750.1ZM1225.4 1750.1L1225.4 1750.1L1225.4 1750.1L1225.4 1750.1ZM1254.2 1750.1L1254.2 1750.1L1254.2 1750.1L1254.2 1750.1ZM1354.8 1750.1L1354.8 1750.1L1354.8 1750.1L1354.8 1750.1ZM1426.7 1750.1L1441 1764.2L1455.4 1750.1L1441 1735.9ZM377.3 1735.9L377.3 1735.9L377.3 1735.9L377.3 1735.9ZM1038.5 1735.9L1038.5 1735.9L1038.5 1735.9L1038.5 1735.9ZM1139.2 1735.9L1139.2 1735.9L1139.2 1735.9L1139.2 1735.9ZM1268.5 1735.9L1268.5 1735.9L1268.5 1721.8L1268.5 1721.8L1282.9 1707.7L1282.9 1707.7L1282.9 1707.7L1282.9 1721.8L1282.9 1735.9L1282.9 1735.9ZM1383.5 1735.9L1383.5 1735.9L1383.5 1735.9L1383.5 1735.9ZM1052.9 1721.8L1052.9 1721.8L1052.9 1721.8L1052.9 1721.8ZM1412.3 1721.8L1426.7 1735.9L1441 1721.8L1441 1721.8L1441 1721.8L1455.4 1735.9L1469.8 1721.8L1455.4 1707.7L1455.4 1707.7L1441 1693.6L1426.7 1693.6L1412.3 1707.7ZM1642.3 1721.8L1656.7 1735.9L1671 1721.8L1656.7 1707.7ZM391.6 1707.7L391.6 1707.7L391.6 1707.7L391.6 1707.7ZM1096 1707.7L1096 1707.7L1096 1707.7L1096 1707.7ZM1182.3 1707.7L1182.3 1707.7L1182.3 1707.7L1196.7 1707.7L1196.7 1707.7L1196.7 1707.7ZM1225.4 1707.7L1225.4 1707.7L1225.4 1707.7L1225.4 1707.7ZM1254.2 1707.7L1254.2 1707.7L1254.2 1707.7L1254.2 1707.7ZM1484.2 1707.7L1498.5 1721.8L1512.9 1707.7L1512.9 1707.7L1527.3 1693.6L1512.9 1679.5L1498.5 1693.6L1498.5 1693.6ZM406 1693.6L406 1693.6L406 1693.6L406 1693.6ZM1541.7 1693.6L1556 1707.7L1570.4 1693.6L1570.4 1679.5L1556 1665.4L1541.7 1679.5ZM1613.5 1693.6L1627.9 1707.7L1642.3 1707.7L1656.7 1707.7L1671 1693.6L1656.7 1679.5L1642.3 1679.5L1627.9 1679.5ZM1225.4 1679.5L1225.4 1679.5L1225.4 1679.5L1225.4 1679.5ZM1282.9 1679.5L1282.9 1679.5L1282.9 1665.4L1282.9 1665.4L1282.9 1665.4L1282.9 1679.5ZM1412.3 1679.5L1426.7 1693.6L1441 1693.6L1455.4 1679.5L1441 1665.4L1426.7 1665.4ZM1182.3 1665.4L1182.3 1665.4L1182.3 1665.4L1182.3 1665.4ZM1498.5 1665.4L1512.9 1679.5L1527.3 1665.4L1512.9 1651.3ZM1268.5 1651.3L1268.5 1651.3L1268.5 1651.3L1268.5 1651.3ZM1599.2 1651.3L1613.5 1665.4L1627.9 1651.3L1613.5 1637.2ZM362.9 1651.3L362.9 1651.3ZM1211 1637.2L1211 1637.2L1211 1637.2L1211 1637.2ZM1326 1637.2L1326 1637.2L1326 1637.2L1326 1637.2ZM1239.8 1623.1L1239.8 1623.1L1239.8 1623.1L1239.8 1623.1ZM1354.8 1623.1L1354.8 1623.1L1340.4 1609L1326 1609L1326 1609L1311.7 1594.9L1311.7 1594.9L1311.7 1594.9L1326 1594.9L1326 1594.9L1340.4 1609L1354.8 1594.9L1354.8 1580.8L1354.8 1566.7L1354.8 1566.7L1369.2 1552.6L1369.2 1552.6L1369.2 1552.6L1369.2 1566.7L1369.2 1566.7L1354.8 1580.8L1354.8 1594.9L1354.8 1609L1354.8 1623.1ZM362.9 1623.1L362.9 1623.1ZM1225.4 1609L1225.4 1609L1225.4 1609L1225.4 1609ZM1297.3 1609L1297.3 1609L1297.3 1609L1297.3 1609ZM1383.5 1609L1383.5 1609L1383.5 1594.9L1383.5 1594.9L1397.9 1594.9L1397.9 1594.9L1397.9 1609L1397.9 1609ZM1211 1594.9L1211 1594.9L1211 1580.8L1211 1580.8L1211 1580.8L1211 1594.9ZM1484.2 1594.9L1498.5 1609L1512.9 1594.9L1498.5 1580.8ZM362.9 1594.9L362.9 1594.9ZM1254.2 1580.8L1254.2 1580.8L1254.2 1580.8L1254.2 1580.8ZM1412.3 1580.8L1412.3 1580.8L1412.3 1580.8L1412.3 1580.8ZM1268.5 1566.7L1268.5 1566.7L1268.5 1566.7L1268.5 1566.7ZM1297.3 1566.7L1297.3 1566.7L1297.3 1566.7L1311.7 1566.7L1311.7 1566.7L1311.7 1566.7ZM1326 1552.6L1326 1552.6L1326 1552.6L1326 1552.6ZM1340.4 1538.5L1340.4 1538.5L1340.4 1538.5L1340.4 1538.5ZM1426.7 1538.5L1441 1552.6L1455.4 1538.5L1441 1524.4ZM1455.4 1538.5L1469.8 1552.6L1484.2 1538.5L1469.8 1524.4ZM362.9 1538.5L362.9 1538.5L362.9 1552.6L362.9 1566.7L362.9 1566.7M1167.9 1524.4L1167.9 1524.4L1167.9 1524.4L1167.9 1524.4ZM1484.2 1524.4L1498.5 1538.5L1512.9 1524.4L1498.5 1510.3L1498.5 1510.3L1484.2 1496.2L1469.8 1510.3L1484.2 1524.4ZM1211 1510.3L1211 1510.3L1211 1510.3L1211 1510.3ZM1426.7 1510.3L1441 1524.4L1455.4 1510.3L1441 1496.2ZM1786 1496.2L1771.7 1510.3L1786 1524.4M1282.9 1482.1L1282.9 1482.1L1282.9 1482.1L1282.9 1482.1ZM1469.8 1468L1484.2 1482.1L1498.5 1468L1484.2 1453.9ZM362.9 1468L362.9 1468ZM1311.7 1453.9L1311.7 1453.9L1311.7 1453.9L1311.7 1453.9ZM1340.4 1453.9L1340.4 1453.9L1340.4 1453.9L1354.8 1453.9L1354.8 1453.9L1354.8 1453.9ZM1196.7 1439.7L1196.7 1439.7L1196.7 1439.7L1196.7 1439.7ZM1282.9 1439.7L1282.9 1439.7L1268.5 1425.6L1268.5 1425.6L1268.5 1411.5L1268.5 1411.5L1268.5 1411.5L1282.9 1425.6L1282.9 1425.6L1297.3 1439.7L1297.3 1439.7L1297.3 1439.7ZM1326 1439.7L1326 1439.7L1326 1439.7L1326 1439.7ZM1211 1425.6L1211 1425.6L1211 1425.6L1211 1425.6ZM1311.7 1425.6L1311.7 1425.6L1297.3 1411.5L1297.3 1411.5L1297.3 1411.5L1311.7 1411.5L1311.7 1411.5L1311.7 1425.6ZM1426.7 1425.6L1441 1439.7L1455.4 1425.6L1455.4 1425.6L1469.8 1411.5L1455.4 1397.4L1441 1411.5L1441 1411.5ZM1239.8 1411.5L1239.8 1411.5L1239.8 1411.5L1239.8 1411.5ZM362.9 1411.5L362.9 1411.5L362.9 1425.6L362.9 1425.6M1326 1383.3L1326 1383.3L1326 1383.3L1326 1383.3ZM1426.7 1383.3L1441 1397.4L1455.4 1383.3L1441 1369.2ZM1469.8 1383.3L1484.2 1397.4L1498.5 1383.3L1484.2 1369.2ZM1498.5 1383.3L1512.9 1397.4L1527.3 1383.3L1512.9 1369.2ZM1239.8 1369.2L1239.8 1369.2L1239.8 1369.2L1239.8 1369.2ZM1282.9 1369.2L1282.9 1369.2L1282.9 1369.2L1297.3 1355.1L1297.3 1355.1L1297.3 1355.1L1297.3 1369.2L1297.3 1369.2ZM362.9 1369.2L362.9 1369.2ZM1326 1355.1L1326 1355.1L1326 1355.1L1326 1355.1ZM1426.7 1355.1L1441 1369.2L1455.4 1355.1L1455.4 1341L1441 1326.9L1441 1326.9L1426.7 1312.8L1412.3 1326.9L1412.3 1341L1426.7 1355.1ZM1211 1341L1211 1341L1211 1341L1225.4 1341L1225.4 1341L1225.4 1341ZM1254.2 1341L1254.2 1341L1254.2 1326.9L1254.2 1326.9L1254.2 1326.9L1268.5 1341L1268.5 1341L1268.5 1341ZM1354.8 1341L1354.8 1341L1354.8 1326.9L1354.8 1326.9L1354.8 1326.9L1354.8 1341ZM362.9 1341L362.9 1341ZM1282.9 1326.9L1282.9 1326.9L1282.9 1326.9L1282.9 1326.9ZM1268.5 1312.8L1268.5 1312.8L1268.5 1312.8L1268.5 1312.8ZM1297.3 1312.8L1297.3 1312.8L1297.3 1298.7L1297.3 1284.6L1297.3 1284.6L1297.3 1284.6L1297.3 1298.7L1297.3 1312.8ZM1369.2 1312.8L1369.2 1312.8L1369.2 1312.8L1383.5 1312.8L1383.5 1312.8L1383.5 1312.8ZM1498.5 1312.8L1512.9 1326.9L1527.3 1312.8L1527.3 1312.8L1541.7 1298.7L1527.3 1284.6L1512.9 1298.7L1512.9 1298.7ZM1656.7 1312.8L1671 1326.9L1685.4 1312.8L1671 1298.7ZM362.9 1298.7L362.9 1298.7L362.9 1312.8L362.9 1312.8M1412.3 1284.6L1426.7 1298.7L1441 1284.6L1426.7 1270.5ZM1225.4 1270.5L1225.4 1270.5L1225.4 1256.4L1225.4 1256.4L1225.4 1256.4L1239.8 1270.5L1254.2 1270.5L1254.2 1270.5L1254.2 1270.5L1239.8 1270.5ZM1282.9 1270.5L1282.9 1270.5L1282.9 1270.5L1282.9 1270.5ZM1469.8 1270.5L1484.2 1284.6L1498.5 1270.5L1484.2 1256.4ZM1570.4 1270.5L1584.8 1284.6L1599.2 1270.5L1584.8 1256.4ZM362.9 1270.5L362.9 1270.5ZM1167.9 1256.4L1167.9 1256.4L1167.9 1256.4L1167.9 1256.4ZM1268.5 1256.4L1268.5 1256.4L1268.5 1256.4L1268.5 1256.4ZM1441 1256.4L1455.4 1270.5L1469.8 1256.4L1455.4 1242.3ZM391.6 1242.3L391.6 1242.3L391.6 1242.3L391.6 1242.3ZM1239.8 1228.2L1239.8 1228.2L1239.8 1228.2L1239.8 1228.2ZM1268.5 1228.2L1268.5 1228.2L1268.5 1228.2L1282.9 1228.2L1282.9 1228.2L1282.9 1228.2ZM1455.4 1228.2L1469.8 1242.3L1484.2 1228.2L1469.8 1214.1ZM1498.5 1228.2L1512.9 1242.3L1527.3 1228.2L1512.9 1214.1L1512.9 1214.1L1498.5 1200L1484.2 1214.1L1498.5 1228.2ZM1182.3 1214.1L1182.3 1214.1L1182.3 1214.1L1182.3 1214.1ZM1584.8 1214.1L1599.2 1228.2L1613.5 1214.1L1599.2 1200ZM362.9 1214.1L362.9 1214.1L362.9 1228.2L362.9 1228.2M1081.7 1200L1081.7 1200L1081.7 1200L1081.7 1200ZM1153.5 1200L1153.5 1200L1153.5 1185.9L1153.5 1185.9L1153.5 1185.9L1153.5 1200ZM1196.7 1200L1196.7 1200L1196.7 1200L1196.7 1200ZM1239.8 1200L1239.8 1200L1239.8 1200L1239.8 1200ZM1426.7 1200L1441 1214.1L1455.4 1200L1455.4 1200L1469.8 1185.9L1455.4 1171.8L1455.4 1171.8L1441 1157.6L1426.7 1171.8L1441 1185.9L1441 1185.9L1441 1185.9ZM1656.7 1200L1671 1214.1L1685.4 1200L1671 1185.9ZM391.6 1185.9L391.6 1185.9L391.6 1185.9L391.6 1185.9ZM477.9 1185.9L477.9 1185.9L477.9 1185.9L477.9 1185.9ZM1182.3 1185.9L1182.3 1185.9L1182.3 1185.9L1182.3 1185.9ZM1326 1185.9L1340.4 1200L1354.8 1185.9L1340.4 1171.8ZM1354.8 1185.9L1369.2 1200L1383.5 1185.9L1369.2 1171.8ZM1383.5 1185.9L1397.9 1200L1412.3 1185.9L1397.9 1171.8ZM1484.2 1185.9L1498.5 1200L1512.9 1185.9L1498.5 1171.8ZM1225.4 1171.8L1225.4 1171.8L1225.4 1171.8L1225.4 1171.8ZM1541.7 1171.8L1556 1185.9L1570.4 1171.8L1556 1157.6ZM362.9 1171.8L362.9 1171.8ZM377.3 1157.6L377.3 1157.6L377.3 1157.6L377.3 1157.6ZM406 1157.6L406 1157.6L406 1157.6L406 1157.6ZM1153.5 1157.6L1153.5 1157.6L1153.5 1157.6L1167.9 1157.6L1167.9 1157.6L1167.9 1157.6ZM1211 1157.6L1211 1157.6L1211 1157.6L1211 1157.6ZM1239.8 1157.6L1239.8 1157.6L1239.8 1157.6L1239.8 1157.6ZM1383.5 1157.6L1397.9 1171.8L1412.3 1171.8L1426.7 1157.6L1412.3 1143.5L1397.9 1143.5ZM1469.8 1157.6L1484.2 1171.8L1498.5 1157.6L1498.5 1157.6L1498.5 1157.6L1512.9 1171.8L1527.3 1157.6L1512.9 1143.5L1512.9 1143.5L1498.5 1129.4L1484.2 1129.4L1469.8 1143.5ZM1196.7 1143.5L1196.7 1143.5L1196.7 1143.5L1196.7 1143.5ZM1254.2 1143.5L1254.2 1143.5L1254.2 1143.5L1268.5 1129.4L1268.5 1129.4L1282.9 1129.4L1282.9 1129.4L1282.9 1143.5L1282.9 1143.5L1268.5 1143.5ZM1326 1143.5L1340.4 1157.6L1354.8 1157.6L1369.2 1143.5L1369.2 1143.5L1383.5 1129.4L1383.5 1129.4L1397.9 1115.3L1383.5 1101.2L1369.2 1115.3L1369.2 1115.3L1369.2 1115.3L1369.2 1101.2L1354.8 1087.1L1340.4 1087.1L1340.4 1087.1L1326 1073L1311.7 1087.1L1326 1101.2L1326 1101.2L1340.4 1115.3L1340.4 1115.3L1354.8 1129.4L1354.8 1129.4L1354.8 1129.4L1340.4 1129.4L1340.4 1129.4L1326 1115.3L1311.7 1129.4L1326 1143.5ZM1426.7 1143.5L1441 1157.6L1455.4 1143.5L1441 1129.4L1441 1129.4L1441 1129.4L1455.4 1115.3L1441 1101.2L1426.7 1115.3L1426.7 1115.3L1412.3 1129.4L1426.7 1143.5ZM1211 1129.4L1211 1129.4L1211 1129.4L1211 1129.4ZM1599.2 1129.4L1613.5 1143.5L1627.9 1129.4L1613.5 1115.3ZM1153.5 1115.3L1153.5 1115.3L1153.5 1115.3L1167.9 1101.2L1167.9 1101.2L1182.3 1101.2L1182.3 1101.2L1182.3 1101.2L1167.9 1115.3L1167.9 1115.3ZM1239.8 1115.3L1239.8 1115.3L1225.4 1101.2L1225.4 1101.2L1225.4 1087.1L1225.4 1087.1L1225.4 1087.1L1239.8 1101.2L1254.2 1101.2L1254.2 1101.2L1254.2 1115.3L1254.2 1115.3ZM1512.9 1115.3L1527.3 1129.4L1541.7 1115.3L1527.3 1101.2ZM1786 1115.3L1771.7 1129.4L1786 1143.5M362.9 1115.3L362.9 1115.3L362.9 1129.4L362.9 1129.4M377.3 1101.2L377.3 1101.2L377.3 1087.1L377.3 1087.1L377.3 1087.1L391.6 1101.2L391.6 1101.2L391.6 1101.2ZM1024.2 1101.2L1024.2 1101.2L1024.2 1101.2L1024.2 1101.2ZM1096 1101.2L1096 1101.2L1096 1101.2L1096 1101.2ZM981 1087.1L981 1087.1L981 1087.1L981 1087.1ZM1153.5 1087.1L1153.5 1087.1L1153.5 1087.1L1153.5 1087.1ZM1397.9 1087.1L1412.3 1101.2L1426.7 1101.2L1441 1087.1L1426.7 1073L1412.3 1073L1412.3 1073L1412.3 1058.9L1397.9 1044.8L1383.5 1058.9L1383.5 1058.9L1369.2 1073L1383.5 1087.1L1397.9 1087.1ZM937.9 1073L937.9 1073L937.9 1073L937.9 1073ZM1124.8 1073L1124.8 1073L1124.8 1058.9L1124.8 1058.9L1139.2 1058.9L1153.5 1058.9L1167.9 1044.8L1167.9 1030.7L1167.9 1030.7L1182.3 1016.6L1182.3 1016.6L1182.3 1016.6L1182.3 1030.7L1182.3 1030.7L1167.9 1044.8L1167.9 1058.9L1167.9 1058.9L1153.5 1058.9L1139.2 1058.9L1124.8 1073ZM1182.3 1073L1182.3 1073L1182.3 1073L1182.3 1073ZM1211 1073L1211 1073L1196.7 1058.9L1196.7 1058.9L1196.7 1058.9L1211 1058.9L1211 1058.9L1211 1073ZM1340.4 1073L1354.8 1087.1L1369.2 1073L1354.8 1058.9L1354.8 1058.9L1340.4 1044.8L1326 1058.9L1340.4 1073ZM463.5 1058.9L463.5 1058.9L463.5 1058.9L463.5 1058.9ZM808.5 1058.9L808.5 1058.9L808.5 1058.9L808.5 1058.9ZM1009.8 1058.9L1009.8 1058.9L1009.8 1058.9L1009.8 1058.9ZM1038.5 1058.9L1038.5 1058.9L1038.5 1058.9L1038.5 1058.9ZM1484.2 1058.9L1498.5 1073L1512.9 1058.9L1512.9 1058.9L1512.9 1058.9L1527.3 1073L1541.7 1058.9L1527.3 1044.8L1527.3 1044.8L1512.9 1030.7L1498.5 1044.8L1498.5 1044.8ZM449.1 1044.8L449.1 1044.8L449.1 1044.8L449.1 1044.8ZM521 1044.8L521 1044.8L521 1044.8L521 1044.8ZM765.4 1044.8L765.4 1044.8L765.4 1044.8L765.4 1044.8ZM952.3 1044.8L952.3 1044.8L952.3 1044.8L952.3 1044.8ZM1024.2 1044.8L1024.2 1044.8L1024.2 1044.8L1024.2 1044.8ZM1052.9 1044.8L1052.9 1044.8L1052.9 1044.8L1067.3 1030.7L1067.3 1030.7L1081.7 1030.7L1081.7 1030.7L1081.7 1030.7L1067.3 1044.8L1067.3 1044.8ZM1239.8 1044.8L1254.2 1058.9L1268.5 1044.8L1254.2 1030.7ZM1297.3 1044.8L1311.7 1058.9L1326 1044.8L1326 1030.7L1326 1016.6L1311.7 1002.5L1297.3 1016.6L1297.3 1030.7ZM1412.3 1044.8L1426.7 1058.9L1441 1044.8L1426.7 1030.7ZM722.3 1030.7L722.3 1030.7L722.3 1030.7L722.3 1030.7ZM981 1030.7L981 1030.7L981 1030.7L981 1030.7ZM1139.2 1030.7L1139.2 1030.7L1139.2 1030.7L1139.2 1030.7ZM1354.8 1030.7L1369.2 1044.8L1383.5 1030.7L1369.2 1016.6ZM406 1016.6L406 1016.6L406 1016.6L406 1016.6ZM535.4 1016.6L535.4 1016.6L535.4 1016.6L535.4 1016.6ZM693.5 1016.6L693.5 1016.6L693.5 1016.6L693.5 1016.6ZM822.9 1016.6L822.9 1016.6L822.9 1016.6L822.9 1016.6ZM909.1 1016.6L909.1 1016.6L909.1 1016.6L923.5 1016.6L937.9 1016.6L937.9 1016.6L937.9 1016.6L923.5 1016.6ZM995.4 1016.6L995.4 1016.6L995.4 1016.6L995.4 1016.6ZM1124.8 1016.6L1124.8 1016.6L1124.8 1002.5L1124.8 1002.5L1124.8 1002.5L1124.8 1016.6ZM1254.2 1016.6L1268.5 1030.7L1282.9 1016.6L1282.9 1016.6L1297.3 1002.5L1297.3 1002.5L1311.7 988.4L1297.3 974.3L1297.3 974.3L1297.3 960.2L1282.9 946.1L1268.5 960.2L1268.5 974.3L1282.9 988.4L1282.9 988.4L1282.9 988.4L1268.5 988.4L1254.2 1002.5ZM1455.4 1016.6L1469.8 1030.7L1484.2 1016.6L1469.8 1002.5ZM1498.5 1016.6L1512.9 1030.7L1527.3 1016.6L1527.3 1002.5L1512.9 988.4L1498.5 1002.5ZM1570.4 1016.6L1584.8 1030.7L1599.2 1016.6L1584.8 1002.5ZM521 1002.5L521 1002.5L521 1002.5L521 1002.5ZM564.1 1002.5L564.1 1002.5L564.1 1002.5L564.1 1002.5ZM722.3 1002.5L722.3 1002.5L722.3 1002.5L722.3 1002.5ZM894.8 1002.5L894.8 1002.5L894.8 988.4L880.4 974.3L880.4 974.3L880.4 974.3L894.8 960.2L894.8 946.1L894.8 946.1L894.8 946.1L894.8 960.2L894.8 974.3L894.8 988.4L894.8 1002.5ZM966.6 1002.5L966.6 1002.5L966.6 1002.5L966.6 1002.5ZM1340.4 1002.5L1354.8 1016.6L1369.2 1002.5L1369.2 988.4L1369.2 988.4L1383.5 974.3L1383.5 960.2L1369.2 946.1L1354.8 960.2L1354.8 960.2L1340.4 974.3L1340.4 988.4ZM1527.3 1002.5L1541.7 1016.6L1556 1002.5L1541.7 988.4ZM434.8 988.4L434.8 988.4L434.8 988.4L449.1 988.4L449.1 988.4L449.1 988.4ZM592.9 988.4L592.9 988.4L592.9 988.4L592.9 988.4ZM621.6 988.4L621.6 988.4L621.6 988.4L621.6 988.4ZM851.6 988.4L851.6 988.4L851.6 988.4L851.6 988.4ZM923.5 988.4L923.5 988.4L923.5 988.4L923.5 988.4ZM995.4 988.4L995.4 988.4L995.4 974.3L995.4 960.2L995.4 960.2L1009.8 946.1L1009.8 932L1009.8 917.9L1009.8 917.9L1009.8 917.9L1009.8 932L1009.8 946.1L1024.2 960.2L1024.2 960.2L1024.2 960.2L1009.8 960.2L995.4 974.3L1009.8 988.4L1009.8 988.4L1009.8 988.4ZM1081.7 988.4L1081.7 988.4L1081.7 974.3L1081.7 974.3L1081.7 974.3L1096 988.4L1096 988.4L1096 988.4ZM1311.7 988.4L1326 1002.5L1340.4 988.4L1326 974.3ZM1441 988.4L1455.4 1002.5L1469.8 988.4L1455.4 974.3ZM1570.4 988.4L1584.8 1002.5L1599.2 988.4L1584.8 974.3ZM693.5 974.3L693.5 974.3L693.5 974.3L693.5 974.3ZM837.3 974.3L837.3 974.3L837.3 974.3L837.3 974.3ZM937.9 974.3L937.9 974.3L937.9 960.2L937.9 946.1L923.5 932L923.5 932L923.5 932L937.9 917.9L923.5 903.8L923.5 903.8L923.5 903.8L937.9 889.7L937.9 889.7L937.9 889.7L952.3 903.8L966.6 903.8L966.6 903.8L966.6 903.8L952.3 903.8L937.9 917.9L952.3 932L966.6 932L966.6 932L966.6 946.1L966.6 946.1L966.6 946.1L952.3 932L937.9 946.1L937.9 960.2L952.3 974.3L952.3 974.3L952.3 974.3ZM362.9 960.2L377.3 974.3L391.6 960.2L377.3 946.1ZM477.9 960.2L477.9 960.2L477.9 946.1L477.9 932L477.9 932L492.3 917.9L492.3 917.9L492.3 917.9L492.3 932L492.3 946.1L492.3 946.1L477.9 960.2ZM506.6 960.2L506.6 960.2L506.6 960.2L506.6 960.2ZM564.1 960.2L564.1 960.2L564.1 960.2L564.1 960.2ZM679.1 960.2L679.1 960.2L679.1 960.2L679.1 960.2ZM822.9 960.2L822.9 960.2L822.9 960.2L822.9 960.2ZM851.6 960.2L851.6 960.2L851.6 960.2L851.6 960.2ZM1067.3 960.2L1067.3 960.2L1067.3 946.1L1052.9 932L1052.9 932L1052.9 932L1067.3 932L1067.3 932L1081.7 946.1L1081.7 946.1L1081.7 946.1L1067.3 960.2ZM1225.4 960.2L1239.8 974.3L1254.2 960.2L1254.2 960.2L1268.5 946.1L1254.2 932L1254.2 932L1254.2 917.9L1239.8 903.8L1225.4 917.9L1225.4 932L1225.4 932L1211 946.1L1225.4 960.2ZM1397.9 960.2L1412.3 974.3L1426.7 960.2L1412.3 946.1ZM765.4 946.1L765.4 946.1L765.4 946.1L765.4 946.1ZM808.5 946.1L808.5 946.1L808.5 946.1L808.5 946.1ZM592.9 932L592.9 932L592.9 932L592.9 932ZM636 932L636 932L636 932L650.4 932L664.8 917.9L664.8 917.9L664.8 917.9L664.8 932L664.8 932L650.4 932ZM779.8 932L779.8 932L779.8 917.9L765.4 903.8L765.4 903.8L765.4 903.8L779.8 903.8L779.8 903.8L779.8 917.9L779.8 932ZM822.9 932L822.9 932L822.9 932L822.9 932ZM880.4 932L880.4 932L880.4 932L880.4 932ZM1153.5 932L1153.5 932L1153.5 932L1153.5 932ZM1282.9 932L1297.3 946.1L1311.7 932L1297.3 917.9ZM1340.4 932L1354.8 946.1L1369.2 932L1354.8 917.9ZM1383.5 932L1397.9 946.1L1412.3 932L1397.9 917.9ZM1541.7 932L1556 946.1L1570.4 932L1556 917.9ZM463.5 917.9L463.5 917.9L463.5 917.9L463.5 917.9ZM521 917.9L521 917.9L521 917.9L535.4 917.9L535.4 917.9L535.4 917.9ZM607.3 917.9L607.3 917.9L607.3 917.9L607.3 917.9ZM751 917.9L751 917.9L751 917.9L751 917.9ZM808.5 917.9L808.5 917.9L808.5 903.8L808.5 903.8L808.5 903.8L808.5 917.9ZM981 917.9L981 917.9L981 917.9L981 917.9ZM1441 917.9L1455.4 932L1469.8 917.9L1455.4 903.8L1455.4 903.8L1441 889.7L1441 889.7L1426.7 875.6L1412.3 889.7L1412.3 903.8L1426.7 917.9L1441 917.9ZM362.9 903.8L377.3 917.9L391.6 903.8L377.3 889.7ZM477.9 903.8L477.9 903.8L477.9 903.8L477.9 903.8ZM564.1 903.8L564.1 903.8L564.1 903.8L564.1 903.8ZM621.6 903.8L621.6 903.8L621.6 903.8L636 889.7L636 889.7L650.4 889.7L650.4 889.7L650.4 889.7L636 903.8L636 903.8ZM679.1 903.8L679.1 903.8L679.1 903.8L679.1 903.8ZM837.3 903.8L837.3 903.8L837.3 903.8L837.3 903.8ZM866 903.8L866 903.8L866 903.8L880.4 903.8L894.8 889.7L894.8 889.7L909.1 875.6L909.1 875.6L909.1 875.6L909.1 889.7L909.1 889.7L894.8 903.8L894.8 903.8L880.4 903.8ZM1182.3 903.8L1196.7 917.9L1211 903.8L1211 889.7L1211 875.6L1196.7 861.4L1196.7 861.4L1182.3 847.3L1167.9 861.4L1182.3 875.6L1182.3 875.6L1182.3 889.7ZM1282.9 903.8L1297.3 917.9L1311.7 917.9L1326 903.8L1311.7 889.7L1297.3 889.7ZM1369.2 903.8L1383.5 917.9L1397.9 903.8L1383.5 889.7ZM1498.5 903.8L1512.9 917.9L1527.3 903.8L1512.9 889.7ZM722.3 889.7L722.3 889.7L722.3 889.7L722.3 889.7ZM822.9 889.7L822.9 889.7L822.9 875.6L822.9 875.6L822.9 875.6L822.9 889.7ZM981 889.7L981 889.7L981 889.7L995.4 889.7L995.4 889.7L995.4 889.7ZM406 875.6L420.4 889.7L434.8 875.6L420.4 861.4ZM506.6 875.6L521 889.7L535.4 889.7L549.8 875.6L535.4 861.4L521 861.4ZM578.5 875.6L592.9 889.7L607.3 875.6L592.9 861.4ZM693.5 875.6L693.5 875.6L693.5 875.6L693.5 875.6ZM736.6 875.6L736.6 875.6L736.6 875.6L751 875.6L765.4 875.6L765.4 875.6L765.4 875.6L751 875.6ZM794.1 875.6L794.1 875.6L794.1 875.6L794.1 875.6ZM952.3 875.6L952.3 875.6L952.3 875.6L966.6 875.6L966.6 875.6L966.6 875.6ZM1096 875.6L1110.4 889.7L1124.8 875.6L1124.8 861.4L1124.8 861.4L1139.2 847.3L1124.8 833.2L1110.4 833.2L1096 833.2L1081.7 833.2L1081.7 833.2L1067.3 819.1L1052.9 833.2L1052.9 833.2L1052.9 833.2L1038.5 819.1L1024.2 833.2L1024.2 847.3L1038.5 861.4L1052.9 861.4L1067.3 847.3L1067.3 847.3L1067.3 847.3L1067.3 861.4L1081.7 875.6L1096 861.4L1096 861.4L1096 861.4ZM1124.8 875.6L1139.2 889.7L1153.5 875.6L1139.2 861.4ZM1354.8 875.6L1369.2 889.7L1383.5 875.6L1369.2 861.4ZM549.8 861.4L564.1 875.6L578.5 861.4L578.5 847.3L578.5 847.3L592.9 833.2L578.5 819.1L564.1 833.2L564.1 833.2L549.8 847.3ZM650.4 861.4L650.4 861.4L650.4 861.4L650.4 861.4ZM679.1 861.4L679.1 861.4L679.1 861.4L679.1 861.4ZM1239.8 861.4L1254.2 875.6L1268.5 861.4L1254.2 847.3ZM1297.3 861.4L1311.7 875.6L1326 861.4L1311.7 847.3ZM506.6 847.3L521 861.4L535.4 847.3L521 833.2ZM822.9 847.3L822.9 847.3L822.9 847.3L822.9 847.3ZM1153.5 833.2L1167.9 847.3L1182.3 833.2L1182.3 833.2L1196.7 819.1L1196.7 805L1182.3 790.9L1167.9 805L1167.9 819.1L1167.9 819.1ZM1211 833.2L1225.4 847.3L1239.8 833.2L1225.4 819.1L1225.4 819.1L1211 805L1196.7 819.1L1211 833.2ZM1254.2 833.2L1268.5 847.3L1282.9 833.2L1268.5 819.1ZM535.4 819.1L549.8 833.2L564.1 819.1L549.8 805L549.8 805L535.4 790.9L521 805L535.4 819.1ZM636 819.1L650.4 833.2L664.8 819.1L664.8 805L650.4 790.9L636 790.9L621.6 805L636 819.1ZM909.1 819.1L923.5 833.2L937.9 819.1L937.9 805L937.9 805L952.3 805L966.6 790.9L966.6 776.8L952.3 762.7L937.9 776.8L937.9 776.8L923.5 790.9L923.5 790.9L909.1 805ZM1096 819.1L1110.4 833.2L1124.8 819.1L1110.4 805ZM1397.9 819.1L1412.3 833.2L1426.7 819.1L1412.3 805ZM564.1 805L578.5 819.1L592.9 819.1L607.3 805L607.3 805L621.6 790.9L607.3 776.8L592.9 790.9L592.9 790.9L578.5 790.9ZM722.3 805L736.6 819.1L751 805L736.6 790.9ZM1052.9 805L1067.3 819.1L1081.7 805L1067.3 790.9ZM1254.2 805L1268.5 819.1L1282.9 805L1268.5 790.9ZM1340.4 805L1354.8 819.1L1369.2 805L1354.8 790.9ZM463.5 790.9L477.9 805L492.3 790.9L477.9 776.8ZM866 790.9L880.4 805L894.8 790.9L880.4 776.8ZM1024.2 790.9L1038.5 805L1052.9 790.9L1038.5 776.8ZM1196.7 790.9L1211 805L1225.4 790.9L1211 776.8L1211 776.8L1196.7 762.7L1182.3 776.8L1196.7 790.9ZM650.4 776.8L664.8 790.9L679.1 776.8L664.8 762.7ZM722.3 776.8L736.6 790.9L751 776.8L736.6 762.7ZM1081.7 776.8L1096 790.9L1110.4 776.8L1096 762.7L1096 762.7L1081.7 748.6L1067.3 748.6L1052.9 762.7L1067.3 776.8L1081.7 776.8ZM607.3 762.7L621.6 776.8L636 762.7L621.6 748.6ZM1024.2 762.7L1038.5 776.8L1052.9 762.7L1038.5 748.6ZM1211 762.7L1225.4 776.8L1239.8 762.7L1225.4 748.6ZM535.4 748.6L549.8 762.7L564.1 762.7L578.5 748.6L564.1 734.5L549.8 734.5ZM995.4 748.6L1009.8 762.7L1024.2 748.6L1009.8 734.5ZM1139.2 734.5L1153.5 748.6L1167.9 734.5M1239.8 734.5L1239.8 748.6L1254.2 762.7L1268.5 748.6L1268.5 734.5"/>
<path stroke="#1c1c1c" d="M588.1 1891.1L592.9 1893.9L600.1 1891.1L592.9 1887.6ZM776.2 1891.1L779.8 1895.8L783.4 1891.1L779.8 1888.3ZM530.6 1862.9L535.4 1865.2L539 1862.9L535.4 1860.1ZM578.5 1862.9L592.9 1868.5L607.3 1866.4L614.5 1862.9L614.5 1848.8L607.3 1845.3L600.1 1848.8L592.9 1853.5L585.7 1848.8L578.5 1844.1L564.1 1848.8L578.5 1862.9ZM688.7 1862.9L693.5 1866.4L698.3 1862.9L693.5 1858.2ZM643.2 1848.8L650.4 1857.2L657.6 1848.8L650.4 1834.7ZM675.6 1848.8L679.1 1853.5L683.9 1848.8L693.5 1841.7L703.1 1834.7L693.5 1827.6L679.1 1820.6L676.3 1834.7ZM741.4 1848.8L751 1862.9L760.6 1848.8L751 1839.4ZM539.5 1834.7L549.8 1846.4L561.8 1834.7L564.1 1827.6L578.5 1825.3L585.7 1820.6L588.1 1806.5L592.9 1792.4L592.9 1792.4L592.9 1792.4L607.3 1806.5L621.6 1806.5L636 1806.5L636 1806.5L636 1806.5L628.8 1820.6L636 1826.2L650.4 1834.7L664.8 1820.6L655.2 1806.5L657.6 1792.4L664.8 1783L672 1792.4L679.2 1801.8L682.7 1806.5L693.5 1814.9L703.1 1820.6L707.9 1827.6L715.1 1820.6L722.3 1806.5L717.5 1792.4L707.9 1778.3L693.5 1778.3L693.5 1778.3L693.5 1778.3L707.9 1778.3L722.3 1773.6L730.9 1778.3L725.2 1792.4L722.3 1806.5L736.6 1820.6L736.6 1820.6L751 1827.6L765.4 1827.6L772.6 1834.7L779.8 1839.4L794.1 1841.7L808.5 1846.8L818.1 1834.7L808.5 1825.3L794.1 1827.6L790.6 1820.6L779.8 1813.5L771.1 1806.5L779.8 1798L794.1 1797.1L808.5 1806.5L808.5 1806.5L822.9 1811.2L837.3 1814.5L848.8 1806.5L851.6 1802.9L862.4 1792.4L851.6 1778.3L837.3 1785.3L827.7 1792.4L822.9 1799.4L815.7 1792.4L808.5 1778.3L808.5 1778.3L808.5 1778.3L822.9 1773.6L837.3 1768.9L851.6 1778.3L864.2 1764.2L866 1762.1L875.6 1750.1L880.4 1739.5L894.8 1735.9L894.8 1735.9L894.8 1735.9L894.8 1735.9L891.2 1750.1L880.4 1764.2L880.4 1764.2L868.4 1778.3L870.8 1792.4L877.5 1806.5L880.4 1810L894.8 1806.5L894.8 1792.4L894.8 1792.4L909.1 1783L923.5 1787.7L935 1778.3L937.9 1764.2L937.9 1764.2L942.7 1750.1L945.1 1735.9L952.3 1732.4L955.2 1735.9L966.6 1750.1L966.6 1750.1L981 1764.2L988.2 1750.1L981 1743L976.2 1735.9L981 1728.9L990.6 1721.8L995.4 1714.8L1002.6 1721.8L1009.8 1735.9L1014.6 1721.8L1024.2 1712.4L1028.9 1721.8L1038.5 1728.1L1044.9 1721.8L1052.9 1707.7L1052.9 1707.7L1067.3 1700.7L1073 1693.6L1067.3 1684.2L1062.5 1679.5L1067.3 1665.4L1067.3 1665.4L1072.1 1651.3L1075.5 1637.2L1070.9 1623.1L1067.3 1618.4L1061.5 1609L1067.3 1599.6L1074.5 1609L1081.7 1614.6L1088.8 1623.1L1096 1630.2L1110.4 1637.2L1117.6 1623.1L1121.2 1609L1124.8 1594.9L1124.8 1594.9L1129.6 1580.8L1124.8 1576.1L1119 1566.7L1124.8 1561L1133.4 1552.6L1135.6 1538.5L1124.8 1527.9L1120 1524.4L1119 1510.3L1119 1496.2L1124.8 1486.8L1139.2 1496.2L1153.5 1491.5L1156.4 1496.2L1160.7 1510.3L1167.9 1514.3L1182.3 1510.3L1182.3 1510.3L1187.1 1496.2L1185.2 1482.1L1196.7 1468L1182.3 1460.9L1178.7 1453.9L1167.9 1443.3L1163.1 1439.7L1153.5 1430.3L1139.2 1425.6L1133 1439.7L1139.2 1450.3L1153.5 1445.4L1160.7 1453.9L1153.5 1464.4L1146.3 1468L1139.2 1470.3L1124.8 1468L1124.8 1468L1124.8 1468L1134.4 1453.9L1124.8 1449.1L1116.6 1439.7L1124.8 1425.6L1124.8 1425.6L1132 1411.5L1139.2 1397.4L1139.2 1383.3L1124.8 1369.2L1124.8 1369.2L1124.8 1369.2L1139.2 1355.1L1124.8 1341L1124.8 1341L1124.8 1326.9L1122.4 1312.8L1110.4 1302.7L1104.7 1298.7L1096 1288.1L1081.7 1298.7L1096 1312.8L1096 1312.8L1100.8 1326.9L1096 1330.4L1081.7 1326.9L1081.7 1326.9L1077.3 1312.8L1081.7 1298.7L1078.1 1284.6L1078.1 1270.5L1081.7 1263.4L1088.8 1270.5L1096 1277.5L1099.6 1270.5L1099.6 1256.4L1096 1252.9L1081.7 1249.3L1074.5 1242.3L1067.3 1237.6L1052.9 1235.2L1038.5 1230.5L1026.5 1242.3L1024.2 1245.8L1019.4 1242.3L1009.8 1228.2L1009.8 1228.2L1009.8 1228.2L1024.2 1225.4L1038.5 1214.1L1028.9 1200L1024.2 1196.4L1018 1185.9L1009.8 1171.8L995.4 1185.9L995.4 1200L995.4 1200L995.4 1200L995.4 1185.9L981 1178.8L972.4 1185.9L971.4 1200L966.6 1203.5L952.3 1200L937.9 1200L937.9 1200L937.9 1200L947.5 1185.9L952.3 1178.8L966.6 1176.5L970.2 1171.8L966.6 1157.6L952.3 1167.1L945.1 1171.8L937.9 1176.5L933.1 1171.8L923.5 1166.1L912.7 1157.6L923.5 1143.5L923.5 1143.5L929.7 1129.4L923.5 1122.4L909.1 1122.4L904.4 1129.4L894.8 1138.8L890 1129.4L880.4 1120L866 1122.4L851.6 1115.3L851.6 1115.3L837.3 1104.8L832.5 1101.2L822.9 1096.5L813.3 1101.2L808.5 1105.9L794.1 1115.3L794.1 1115.3L794.1 1115.3L790.6 1101.2L779.8 1092.8L775 1087.1L772.6 1073L779.8 1058.9L765.4 1054.9L751 1054.2L745.3 1058.9L740.2 1073L736.7 1075.8L722.3 1087.1L727.1 1101.2L722.3 1105.9L707.9 1105.9L693.5 1107.3L682.7 1101.2L693.5 1087.1L693.5 1087.1L693.5 1087.1L707.9 1097.2L722.3 1087.1L707.9 1075.4L703.1 1073L707.9 1066L722.3 1061.7L725.9 1058.9L722.3 1055.4L713.6 1044.8L707.9 1035.4L702.1 1044.8L693.5 1055.4L679.1 1048.3L668.4 1058.9L667.7 1073L664.8 1080.1L650.4 1080.1L636 1073L636 1073L636 1073L648 1058.9L636 1044.8L621.6 1050.5L607.3 1058.9L614.5 1073L607.3 1077.7L604.4 1073L607.3 1058.9L592.9 1051.9L584.7 1058.9L578.5 1069.5L571.3 1073L578.5 1077.7L592.9 1082.4L600.1 1087.1L604.4 1101.2L592.9 1115.3L592.9 1115.3L588.1 1129.4L578.5 1135.1L572.8 1129.4L578.5 1115.3L578.5 1115.3L581.4 1101.2L578.5 1096.5L564.1 1101.2L564.1 1101.2L549.8 1115.3L549.8 1129.4L549.8 1129.4L549.8 1129.4L535.4 1122.4L533.3 1115.3L535.4 1108.3L549.8 1101.2L549.8 1087.1L535.4 1073L521 1087.1L528.2 1101.2L521 1103.2L508.7 1115.3L506.6 1129.4L521 1137.9L524.6 1143.5L521 1157.6L521 1157.6L521 1157.6L506.6 1143.5L506.6 1143.5L506.6 1129.4L501.9 1115.3L492.3 1108.3L485.1 1115.3L477.9 1124.7L463.5 1125.9L459.9 1129.4L463.5 1136.5L477.9 1143.5L477.9 1143.5L485.1 1157.6L481.5 1171.8L483.9 1185.9L477.9 1193.7L463.5 1200L477.9 1214.1L477.9 1214.1L477.9 1214.1L466.4 1228.2L463.5 1230.5L460.6 1228.2L449.1 1216.9L434.8 1216.9L420.4 1228.2L420.4 1242.3L434.8 1256.4L434.8 1256.4L434.8 1256.4L420.4 1265.8L416.8 1270.5L408.1 1284.6L420.4 1296.7L422.5 1298.7L420.4 1302.2L409.6 1312.8L406 1317.5L404.2 1312.8L406 1298.7L398.8 1284.6L391.6 1281.1L388.1 1284.6L388.1 1298.7L377.3 1309.3L374.9 1312.8L377.3 1317.5L384.5 1326.9L391.6 1336.3L393.7 1341L406 1351.6L420.4 1355.1L420.4 1355.1L420.4 1355.1L406 1358.3L391.6 1369.2L398.8 1383.3L391.6 1390.4L386.9 1397.4L377.3 1404.5L373.2 1411.5L377.3 1420.9L380.1 1425.6L377.3 1439.7L391.6 1453.9L395.2 1439.7L406 1433.7L409.3 1439.7L406 1448.2L391.6 1453.9L401.2 1468L391.6 1477.4L388.8 1482.1L382.7 1496.2L391.6 1506.2L396.4 1510.3L391.6 1524.4L391.6 1524.4L388.1 1538.5L391.6 1543.2L401.2 1552.6L406 1559.6L408.9 1566.7L406 1573.7L398.8 1580.8L406 1594.9L420.4 1594.9L420.4 1594.9L420.4 1594.9L406 1594.9L391.6 1609L406 1620.3L408.1 1623.1L406 1624.5L391.6 1637.2L391.6 1637.2L382.1 1651.3L391.6 1658.4L406 1658.4L413.2 1665.4L420.4 1670.1L425.6 1679.5L434.8 1693.6L449.1 1684.2L453.9 1693.6L449.1 1699.3L434.8 1707.7L434.8 1707.7L420.4 1707.7L420.4 1707.7L406 1703.7L401.9 1707.7L406 1713.4L410.8 1721.8L420.4 1732.4L434.8 1728.9L442 1735.9L437.2 1750.1L449.1 1764.2L463.5 1764.2L477.9 1761.3L492.3 1759.5L506.6 1760.6L510.2 1764.2L509.5 1778.3L506.6 1785.3L499.5 1792.4L506.6 1806.5L521 1792.4L521 1792.4L521 1792.4L535.4 1806.5L535.4 1806.5L542.6 1820.6ZM588.1 1834.7L592.9 1841.7L596.5 1834.7L592.9 1827.6ZM846.9 1834.7L851.6 1841.7L854 1834.7L851.6 1827.6ZM890 1834.7L894.8 1838.2L898.4 1834.7L894.8 1827.6ZM600.1 1820.6L607.3 1824.1L612.1 1820.6L607.3 1806.5ZM976.2 1820.6L981 1825.3L988.2 1820.6L981 1814.9ZM751 1813.5L748.2 1806.5L751 1804.1L755.8 1806.5ZM989.7 1806.5L995.4 1813.5L1001.2 1806.5L995.4 1799.4ZM1020.6 1806.5L1024.2 1811.2L1027.7 1806.5L1024.2 1802.9ZM564.1 1792.4L564.1 1792.4L557.8 1778.3L560.6 1764.2L564.1 1761.8L565.7 1764.2L575.6 1778.3L564.1 1792.4ZM413.2 1778.3L420.4 1785.3L424.5 1778.3L420.4 1771.2ZM446.8 1778.3L449.1 1785.3L453.9 1778.3L449.1 1764.2ZM765.4 1787.7L758.2 1778.3L765.4 1774.7L779.8 1778.3L779.8 1778.3L779.8 1778.3ZM607.3 1771.2L604.4 1764.2L607.3 1761.3L610.9 1764.2ZM751 1768.9L750.1 1764.2L751 1759.5L753.1 1764.2ZM707.9 1753.6L706.1 1750.1L707.9 1747.7L710 1750.1ZM909.1 1757.1L899.6 1750.1L909.1 1745.3L918.7 1750.1ZM998 1750.1L1009.8 1759.8L1022.7 1750.1L1009.8 1735.9ZM521 1735.9L521 1735.9L521 1735.9L521 1735.9ZM607.3 1735.9L607.3 1735.9L607.3 1735.9L607.3 1735.9ZM779.8 1735.9L779.8 1735.9L779.8 1735.9L779.8 1735.9ZM923.5 1735.9L923.5 1735.9L923.5 1735.9L923.5 1735.9ZM1179.9 1735.9L1182.3 1738.3L1187.1 1735.9L1182.3 1732.4ZM492.3 1721.8L492.3 1721.8L477.9 1718.3L463.5 1707.7L463.5 1707.7L463.5 1707.7L473.1 1693.6L477.9 1684.2L482.7 1693.6L492.3 1704.9L493.9 1707.7L506.6 1720.3L510.2 1721.8L506.6 1728.9ZM1208.6 1707.7L1211 1711.3L1213.4 1707.7L1211 1700.7ZM937.9 1695.2L933.1 1693.6L937.9 1690.8L941.5 1693.6ZM966.7 1698.3L963.1 1693.6L966.6 1690.1L968.7 1693.6ZM1024.2 1693.6L1024.2 1693.6L1024.2 1693.6L1028.9 1679.5L1024.2 1672.5L1019.4 1665.4L1024.2 1660.7L1038.5 1658.4L1040.9 1665.4L1045.7 1679.5L1045.7 1693.6L1038.5 1700.7ZM1132 1693.6L1139.2 1704.2L1147.8 1693.6L1153.5 1688.9L1160.7 1679.5L1153.5 1670.1L1142 1679.5L1139.2 1683.1ZM981 1679.5L981 1679.5L981 1679.5L995.4 1674.8L1005 1679.5L995.4 1686.6ZM1088.8 1679.5L1096 1684.2L1103.2 1679.5L1096 1674.8ZM434.8 1670.6L425.2 1665.4L434.8 1658.4L438.9 1665.4ZM492.3 1669.7L488.4 1665.4L492.3 1660.1L495.9 1665.4ZM1067.3 1665.4L1081.7 1672.5L1086.4 1665.4L1081.7 1660.7ZM420.4 1656L415.6 1651.3L420.4 1646.6L423.3 1651.3ZM1110.4 1651.3L1124.8 1658.4L1139.2 1658.4L1143.9 1651.3L1149.9 1637.2L1139.2 1628.8L1124.8 1637.2L1124.8 1637.2ZM434.8 1637.2L434.8 1637.2L434.8 1637.2L434.8 1637.2ZM966.6 1637.2L966.6 1637.2L966.6 1637.2L966.6 1637.2ZM1038.5 1637.2L1038.5 1637.2L1038.5 1637.2L1052.9 1623.1L1052.9 1623.1L1052.9 1623.1L1052.9 1637.2L1052.9 1637.2ZM1177.5 1637.2L1182.3 1651.3L1188 1637.2L1182.3 1631.6ZM1038.5 1618.4L1034.4 1609L1038.5 1605L1044.3 1609ZM1160.7 1609L1167.9 1618.4L1173.7 1609L1175.1 1594.9L1167.9 1585.5L1158.3 1594.9ZM1052.9 1594.9L1052.9 1594.9L1052.9 1594.9L1052.9 1594.9ZM1096 1587.8L1092.4 1580.8L1096 1573.7L1098.9 1580.8ZM1148.7 1552.6L1153.5 1557.3L1157.1 1552.6L1153.5 1547.9ZM1024.2 1545.5L1021.8 1538.5L1024.2 1533.8L1027 1538.5ZM1235 1538.5L1239.8 1542L1243.4 1538.5L1239.8 1535ZM1067.3 1531.4L1060.1 1524.4L1067.3 1517.3L1072.1 1524.4ZM1096 1531.4L1088.8 1524.4L1096 1515L1103.2 1524.4ZM1148.7 1524.4L1153.5 1529.1L1155.9 1524.4L1153.5 1519.7ZM995.4 1517.3L993.3 1510.3L995.4 1508.7L997.8 1510.3ZM1052.9 1510.3L1052.9 1510.3L1052.9 1510.3L1052.9 1510.3ZM1096 1503.2L1088.8 1496.2L1096 1491.5L1099.6 1496.2ZM1167.9 1484.9L1163.1 1482.1L1167.9 1468L1167.9 1468L1167.9 1468L1175.1 1482.1ZM374.9 1468L377.3 1470.8L382.1 1468L377.3 1463.3ZM1081.7 1459.5L1072.1 1453.9L1080.1 1439.7L1081.7 1436.9L1084.5 1439.7L1091.2 1453.9ZM1110.4 1453.9L1110.4 1453.9L1110.4 1453.9L1110.4 1453.9ZM1222.5 1439.7L1225.4 1444.4L1228.3 1439.7L1225.4 1436.9ZM1096 1430.3L1091.2 1425.6L1088.8 1411.5L1096 1408L1110.4 1411.5L1110.4 1411.5L1110.4 1411.5L1105.6 1425.6ZM391.6 1411.5L391.6 1411.5L391.6 1411.5L391.6 1411.5ZM1024.2 1411.5L1024.2 1411.5L1024.2 1411.5L1024.2 1411.5ZM1162.2 1411.5L1167.9 1420.9L1172.7 1411.5L1167.9 1402.1ZM1067.3 1401L1065.2 1397.4L1067.3 1390.4L1072.1 1397.4ZM1196.7 1397.4L1211 1400.3L1214.6 1397.4L1211 1392.7ZM1096 1389L1092.4 1383.3L1096 1380.2L1103.2 1383.3ZM1139.2 1383.3L1153.5 1397.4L1156.4 1383.3L1167.9 1372L1175.1 1369.2L1182.3 1365.7L1190.9 1355.1L1182.3 1348.1L1173.7 1355.1L1167.9 1364.5L1153.5 1364.5L1146.3 1369.2ZM1182.3 1383.3L1196.7 1397.4L1201.4 1383.3L1196.7 1378.6ZM1081.7 1355.1L1081.7 1355.1L1081.7 1355.1L1081.7 1355.1ZM1110.4 1355.1L1110.4 1355.1L1110.4 1355.1L1110.4 1355.1ZM1206.2 1355.1L1211 1358.6L1214.6 1355.1L1211 1352.8ZM1009.8 1328.9L1008.5 1326.9L1009.8 1323.4L1017 1326.9ZM1167.9 1326.9L1182.3 1334L1193.1 1326.9L1182.3 1318.4ZM1129.6 1298.7L1139.2 1308.1L1143.9 1298.7L1153.5 1289.3L1159.3 1284.6L1153.5 1275.2L1146.3 1270.5L1139.2 1267.7L1135.6 1270.5L1134.4 1284.6ZM966.6 1288.1L965.1 1284.6L966.6 1277.5L968.4 1284.6ZM1038.5 1284.6L1038.5 1284.6L1038.5 1284.6L1048.1 1270.5L1051.7 1256.4L1052.9 1249.3L1055.3 1256.4L1058.7 1270.5L1056.5 1284.6L1052.9 1289.3ZM1178.7 1284.6L1182.3 1288.1L1187.1 1284.6L1182.3 1279.9ZM794.1 1232.2L790 1228.2L794.1 1224.1L797.7 1228.2ZM923.5 1228.2L923.5 1228.2L923.5 1228.2L923.5 1228.2ZM981 1233.8L973.8 1228.2L975.3 1214.1L981 1207L990.6 1214.1L988.2 1228.2ZM1088.8 1228.2L1096 1231.7L1098.9 1228.2L1096 1224.6ZM1160.7 1228.2L1167.9 1232.9L1175.1 1228.2L1167.9 1223.5ZM1058.7 1214.1L1067.3 1222.5L1075.9 1214.1L1067.3 1203.5ZM444.4 1200L449.1 1209.4L463.5 1200L453.9 1185.9L463.5 1180.2L474.3 1171.8L463.5 1164.7L452.7 1157.6L449.1 1150.6L434.8 1149.8L420.4 1152.9L416.3 1157.6L420.4 1162.4L434.8 1169.4L439.6 1171.8L442 1185.9ZM794.1 1185.9L794.1 1185.9L794.1 1185.9L794.1 1185.9ZM822.9 1188.7L820 1185.9L815.7 1171.8L822.9 1164.7L837.3 1171.8L837.3 1171.8L837.3 1171.8L825.8 1185.9ZM909.1 1189.4L906.8 1185.9L909.1 1178.8L913.9 1185.9ZM1038.5 1185.9L1052.9 1200L1057.7 1185.9L1052.9 1171.8ZM506.6 1171.8L506.6 1171.8L506.6 1171.8L506.6 1171.8ZM736.6 1171.8L736.6 1171.8L736.6 1171.8L736.6 1171.8ZM779.8 1177.4L774 1171.8L779.8 1157.6L779.8 1157.6L779.8 1157.6L785.5 1171.8ZM866 1174.1L863.6 1171.8L851.6 1157.6L851.6 1157.6L849.9 1143.5L851.6 1136.5L854.5 1143.5L866 1157.6L866 1157.6L868.4 1171.8ZM549.8 1162.9L542.6 1157.6L549.8 1151.6L557 1157.6ZM592.9 1158.8L591.5 1157.6L592.9 1155.3L594.7 1157.6ZM621.6 1157.6L621.6 1157.6L620.1 1143.5L621.6 1141.2L624.5 1143.5L621.6 1157.6ZM894.8 1157.6L894.8 1157.6L894.8 1157.6L894.8 1157.6ZM1076.9 1157.6L1081.7 1171.8L1086.4 1157.6L1081.7 1154.8ZM650.4 1143.5L650.4 1143.5L650.4 1143.5L650.4 1143.5ZM693.5 1143.5L693.5 1143.5L693.5 1143.5L693.5 1143.5ZM794.1 1143.5L794.1 1143.5L794.1 1143.5L794.1 1143.5ZM822.9 1143.5L822.9 1143.5L822.9 1143.5L822.9 1143.5ZM880.4 1146.4L877.5 1143.5L880.4 1140.7L887.6 1143.5ZM923.5 1143.5L937.9 1147.1L945.1 1143.5L937.9 1140.7ZM1003.6 1143.5L1009.8 1149.6L1024.2 1143.5L1009.8 1135.1ZM736.6 1131.2L733.8 1129.4L736.6 1127.1L738.7 1129.4ZM779.8 1136.5L772.6 1129.4L779.8 1125.9L782.2 1129.4ZM650.4 1120L648 1115.3L636 1101.2L636 1101.2L636 1101.2L650.4 1094.2L657.6 1101.2L652.5 1115.3ZM679.2 1120L677.1 1115.3L679.1 1108.3L682 1115.3ZM822.9 1117.7L818.1 1115.3L822.9 1110.6L826.5 1115.3ZM473.1 1101.2L477.9 1105.9L482.7 1101.2L477.9 1094.2ZM751 1105.9L746.2 1101.2L743.8 1087.1L751 1079.1L758.2 1087.1L756.8 1101.2ZM871.8 1101.2L880.4 1109.7L887.6 1101.2L880.4 1094.2ZM815.7 1073L822.9 1075.8L837.3 1087.1L843 1073L837.3 1058.9L822.9 1068.3ZM557 1058.9L564.1 1068.3L569.9 1058.9L564.1 1051.9ZM862.4 1058.9L866 1061.7L880.4 1058.9L868.9 1044.8L866 1042L851.6 1044.8ZM947.5 1058.9L952.3 1063.6L955.1 1058.9L952.3 1056.6ZM991.8 1058.9L995.4 1062.4L997.8 1058.9L995.4 1055.4ZM533 1044.8L535.4 1047.6L542.6 1044.8L535.4 1042ZM801.3 1044.8L808.5 1047.2L813.3 1044.8L808.5 1037.8ZM643.2 1030.7L650.4 1035.4L655.2 1030.7L650.4 1026ZM891.2 1016.6L894.8 1019.4L897.2 1016.6L894.8 1014.3ZM775 1002.5L779.8 1007.2L784.6 1002.5L779.8 995.4ZM794.1 988.4L808.5 995.4L813.3 988.4L808.5 974.3ZM949.4 988.4L952.3 993.1L955.9 988.4L952.3 986ZM906.8 960.2L909.1 963L912 960.2L909.1 953.1Z"/>
<path stroke="#393939" d="M805.6 1834.7L808.5 1836.7L810.1 1834.7L808.5 1833.1ZM574.9 1806.5L578.5 1809.3L580.1 1806.5L578.5 1799.4ZM700.7 1806.5L707.9 1811.2L712 1806.5L707.9 1800.8ZM533 1792.4L535.4 1794.7L539 1792.4L535.4 1785.3ZM629.9 1778.3L636 1788.8L643.2 1778.3L650.4 1771.2L664.8 1773.1L677.4 1764.2L679.1 1750.1L679.1 1750.1L679.1 1750.1L686.3 1764.2L693.5 1766.5L698.3 1764.2L697.1 1750.1L707.9 1735.9L705.5 1721.8L707.9 1719.5L715.1 1721.8L707.9 1735.9L720.2 1750.1L717.5 1764.2L722.3 1765.7L736.6 1774.7L745.3 1764.2L736.6 1750.1L736.6 1750.1L736.6 1750.1L751 1743L765.4 1738.8L767.8 1735.9L779.8 1724.2L784.6 1721.8L794.2 1719L798.3 1721.8L803.7 1735.9L794.1 1743L779.8 1747.7L776.9 1750.1L779.8 1764.2L794.1 1755.7L802.8 1764.2L808.5 1768.2L814.3 1764.2L822.9 1758.9L831.9 1750.1L822.9 1738.3L815.7 1735.9L818.8 1721.8L822.9 1707.7L808.5 1699.3L805.3 1693.6L808.5 1686.6L822.9 1693.6L822.9 1693.6L822.9 1707.7L828.6 1721.8L837.3 1728.9L843.4 1721.8L851.6 1710.6L854.5 1707.7L851.6 1693.6L851.6 1693.6L851.6 1693.6L851.6 1693.6L866 1699.7L874.2 1707.7L880.4 1716.2L894.8 1711.3L909.1 1712.4L923.5 1707.7L918.1 1693.6L909.1 1681.9L904.4 1679.5L907.4 1665.4L909.1 1663.7L923.5 1651.3L923.5 1651.3L937.9 1651.3L937.9 1651.3L952.3 1658.4L966.7 1660.7L973.8 1665.4L981 1667.8L988.2 1665.4L995.4 1664.1L1007.4 1651.3L998.3 1637.2L995.4 1623.1L981 1637.2L981 1637.2L966.6 1647.3L956.4 1637.2L966.6 1625.5L973.8 1623.1L966.6 1619.6L952.3 1617.1L945.1 1623.1L937.9 1631.6L927.1 1623.1L923.5 1616.1L919.9 1609L923.5 1606.7L937.9 1609L950.5 1594.9L952.3 1587.8L955.2 1594.9L966.6 1603L975.3 1609L981 1618.4L995.4 1623.1L1005 1609L1009.8 1600.5L1024.2 1609L1038.5 1594.9L1038.5 1594.9L1052.9 1589.5L1067.3 1580.8L1052.9 1570.5L1038.5 1572.3L1029.9 1580.8L1024.2 1587.8L1017 1580.8L1009.8 1571.4L995.4 1566.7L983.4 1580.8L981 1583.1L966.7 1585.5L957.1 1580.8L966.7 1575.2L977.4 1566.7L977.4 1552.6L981 1548.4L988.2 1552.6L995.4 1566.7L1009.8 1559.6L1012.7 1552.6L1009.8 1538.5L995.4 1544.1L992.2 1538.5L990.2 1524.4L983.1 1510.3L995.4 1500.9L1004 1496.2L999 1482.1L1000.2 1468L1008 1453.9L1006.2 1439.7L1009.8 1437.7L1022.1 1425.6L1012.2 1411.5L1009.8 1397.4L995.4 1400.3L993.8 1397.4L995.4 1393.9L1009.8 1397.4L1009.8 1397.4L1024.2 1403.7L1034.4 1411.5L1028.9 1425.6L1028.9 1439.7L1029.5 1453.9L1038.5 1465.6L1052.9 1457.4L1055.8 1453.9L1067.3 1445.8L1072.1 1439.7L1067.3 1425.6L1067.3 1425.6L1057.7 1411.5L1055 1397.4L1052.9 1393.9L1038.5 1397.4L1038.5 1397.4L1038.5 1397.4L1035.7 1383.3L1038.5 1380.5L1046.7 1369.2L1038.5 1361.2L1024.2 1355.1L1009.8 1362.2L1008 1355.1L1009.8 1348.1L1024.2 1355.1L1028.9 1341L1024.2 1338.2L1009.8 1339L1005 1341L995.4 1344.1L991.3 1341L995.4 1337L1001.9 1326.9L995.4 1312.8L981 1318.4L978.2 1312.8L981 1308.8L991.3 1298.7L995.4 1284.6L987.2 1270.5L981 1259.9L978.6 1256.4L971.4 1242.3L966.6 1238.8L959.5 1242.3L952.3 1244L937.9 1242.3L937.9 1242.3L923.5 1239.9L909.1 1228.2L894.8 1238.8L890 1242.3L894.8 1245.8L900.9 1256.4L894.8 1260.6L884 1256.4L880.4 1251.7L873.2 1242.3L866 1228.2L866 1228.2L858.8 1214.1L851.6 1200L837.3 1200L827.7 1214.1L822.9 1221.1L808.5 1221.1L806.7 1228.2L794.1 1242.3L794.1 1242.3L794.1 1242.3L779.8 1228.2L765.4 1231.7L763.6 1228.2L765.4 1223.5L772.6 1214.1L765.4 1209.4L755.8 1200L751 1192.9L743.8 1185.9L736.6 1181.8L730.9 1185.9L722.3 1189.1L713.6 1185.9L722.3 1180.6L729.5 1171.8L728.4 1157.6L722.3 1150.6L715.1 1157.6L712 1171.8L707.9 1178.8L704.7 1171.8L693.5 1159.4L679.2 1162.4L669.6 1171.8L664.8 1178.8L661.9 1171.8L664.8 1157.6L650.4 1155.3L646.8 1157.6L636 1168.2L621.6 1163.1L611.4 1157.6L612.1 1143.5L607.3 1133L592.9 1143.5L603.7 1157.6L592.9 1164.7L584.3 1157.6L578.5 1148.2L568.9 1157.6L564.1 1164.7L549.8 1171.8L549.8 1171.8L535.4 1177.4L529.2 1185.9L535.4 1194.3L549.8 1195.3L557 1185.9L564.1 1178.8L578.5 1185.9L592.9 1181.2L596.5 1185.9L595.3 1200L592.9 1207L578.5 1200L564.1 1205.3L549.8 1201.5L535.4 1214.1L535.4 1214.1L535.4 1214.1L521 1208L513.8 1200L506.6 1185.9L506.6 1185.9L492.3 1178.8L489.9 1185.9L492.3 1195.3L495.1 1200L492.3 1207L489.9 1214.1L482.7 1228.2L477.9 1232.9L463.5 1242.3L463.5 1242.3L453.9 1256.4L463.5 1265.8L470.7 1270.5L477.9 1274L492.3 1270.5L492.3 1270.5L492.3 1270.5L498 1284.6L492.3 1289.3L477.9 1289.3L467.1 1284.6L463.5 1277.5L459.9 1284.6L449.1 1291.6L443.8 1284.6L434.8 1274.5L420.4 1281.8L418.3 1284.6L420.4 1286.6L432.7 1298.7L430 1312.8L434.8 1316.3L449.1 1312.8L449.1 1312.8L449.1 1312.8L453.5 1326.9L449.1 1334L434.8 1331.1L420.4 1326.9L406 1337.5L404 1341L406 1342.8L420.4 1346.3L432.4 1355.1L420.4 1369.2L434.8 1379.3L438 1383.3L434.8 1386.5L420.4 1389L406 1394.6L403.1 1397.4L406 1411.5L406 1411.5L420.4 1416.2L422.8 1425.6L420.4 1429.7L414.9 1439.7L420.4 1451.5L434.8 1439.7L434.8 1439.7L434.8 1439.7L440.2 1453.9L434.8 1468L434.8 1468L420.4 1477.4L406 1482.1L413.2 1496.2L413.2 1510.3L420.4 1517.3L434.8 1518.1L439.2 1524.4L440.9 1538.5L434.8 1549.1L420.4 1547.9L415.6 1552.6L420.4 1562L427.6 1566.7L420.4 1580.8L428.4 1594.9L424 1609L434.8 1615L446.3 1623.1L449.1 1630.2L456.3 1623.1L463.5 1621.7L470.7 1623.1L463.5 1630.2L456.3 1637.2L463.5 1644.3L468.3 1651.3L463.5 1656L456.3 1651.3L449.1 1644.3L442 1651.3L444 1665.4L449.1 1673.3L458.7 1679.5L463.5 1688.9L468.3 1679.5L477.9 1671.5L481.8 1665.4L492.3 1651.3L492.3 1651.3L492.3 1651.3L501.9 1665.4L492.3 1676.7L487.5 1679.5L492.3 1688.9L495.9 1693.6L501.9 1707.7L506.6 1712.4L517.4 1707.7L515.3 1693.6L521 1684.2L523.9 1693.6L535.4 1704.9L545 1707.7L549.8 1712.4L564.1 1717.5L578.5 1713.4L592.9 1707.7L592.9 1707.7L607.3 1707.7L607.3 1707.7L607.3 1707.7L592.9 1707.7L589.3 1721.8L585.7 1735.9L578.5 1743L564.1 1750.1L573.7 1764.2L578.5 1770.2L589.3 1764.2L592.9 1760.6L603.7 1750.1L597 1735.9L607.3 1729.5L616.3 1735.9L609.1 1750.1L621.6 1761L636 1750.1L636 1750.1L636 1750.1L636 1764.2L636 1764.2ZM791.8 1778.3L794.1 1781.1L796.5 1778.3L794.1 1774.7ZM763.3 1764.2L765.4 1765.9L779.8 1764.2L765.4 1761.3ZM845.9 1764.2L851.6 1768.2L855.2 1764.2L851.6 1750.1ZM471.7 1750.1L477.9 1754.3L485.1 1750.1L477.9 1744ZM539 1750.1L549.8 1758.5L564.1 1750.1L558.4 1735.9L549.8 1727.5L535.4 1731.2L531.3 1735.9L535.4 1745.3ZM851.6 1750.1L866 1752.1L867.6 1750.1L866 1743ZM1004.5 1750.1L1009.8 1754.4L1015.5 1750.1L1009.8 1743.8ZM418.8 1721.8L420.4 1723.6L423.3 1721.8L420.4 1719.5ZM636 1721.8L636 1721.8L636 1721.8L636 1721.8ZM751 1725.4L746.2 1721.8L751 1720.1L755.8 1721.8ZM861.2 1721.8L866 1731.2L873.2 1721.8L866 1717.1ZM722.3 1707.7L722.3 1707.7L722.3 1707.7L722.3 1707.7ZM765.4 1707.7L765.4 1707.7L765.4 1707.7L765.4 1707.7ZM923.5 1707.7L937.9 1716.2L952.3 1714.8L958 1707.7L952.3 1700.7L937.9 1703ZM779.8 1693.6L779.8 1693.6L779.8 1693.6L779.8 1693.6ZM979 1693.6L981 1697.2L984.6 1693.6L981 1691.3ZM1006.2 1693.6L1009.8 1697.2L1012.2 1693.6L1009.8 1690.8ZM432.2 1679.5L434.8 1683.6L439.6 1679.5L434.8 1677ZM679.2 1684.2L676.8 1679.5L679.1 1675.5L683.9 1679.5ZM794.1 1679.5L794.1 1679.5L794.1 1679.5L794.1 1679.5ZM880.4 1681.9L878 1679.5L880.4 1677.2L885.2 1679.5ZM940.8 1679.5L952.3 1688.9L961.9 1679.5L952.3 1668.2ZM521 1665.4L521 1665.4L521 1665.4L535.4 1663.1L549.8 1665.4L564.1 1665.4L564.1 1665.4L564.1 1665.4L549.8 1665.4L535.4 1670.1ZM693.5 1668.2L691.1 1665.4L693.5 1664.2L695 1665.4ZM779.8 1667L778.3 1665.4L779.8 1664L783.4 1665.4ZM736.6 1652.3L734.6 1651.3L736.6 1650.2L743.8 1651.3ZM837.3 1651.3L837.3 1651.3L837.3 1651.3L837.3 1651.3ZM880.4 1653.7L878.3 1651.3L880.4 1650L894.8 1647.3L898 1651.3L894.8 1654.5ZM399.6 1637.2L406 1645.3L414.2 1637.2L406 1631.6ZM418.3 1623.1L420.4 1626.6L423.3 1623.1L420.4 1616.1ZM894.8 1625.5L892.7 1623.1L894.8 1620.8L897.2 1623.1ZM1107.5 1609L1110.4 1613.7L1112.2 1609L1110.4 1605.5ZM449.1 1594.9L449.1 1594.9L449.1 1594.9L449.1 1594.9ZM506.7 1596.3L505.2 1594.9L506.6 1592.5L509.5 1594.9ZM880.4 1596.9L878.8 1594.9L880.4 1592.5L882.5 1594.9ZM449.1 1566.7L449.1 1566.7L449.1 1566.7L463.5 1565.1L464.7 1566.7L463.5 1570.2ZM1017 1566.7L1024.2 1571.4L1028.9 1566.7L1024.2 1563.9ZM1033.7 1552.6L1038.5 1559.6L1044.3 1552.6L1038.5 1543.2ZM449.1 1498.5L447.4 1496.2L449.2 1494.1L450.9 1496.2ZM1013.9 1496.2L1024.2 1505L1038.5 1496.2L1031.3 1482.1L1024.2 1476.4L1018.4 1482.1ZM981 1482.1L981 1482.1L981 1482.1L981 1482.1ZM1061.5 1482.1L1067.3 1487.7L1076.9 1482.1L1067.3 1468ZM966.6 1456.2L964.6 1453.9L966.7 1451L968.4 1453.9ZM449.1 1425.6L449.1 1425.6L449.1 1425.6L449.1 1425.6ZM463.5 1399.4L460.6 1397.4L463.5 1396.1L465.1 1397.4ZM1078.8 1383.3L1081.7 1386.9L1083.4 1383.3L1081.7 1378.6ZM401.9 1369.2L406 1373.9L420.4 1369.2L406 1366.1ZM923.5 1370.2L922.2 1369.2L923.5 1366.9L928.3 1369.2ZM1063.7 1369.2L1067.3 1372L1072.1 1369.2L1071.4 1355.1L1067.3 1341L1067.3 1341L1067.3 1341L1072.7 1326.9L1070.2 1312.8L1067.3 1305.7L1060.1 1312.8L1058.7 1326.9L1052.9 1330.9L1042.6 1341L1052.9 1349.8L1061.5 1355.1ZM1088.8 1369.2L1096 1372.4L1110.4 1374.9L1114.5 1369.2L1110.4 1365.2L1100.1 1355.1L1096 1348.1L1091.9 1355.1ZM463.5 1345.4L455.3 1341L463.5 1335.9L477.9 1330.4L482.7 1341L477.9 1345.7ZM909.1 1341L909.1 1341L909.1 1341L909.1 1341ZM937.9 1331.6L933.5 1326.9L937.9 1312.8L937.9 1312.8L937.9 1312.8L943.7 1326.9ZM386.9 1312.8L391.6 1318.4L395.2 1312.8L391.6 1308.1ZM880.4 1303.4L876.3 1298.7L880.4 1293.6L885.2 1298.7ZM952.3 1298.7L952.3 1298.7L952.3 1298.7L957.1 1284.6L952.3 1270.5L937.9 1270.5L937.9 1270.5L937.9 1270.5L952.3 1270.5L966.7 1264.2L974.9 1270.5L977.4 1284.6L970.8 1298.7L966.7 1301.5ZM1012.2 1298.7L1024.2 1312.8L1038.5 1298.7L1024.2 1288.6L1017 1284.6L1009.8 1279.9L995.4 1284.6L1009.8 1294ZM923.5 1291.6L919.9 1284.6L923.5 1279.3L928.3 1284.6ZM866 1270.5L866 1270.5L866 1270.5L880.4 1261.1L883.6 1270.5L880.4 1273.6ZM521 1256.4L521 1256.4L521 1256.4L535.4 1256.4L535.4 1256.4L535.4 1256.4ZM722.3 1258.7L713.6 1256.4L722.3 1242.3L722.3 1242.3L722.3 1242.3L727.7 1256.4ZM923.5 1256.4L923.5 1256.4L923.5 1256.4L923.5 1256.4ZM1027.7 1256.4L1038.5 1268.5L1045.7 1256.4L1038.5 1242.3ZM492.3 1245.1L487.5 1242.3L492.3 1237.6L506.6 1242.3L506.6 1242.3L506.6 1242.3ZM664.8 1243.6L663 1242.3L664.8 1228.2L650.4 1224.6L645.6 1214.1L648.6 1200L650.4 1195.3L664.8 1200L679.1 1200L679.1 1200L693.5 1214.1L693.5 1214.1L693.5 1214.1L679.1 1215.5L664.8 1228.2L669.6 1242.3ZM837.3 1242.3L837.3 1242.3L837.3 1242.3L837.3 1242.3ZM988.2 1242.3L995.4 1249.3L1001.2 1242.3L995.4 1236.6ZM578.5 1231L577.3 1228.2L578.5 1226.9L580.9 1228.2ZM506.7 1218.8L497.1 1214.1L506.7 1209.4L512.4 1214.1ZM736.6 1217.6L733.8 1214.1L736.6 1210.5L737.8 1214.1ZM906.3 1214.1L909.1 1228.2L923.5 1218.1L937.9 1214.1L923.5 1204.7L909.1 1209.4ZM707.9 1202L703.1 1200L707.9 1195.3L709.2 1200ZM779.8 1200L794.1 1214.1L808.5 1211.2L820 1200L808.5 1188.7L794.1 1197.6ZM621.6 1185.9L621.6 1185.9L621.6 1185.9L621.6 1185.9ZM693.5 1185.9L693.5 1185.9L693.5 1185.9L693.5 1185.9ZM772.6 1185.9L779.8 1200L782.2 1185.9L779.8 1184.4ZM607.3 1173.2L605.2 1171.8L607.3 1167.1L608.9 1171.8ZM746.9 1171.8L751 1178.8L765.4 1178.8L766.8 1171.8L767.8 1157.6L765.4 1152.9L758.2 1157.6L751 1162.4ZM792.7 1171.8L794.1 1174.1L797 1171.8L800.3 1157.6L794.1 1152.4L788.8 1157.6ZM533.6 1143.5L535.4 1148.2L542.6 1143.5L535.4 1140.7ZM659.4 1143.5L664.8 1157.6L675.6 1143.5L664.8 1133ZM730.9 1143.5L736.6 1148.2L746.2 1143.5L736.6 1140ZM833.2 1143.5L837.3 1150.6L840.9 1143.5L837.3 1138.8ZM749 1129.4L751 1136.5L753.9 1129.4L751 1122.4ZM519 1115.3L521 1120L523.1 1115.3L521 1113.3ZM662.7 1115.3L664.8 1122.4L666.8 1115.3L664.8 1112.5Z"/>
<path stroke="#555555" d="M657.6 1764.2L664.8 1766.7L668.4 1764.2L664.8 1754.8L661.2 1750.1L655.2 1735.9L650.4 1728.9L643.2 1735.9L645 1750.1L650.4 1758.5ZM729.5 1764.2L736.6 1768.9L740.5 1764.2L736.6 1757.9ZM618.1 1750.1L621.6 1753.2L625.8 1750.1L621.6 1743ZM719.9 1735.9L722.3 1738.8L725.9 1735.9L722.3 1733.1ZM604.4 1721.8L607.3 1723.1L621.6 1721.8L607.3 1719.5ZM657.6 1721.8L664.8 1726.5L672 1721.8L679.1 1716.2L693.5 1721.8L707.9 1707.7L707.9 1707.7L722.3 1696L736.6 1707.7L736.6 1707.7L751 1711.3L755.1 1707.7L751 1693.6L751 1693.6L751 1693.6L751 1693.6L765.4 1696L767.8 1693.6L779.8 1684.8L785.2 1679.5L779.8 1674.8L771.1 1665.4L779.8 1657L789.4 1651.3L779.8 1644.3L770.2 1637.2L779.8 1630.2L791.3 1637.2L794.1 1641.9L801.3 1651.3L808.5 1660.7L822.9 1663.4L830.7 1651.3L837.3 1639.6L840.9 1637.2L851.6 1626.6L866 1635.2L868.4 1637.2L880.4 1643.6L894.8 1637.2L882.5 1623.1L894.8 1609L880.4 1607L875.6 1609L866 1612.5L861.2 1609L866 1603.4L870.8 1594.9L880.4 1580.8L880.4 1580.8L892.4 1566.7L880.4 1558.9L870.8 1552.6L880.4 1546.3L894.8 1538.5L894.8 1538.5L909.1 1538.5L909.1 1538.5L909.1 1538.5L894.8 1552.6L897.7 1566.7L898.9 1580.8L894.8 1590.2L892.7 1594.9L894.8 1609L902 1594.9L909.1 1592.5L921.1 1580.8L917.4 1566.7L923.5 1562.5L936.1 1552.6L929.3 1538.5L923.5 1529.1L916.3 1524.4L920.3 1510.3L923.5 1504.6L925.4 1510.3L930.7 1524.4L937.9 1527.9L942.2 1538.5L942.7 1552.6L952.3 1557.3L966.7 1562L971.4 1552.6L966.6 1545.5L961.4 1538.5L966.6 1530.4L976.2 1538.5L981 1541.3L984.2 1538.5L983.6 1524.4L981 1519.7L966.6 1513.8L952.3 1510.3L952.3 1510.3L952.3 1510.3L966.7 1507.4L981 1499L985.8 1496.2L981 1493.8L966.7 1484.9L965.1 1482.1L966.6 1468L954.3 1453.9L963.8 1439.7L952.3 1425.6L952.3 1425.6L952.3 1425.6L966.6 1422.1L973.8 1425.6L981 1430.3L995.4 1434.1L1009.8 1427.7L1011.8 1425.6L1009.8 1422.8L995.4 1415.1L981 1411.5L981 1411.5L981 1411.5L985.8 1397.4L981 1391.4L976.2 1383.3L981 1377.1L995.4 1373.9L998.3 1369.2L999 1355.1L995.4 1352L981 1341L966.7 1345.7L955.9 1355.1L952.3 1360.8L945.1 1369.2L937.9 1379.8L923.5 1374.9L915.7 1369.2L923.5 1355.1L923.5 1355.1L937.9 1347.1L952.3 1341L937.9 1337.5L927.9 1326.9L925.9 1312.8L923.5 1308.1L917.8 1298.7L913.9 1284.6L909.1 1277.5L899.6 1284.6L894.8 1290.2L891.2 1298.7L880.4 1309.3L871.8 1312.8L868.4 1326.9L866 1330.4L864 1326.9L851.7 1317.5L840.9 1312.8L851.7 1308.1L866 1308.8L871.2 1298.7L880.4 1287.2L887.6 1284.6L880.4 1281.5L866 1280.6L851.6 1276.8L842.1 1270.5L837.3 1263.4L834.4 1256.4L822.9 1243.8L818.1 1242.3L808.5 1237.6L804.4 1242.3L808.5 1249.3L811.4 1256.4L808.5 1260.4L794.1 1258.7L788.8 1256.4L788.2 1242.3L779.8 1234.1L768.6 1242.3L765.4 1246.3L755.8 1242.3L754.6 1228.2L760.6 1214.1L751 1204.7L743.8 1214.1L743.8 1228.2L748.1 1242.3L736.6 1256.4L742.4 1270.5L736.6 1274L734.3 1270.5L722.3 1262.7L707.9 1260.2L693.5 1262L683.9 1256.4L679.1 1252.9L664.8 1250L654 1242.3L650.4 1237.6L642.2 1228.2L637.6 1214.1L639.6 1200L636 1185.9L626.4 1200L621.6 1207L607.3 1200L602.5 1214.1L607.3 1219.7L618.1 1228.2L621.6 1235.2L624.5 1242.3L621.6 1249.3L618.1 1242.3L607.3 1235.2L592.9 1228.2L582.1 1242.3L578.5 1243.6L564.1 1247L561.8 1242.3L564.1 1238.8L571.3 1228.2L578.5 1220.5L586.5 1214.1L578.5 1207L564.1 1214.1L564.1 1214.1L564.1 1214.1L549.8 1209.4L544.4 1214.1L542.6 1228.2L535.4 1235.2L521 1242.3L535.4 1244.6L549.8 1256.4L549.8 1256.4L564.1 1270.5L564.1 1270.5L564.1 1270.5L549.8 1270.5L535.4 1274.3L531.5 1270.5L521 1261.8L514.5 1256.4L506.6 1248.7L494.3 1256.4L506.6 1267L509.5 1270.5L516.2 1284.6L506.6 1290.2L495.9 1298.7L492.3 1300.3L485.1 1298.7L477.9 1297.1L474.3 1298.7L468.8 1312.8L463.5 1322.2L460.6 1326.9L463.5 1329.5L468.3 1326.9L477.9 1321.8L486.1 1326.9L490.7 1341L477.9 1353.5L463.5 1350.8L455.3 1355.1L463.5 1363.2L477.9 1357.9L492.3 1367.7L495.9 1369.2L492.3 1373.9L477.9 1383.3L477.9 1383.3L477.9 1383.3L463.5 1374.5L449.1 1377.7L446 1383.3L449.1 1392.7L463.5 1389.7L473.1 1397.4L463.5 1409.5L449.1 1411.5L463.5 1416.2L477.9 1422.8L479 1425.6L477.9 1427.7L463.5 1427.7L449.1 1439.7L463.5 1450.3L471.7 1453.9L463.5 1468L463.5 1468L449.1 1475L434.8 1479.7L431.9 1482.1L429 1496.2L434.8 1510.3L438.4 1496.2L449.1 1484.1L459.9 1496.2L463.5 1510.3L463.5 1510.3L463.5 1510.3L449.1 1510.3L444.7 1524.4L449.1 1535.7L463.5 1531.4L466.4 1524.4L477.9 1520L486.1 1524.4L492.3 1530.4L498.7 1538.5L492.3 1549.8L477.9 1542L463.5 1542L452.7 1552.6L463.5 1557.3L470.7 1566.7L477.9 1575.2L482.3 1580.8L482.7 1594.9L492.3 1602L498 1594.9L506.6 1580.8L506.6 1580.8L506.6 1580.8L521 1590.2L524.6 1594.9L521 1602L506.6 1603.4L499.5 1609L506.6 1617.1L510.6 1623.1L521 1637.2L535.4 1632.5L549.8 1637.2L564.1 1633.7L566.2 1637.2L564.1 1641.9L549.8 1637.2L535.4 1651.3L549.8 1653.7L564.1 1655.3L578.5 1665.4L578.5 1665.4L578.5 1665.4L571.3 1679.5L578.5 1682.3L592.9 1679.5L592.9 1679.5L607.3 1679.5L607.3 1679.5L621.6 1684.2L626.9 1693.6L621.6 1704.9L619.3 1707.7L621.6 1721.8L625.2 1707.7L636 1703.5L650.4 1700.7L657.6 1707.7ZM557 1707.7L564.1 1712.1L572.4 1707.7L564.1 1696.5ZM785.5 1707.7L794.1 1712L802.8 1707.7L797.3 1693.6L794.1 1689.6L790 1693.6ZM531.1 1693.6L535.4 1697.9L549.8 1693.6L549.8 1693.6L557 1679.5L549.8 1677.2L546.2 1679.5L535.4 1686.6ZM679.1 1697.2L675.6 1693.6L670.8 1679.5L679.1 1665.4L679.1 1665.4L693.5 1658.4L702.1 1665.4L707.9 1674.8L717.5 1679.5L707.9 1682.3L697.4 1693.6L693.5 1698.3ZM834.9 1693.6L837.3 1697.2L839.7 1693.6L837.3 1690.8ZM736.6 1683.1L729.5 1679.5L736.6 1678L739.5 1679.5ZM621.6 1670.1L618.8 1665.4L621.6 1660.7L623.7 1665.4ZM722.3 1672.5L719.4 1665.4L722.3 1658.4L723.9 1665.4ZM751 1671.5L747.1 1665.4L736.6 1657.4L724.3 1651.3L736.6 1644.8L751 1644.3L760.6 1651.3L757.2 1665.4ZM880.4 1665.4L894.8 1671.1L898.4 1665.4L894.8 1662.3ZM513.8 1651.3L521 1656.6L535.4 1651.3L521 1637.2ZM607.3 1658.4L603.2 1651.3L607.3 1643.3L616.9 1651.3ZM636 1653.3L631.2 1651.3L636 1649.6L638.1 1651.3ZM707.9 1651.3L707.9 1651.3L707.9 1651.3L707.9 1651.3ZM843.8 1651.3L851.6 1663.4L866 1654.1L868.1 1651.3L866 1644.3L851.7 1641.9ZM906 1651.3L909.1 1654.8L913.3 1651.3L909.1 1646.6ZM983.4 1651.3L995.4 1657.7L1001.4 1651.3L995.4 1643.5ZM592.9 1637.2L592.9 1637.2L592.9 1637.2L592.9 1637.2ZM808.5 1637.2L808.5 1637.2L808.5 1637.2L822.9 1637.2L822.9 1637.2L822.9 1637.2ZM679.2 1625.1L675.6 1623.1L679.1 1621.7L682.7 1623.1ZM455.3 1609L463.5 1614.6L477.9 1613.7L482.7 1609L477.9 1602L463.5 1602ZM564.1 1616.1L555.5 1609L564.1 1602L578.5 1607.7L580.9 1609L578.5 1611.4ZM794.1 1617.1L789.7 1609L794.1 1600.9L799.4 1609ZM837.3 1609L837.3 1609L822.9 1597.7L821.1 1594.9L822.9 1592.5L837.3 1587.8L851.6 1588.9L858.8 1594.9L851.6 1600.9L837.3 1609ZM991.8 1609L995.4 1611.4L997 1609L995.4 1605.5ZM923.5 1594.9L937.9 1598.9L941.5 1594.9L937.9 1585.5ZM1044.3 1580.8L1052.9 1584L1058.3 1580.8L1052.9 1576.9ZM492.3 1568.1L490.2 1566.7L492.3 1559.6L499.5 1566.7ZM521 1566.7L521 1566.7L521 1566.7L521 1566.7ZM592.9 1566.7L592.9 1566.7L592.9 1566.7L592.9 1566.7ZM851.7 1569.5L849.3 1566.7L851.6 1565.5L858.8 1566.7ZM506.6 1552.6L506.6 1552.6L506.6 1552.6L506.6 1552.6ZM765.4 1552.6L765.4 1552.6L765.4 1552.6L765.4 1552.6ZM521 1539.4L518.6 1538.5L521 1524.4L521 1524.4L521 1524.4L522.5 1538.5ZM822.9 1540.8L818.1 1538.5L822.9 1536.7L824.3 1538.5ZM851.6 1540.6L849 1538.5L851.6 1532.8L857.4 1538.5ZM693.5 1525.1L692.7 1524.4L693.5 1523.7L694.6 1524.4ZM492.3 1513.8L490.8 1510.3L492.3 1505.6L493.4 1510.3ZM578.5 1510.3L578.5 1510.3L578.5 1510.3L578.5 1510.3ZM880.4 1513.8L876.5 1510.3L880.4 1504.2L894.8 1506.2L898 1510.3L894.8 1513.8ZM477.9 1492.6L472.5 1482.1L477.9 1471.5L488.7 1482.1ZM506.6 1468L506.6 1468L506.6 1468L506.6 1468ZM937.9 1468L937.9 1468L937.9 1468L937.9 1468ZM977.4 1453.9L981 1468L995.4 1458.6L999 1453.9L995.4 1446.8L981 1446.8ZM428.8 1425.6L434.8 1432.7L442 1425.6L449.1 1411.5L444.4 1397.4L434.8 1394.3L427.6 1397.4L430 1411.5ZM521 1426.4L518.1 1425.6L521 1424.9L521.8 1425.6ZM880.4 1427.7L879 1425.6L878 1411.5L880.4 1409.5L882.5 1411.5L881.4 1425.6ZM937.9 1415.1L935 1411.5L937.9 1405.9L940.1 1411.5ZM1017 1369.2L1024.2 1380.5L1035.7 1369.2L1024.2 1363ZM427.6 1341L434.8 1345.7L442 1341L434.8 1338.2ZM521 1341L521 1341L521 1341L521 1341ZM909.1 1348.8L902.6 1341L909.1 1334L916.3 1341ZM894.8 1330.4L890.7 1326.9L894.8 1323.8L898.9 1326.9ZM950.8 1326.9L952.3 1341L955.1 1326.9L966.6 1318.8L971 1312.8L966.7 1308.6L952.3 1307.5L946.9 1312.8ZM521 1314L518.1 1312.8L521 1298.7L521 1298.7L521 1298.7L523.4 1312.8ZM621.6 1300.9L619.7 1298.7L621.6 1294L622.7 1298.7ZM794.1 1298.7L794.1 1298.7L789.7 1284.6L794.1 1281.6L805.6 1284.6L794.1 1298.7ZM929.3 1298.7L937.9 1304L943.3 1298.7L942.7 1284.6L937.9 1282.2L936.3 1284.6ZM822.9 1284.6L822.9 1284.6L822.9 1284.6L837.3 1284.6L837.3 1284.6L837.3 1284.6ZM891.6 1270.5L894.8 1277.5L899.6 1270.5L894.8 1267.7ZM474.3 1256.4L477.9 1259.2L485.1 1256.4L477.9 1252.9ZM935.5 1256.4L937.9 1258.7L952.3 1260.4L966.6 1256.4L952.3 1252.9L937.9 1254ZM1036.7 1256.4L1038.5 1258.4L1039.7 1256.4L1038.5 1254ZM697.1 1242.3L707.9 1249.3L713.3 1242.3L722.3 1235.9L733.1 1228.2L722.3 1216.1L715.1 1214.1L707.9 1212.1L705.5 1214.1L693.5 1224.1L679.1 1222.5L672.8 1228.2L679.1 1236.2L693.5 1237.6ZM904.4 1242.3L909.1 1251.7L913.9 1242.3L909.1 1238.2ZM715.7 1200L722.3 1211.7L732.5 1200L722.3 1194.5ZM602.5 1185.9L607.3 1200L613.7 1185.9L607.3 1180.2ZM589.3 1171.8L592.9 1173.3L595 1171.8L592.9 1170.6ZM616.9 1171.8L621.6 1177L627.8 1171.8L621.6 1168.5ZM687.8 1171.8L693.5 1175.8L696.7 1171.8L693.5 1168.2Z"/>
<path stroke="#717171" d="M688.7 1707.7L693.5 1710.1L695.9 1707.7L693.5 1706.2ZM633.4 1693.6L636 1696.5L643.2 1693.6L640.8 1679.5L650.4 1665.4L636 1663.4L634 1665.4L632.4 1679.5ZM704 1693.6L707.9 1698.9L714.1 1693.6L707.9 1689.4ZM731.9 1665.4L736.6 1670.1L740.6 1665.4L736.6 1662.4ZM580.9 1651.3L592.9 1663.1L598 1651.3L592.9 1644.3ZM648.3 1651.3L650.4 1665.4L664.8 1663.9L676.3 1651.3L679.1 1641.9L688.7 1651.3L693.5 1652.5L695.9 1651.3L704 1637.2L707.9 1626.6L722.3 1631.6L731.9 1637.2L736.6 1639.4L746.2 1637.2L736.6 1631.6L731.9 1623.1L722.3 1612.5L712.7 1609L722.3 1605.5L736.6 1605L743 1609L751 1623.1L751 1623.1L765.4 1628.8L775 1623.1L779.8 1620.3L784.2 1609L779.8 1602L765.4 1599.6L755.8 1594.9L751 1580.8L751 1580.8L751 1566.7L751 1566.7L751 1566.7L765.4 1578.6L779.8 1579.2L794.1 1580.8L806.7 1566.7L808.5 1559.6L822.9 1552.6L808.5 1549.1L801.3 1552.6L794.1 1554.3L787 1552.6L792.4 1538.5L788 1524.4L794.2 1520.5L800.3 1524.4L808.5 1532.4L822.9 1527.9L831.5 1538.5L837.3 1547.9L840.9 1552.6L851.6 1559.6L861.2 1552.6L851.6 1546.1L842.5 1538.5L846.9 1524.4L851.6 1517.3L857.4 1524.4L866 1532.8L880.4 1538.5L894.8 1526.7L897.6 1524.4L894.8 1522.6L880.4 1519.7L869.9 1510.3L866 1501.8L862.4 1496.2L866 1492.1L880.4 1482.1L880.4 1482.1L880.4 1482.1L894.8 1496.2L894.8 1496.2L906 1510.3L909.1 1515L912.3 1510.3L913.9 1496.2L909.1 1491.5L902 1482.1L909.1 1478L923.5 1468L923.5 1468L926.4 1453.9L923.5 1451L918.7 1453.9L909.1 1457.9L906.8 1453.9L909.1 1444.4L912 1439.7L909.1 1435L906.5 1425.6L909.1 1422.5L918.7 1425.6L923.5 1428.5L929.3 1439.7L937.9 1448.2L950.2 1439.7L940.3 1425.6L937.9 1423.9L927.8 1411.5L923.5 1401L919.9 1397.4L923.5 1394.6L930.7 1383.3L923.5 1379.6L909.1 1369.2L909.1 1369.2L907.1 1355.1L896.1 1341L894.8 1339.2L880.4 1326.9L871.8 1341L880.4 1348.1L885.2 1355.1L880.4 1362.2L869.6 1369.2L880.4 1383.3L894.8 1377.3L900.9 1383.3L903 1397.4L894.8 1408.7L892.7 1411.5L886.2 1425.6L880.4 1437.7L876.8 1439.7L866 1443L855.2 1439.7L866 1433.7L871.8 1425.6L866 1411.5L866 1411.5L866 1411.5L880.4 1399.4L883.3 1397.4L880.4 1383.3L866 1383.3L866 1383.3L862.4 1369.2L866 1362.2L869.6 1355.1L866 1350.4L861.2 1341L853.7 1326.9L851.6 1325.3L837.3 1319.9L825.8 1312.8L835.5 1298.7L822.9 1288.3L808.5 1290.2L800.7 1298.7L803.7 1312.8L794.1 1318.4L779.8 1316.3L768.3 1326.9L765.4 1331.6L761.1 1326.9L761.3 1312.8L765.4 1305.7L779.8 1307.2L787.6 1298.7L784.2 1284.6L794.2 1277.9L808.5 1270.5L794.1 1262.7L781.1 1270.5L779.8 1273.3L765.4 1279L751 1279.9L736.6 1282.8L728.3 1270.5L722.3 1266.6L707.9 1266.6L699.3 1270.5L707.9 1284.6L707.9 1284.6L707.9 1284.6L693.5 1298.7L707.9 1312.8L707.9 1312.8L707.9 1312.8L693.5 1316.1L684.9 1312.8L693.5 1298.7L693.5 1284.6L679.1 1270.5L664.8 1276.8L656.6 1270.5L664.8 1256.4L650.4 1248.3L636 1256.4L636 1256.4L621.6 1262.7L607.3 1270.5L621.6 1282.2L626.4 1284.6L625.2 1298.7L621.6 1306.3L614.9 1298.7L607.3 1287.4L603.7 1284.6L592.9 1275.2L580.6 1284.6L582.1 1298.7L578.5 1302.2L576.7 1298.7L564.1 1286.4L562.1 1284.6L549.8 1276.9L535.4 1280.7L529.2 1284.6L529 1298.7L535.4 1312.8L535.4 1312.8L535.4 1312.8L521 1319.9L511.4 1326.9L521 1334.6L525.3 1341L521 1348.1L506.6 1355.1L509 1369.2L511.4 1383.3L506.6 1385.7L498.7 1397.4L492.3 1405.5L481.5 1411.5L484.5 1425.6L477.9 1437.7L463.5 1432.7L455.1 1439.7L463.5 1445.9L477.9 1444.4L492.3 1453.9L506.6 1452.3L508 1453.9L521 1466.7L524.6 1468L521 1471.5L510.2 1482.1L506.6 1485.6L499.5 1496.2L498.9 1510.3L506.6 1521.2L521 1515.6L527 1524.4L529.6 1538.5L521 1544.1L511.8 1552.6L521 1561.7L535.4 1552.6L535.4 1552.6L535.4 1552.6L549.8 1566.7L564.1 1562L573.7 1566.7L564.1 1571.4L557 1580.8L564.1 1590.2L568.3 1594.9L578.5 1601.3L592.9 1609L592.9 1609L607.3 1612.5L621.6 1617.5L624.8 1623.1L621.6 1628.8L613 1637.2L621.6 1644.3L636 1640.7ZM819.3 1651.3L822.9 1653.3L824.2 1651.3L822.9 1649ZM850.3 1651.3L851.6 1653.3L854.5 1651.3L851.6 1649.8ZM576.5 1637.2L578.5 1644.3L580.9 1637.2L578.5 1623.1ZM664.8 1641.1L661.5 1637.2L662.4 1623.1L664.8 1620.8L679.1 1614.6L693.5 1616.1L703.1 1623.1L693.5 1625.9L679.1 1635.2L675.6 1637.2ZM517.1 1623.1L521 1628.4L531.8 1623.1L521 1617.1ZM542.6 1623.1L549.8 1625.5L554.6 1623.1L549.8 1619.6ZM814.7 1623.1L822.9 1629.4L837.3 1629.2L843.4 1623.1L837.3 1617.8L822.9 1611.8L818.1 1609L812.1 1594.9L808.5 1589.3L801.3 1594.9L805.9 1609L808.5 1614.6ZM863.1 1623.1L866 1625.1L868.9 1623.1L866 1621.3ZM532.5 1609L535.4 1616.1L539 1609L535.4 1604.3ZM636 1613.2L628.8 1609L634 1594.9L627.8 1580.8L621.6 1573.7L616.3 1566.7L616.9 1552.6L621.6 1551.3L628.8 1552.6L630.3 1566.7L636 1571.4L642.4 1580.8L650.4 1594.9L650.4 1594.9L651.7 1609L650.4 1610.3ZM487.9 1580.8L492.3 1592.1L498.7 1580.8L492.3 1575.2ZM707.9 1590.2L702.1 1580.8L707.9 1576.5L717.5 1580.8ZM476.7 1566.7L477.9 1568.1L480 1566.7L477.9 1562ZM592.9 1574.5L580.9 1566.7L585.7 1552.6L592.9 1543.2L602.5 1552.6L600.1 1566.7ZM650.4 1566.7L650.4 1566.7L650.4 1566.7L650.4 1566.7ZM722.3 1573.7L719.7 1566.7L722.3 1565L729.5 1566.7ZM707.9 1556.9L701.5 1552.6L707.9 1545.5L710.9 1552.6ZM765.4 1557L758.2 1552.6L755.8 1538.5L765.4 1532.8L768.6 1538.5L777.4 1552.6ZM918.7 1552.6L923.5 1555.4L927.1 1552.6L923.5 1546.9ZM949.4 1538.5L952.3 1544.1L954.9 1538.5L957.1 1524.4L952.3 1522L949.4 1524.4ZM693.5 1528.8L688.7 1524.4L693.5 1520.1L700.2 1524.4ZM736.6 1525.9L735.9 1524.4L736.7 1521.6L741.4 1524.4ZM471.5 1510.3L477.9 1514.6L483.6 1510.3L477.9 1503.2ZM578.5 1519.1L569.5 1510.3L578.5 1504.4L582.1 1510.3ZM808.5 1510.3L808.5 1510.3L808.5 1510.3L808.5 1510.3ZM930.2 1510.3L937.9 1519.7L946.7 1510.3L949.4 1496.2L952.3 1492.6L957.1 1482.1L952.3 1476L937.9 1475.8L923.5 1482.1L928.3 1496.2ZM779.8 1500.9L770.2 1496.2L779.8 1491.8L786.2 1496.2ZM607.3 1484.4L606.5 1482.1L607.3 1481.1L609.3 1482.1ZM664.8 1484.4L661.2 1482.1L664.8 1478.5L679.1 1481.1L680.3 1482.1L679.1 1483.3ZM483.6 1468L492.3 1476.4L500.1 1468L492.3 1453.9ZM779.8 1470.5L772.6 1468L779.8 1466.3L782.2 1468ZM894.8 1476.4L886.2 1468L894.8 1464.7L900.2 1468ZM578.5 1453.9L578.5 1453.9L578.5 1453.9L592.9 1453.9L592.9 1453.9L592.9 1453.9ZM822.9 1453.9L822.9 1453.9L822.9 1453.9L822.9 1453.9ZM535.4 1445.4L531.8 1439.7L535.4 1436.4L543.6 1439.7ZM564.1 1440.7L560.6 1439.7L564.2 1438.7L567 1439.7ZM607.3 1442.6L605.4 1439.7L607.3 1432.7L609.9 1439.7ZM808.5 1442.3L806.3 1439.7L801.3 1425.6L808.5 1423.6L810.1 1425.6L818.1 1439.7ZM506.6 1427.2L504.9 1425.6L506.6 1423.3L521 1421.4L525.6 1425.6L521 1430.3ZM549.8 1411.5L549.8 1411.5L549.8 1411.5L549.8 1411.5ZM945.6 1411.5L952.3 1419.2L963.1 1411.5L952.3 1402.1ZM779.8 1385.8L771.1 1383.3L779.8 1379.1L794.1 1383.3L794.1 1383.3L794.1 1383.3ZM955.9 1383.3L966.6 1389.4L970.2 1383.3L966.7 1374.9ZM486.1 1355.1L492.3 1359.8L506.6 1355.1L492.3 1349.1ZM578.5 1355.1L578.5 1355.1L578.5 1355.1L578.5 1355.1ZM650.4 1355.1L650.4 1355.1L650.4 1355.1L650.4 1355.1ZM679.1 1355.1L679.1 1355.1L679.1 1355.1L679.1 1355.1ZM751 1356.3L748.2 1355.1L751 1341L751 1341L751 1341L752.8 1355.1ZM794.2 1357.9L792.6 1355.1L794.2 1352.3L798.9 1355.1ZM964.9 1355.1L966.6 1359.8L971.4 1355.1L966.6 1353.5ZM837.3 1342.8L835.8 1341L837.3 1338.2L840.2 1341ZM564.1 1326.9L564.1 1326.9L562.1 1312.8L564.1 1311L567.7 1312.8L564.1 1326.9ZM607.3 1328L606 1326.9L607.3 1326.1L609.1 1326.9ZM475.3 1312.8L477.9 1315.4L492.3 1321.3L503.1 1312.8L492.3 1308.1L477.9 1308.1ZM650.4 1322.2L647.2 1312.8L650.4 1307.2L654 1312.8ZM736.6 1312.8L736.6 1312.8L736.6 1312.8L736.6 1312.8ZM887.6 1312.8L894.8 1315.9L900.5 1312.8L894.8 1305.7ZM549.8 1300.7L546.9 1298.7L549.8 1296.7L551.6 1298.7ZM846.9 1298.7L851.6 1300.3L866 1298.7L851.6 1284.6ZM516.7 1270.5L521 1276.5L524.9 1270.5L521 1267.2ZM504.6 1256.4L506.6 1258.1L508 1256.4L506.6 1255.1ZM566.5 1256.4L578.5 1264.2L586.5 1256.4L578.5 1250ZM746.9 1256.4L751 1263.4L765.4 1256.4L751 1251.7ZM818.6 1256.4L822.9 1262.4L827.2 1256.4L822.9 1251.7ZM541.8 1242.3L549.8 1249.3L555.8 1242.3L549.8 1234.4ZM776.6 1242.3L779.8 1256.4L782.2 1242.3L779.8 1239.9ZM561.3 1228.2L564.1 1229.9L565.3 1228.2L564.1 1225.8ZM717.5 1228.2L722.3 1229.5L724.1 1228.2L722.3 1226.2ZM749.8 1214.1L751 1217.6L752.6 1214.1L751 1212.5Z"/>
<path stroke="#8e8e8e" d="M658.6 1651.3L664.8 1656L669.1 1651.3L664.8 1647.5ZM641.4 1637.2L650.4 1645L655.9 1637.2L656.4 1623.1L650.4 1616.7L636 1620.3L632.8 1623.1L636 1628.8ZM687.4 1637.2L693.5 1643.3L697.4 1637.2L693.5 1633ZM719.4 1623.1L722.3 1624.5L723.9 1623.1L722.3 1621.3ZM658.2 1609L664.8 1614.9L676.8 1609L679.2 1604.3L693.5 1602L700.7 1594.9L695 1580.8L707.9 1571L713.1 1566.7L707.9 1562.3L693.5 1552.6L679.2 1557.3L667.7 1566.7L670.9 1580.8L672 1594.9L664.8 1598.9ZM592.9 1594.9L607.3 1599.6L621.6 1599.6L623.7 1594.9L621.6 1590.2L616.9 1580.8L607.3 1566.7L595.8 1580.8ZM718.7 1594.9L722.3 1596.7L736.6 1599.9L744.6 1594.9L742 1580.8L736.6 1573.7L729.5 1580.8L722.3 1591.4ZM757.6 1566.7L765.4 1573.2L779.8 1571.4L794.1 1570.7L797.7 1566.7L794.1 1563.2L779.8 1560.6L765.4 1561.4ZM516.9 1552.6L521 1556.6L527.4 1552.6L521 1548.8ZM714.7 1552.6L722.3 1560.9L736.6 1552.6L736.6 1552.6L742.8 1538.5L736.6 1533.8L732.1 1524.4L735.1 1510.3L736.7 1507.4L740.2 1510.3L751 1517.3L757.2 1510.3L760 1496.2L763.6 1482.1L759.2 1468L765.4 1461.9L779.8 1462.1L788.2 1468L779.8 1476.9L768.3 1482.1L779.8 1486.4L794.1 1496.2L804.1 1482.1L808.5 1475L820 1468L814.9 1453.9L808.5 1448.7L800.8 1439.7L794.1 1431.3L789.7 1425.6L794.1 1418.6L808.5 1413.6L818.1 1425.6L822.9 1431.7L837.3 1432.7L851.6 1425.6L851.6 1425.6L857 1411.5L860.3 1397.4L851.6 1386.9L837.3 1389L827.7 1397.4L822.9 1401L808.5 1397.4L808.5 1397.4L808.5 1397.4L821.3 1383.3L822.9 1381.8L835.7 1369.2L837.3 1364.5L851.6 1363.6L857.8 1355.1L851.6 1344.5L837.3 1351.6L827.7 1355.1L822.9 1356.7L808.5 1361.2L797 1369.2L799.7 1383.3L794.2 1388L779.8 1390L765.4 1388.6L751 1397.4L751 1397.4L751 1397.4L749.2 1383.3L751 1381.3L763.3 1369.2L765.4 1364.5L770.2 1369.2L779.8 1372L789.4 1369.2L784.6 1355.1L789.4 1341L791 1326.9L779.8 1320.7L773.1 1326.9L765.4 1339.4L763 1341L761.8 1355.1L751 1362.2L740.2 1369.2L736.7 1372.4L722.3 1371.2L707.9 1372L693.5 1371.9L691 1369.2L693.5 1365.7L707.9 1358.6L722.3 1359.8L729.5 1355.1L736.7 1352.3L743 1341L751 1330.9L753.9 1326.9L756.2 1312.8L751 1298.7L743.8 1312.8L736.6 1319.2L724.7 1312.8L733.5 1298.7L722.3 1287.7L712.2 1298.7L719.9 1312.8L707.9 1317.8L693.5 1321.5L679.1 1326.9L679.1 1326.9L679.1 1326.9L668.4 1312.8L673.9 1298.7L664.8 1284.6L653.6 1298.7L663 1312.8L654.5 1326.9L652.8 1341L655.9 1355.1L650.4 1360.2L644.4 1355.1L640.8 1341L646 1326.9L639.2 1312.8L648.8 1298.7L636 1286.8L627.8 1298.7L621.6 1311.7L610.1 1298.7L607.3 1294.5L598.6 1298.7L596.7 1312.8L592.9 1319.1L578.5 1315L568.6 1326.9L564.1 1338.7L559.9 1326.9L551.8 1312.8L549.8 1310.8L547.4 1312.8L535.4 1321.6L521 1325.7L519.4 1326.9L521 1328.2L529.5 1341L535.4 1350L540.6 1355.1L542.6 1369.2L535.4 1376.3L533 1369.2L521 1355.1L515 1369.2L521 1378L531.8 1383.3L525.3 1397.4L521 1401L506.6 1411.5L521 1417.9L529.3 1425.6L535.4 1432.3L548.2 1425.6L535.4 1414.4L532.8 1411.5L535.4 1408.4L546.6 1397.4L549.8 1383.3L549.8 1383.3L549.8 1383.3L552.6 1397.4L556.3 1411.5L551.6 1425.6L564.1 1433.2L578.5 1438.5L580.1 1439.7L592.9 1448.4L600.6 1439.7L592.9 1425.6L592.9 1425.6L592.9 1425.6L607.3 1423.2L614.5 1425.6L616.4 1439.7L607.3 1449.6L601.9 1453.9L592.9 1458.3L578.5 1460.3L573.4 1453.9L564.1 1445.4L549.8 1446.8L535.4 1452.4L527.3 1439.7L521 1434.3L506.6 1435L495.9 1425.6L492.3 1418.6L490.1 1425.6L487.5 1439.7L492.3 1443.8L506.6 1444.4L514.5 1453.9L521 1460.3L535.4 1458.6L549.8 1458.6L555.5 1468L564.1 1480L566.2 1482.1L564.1 1484.9L549.8 1489.1L542.6 1482.1L535.4 1472.7L525.8 1482.1L535.4 1491.5L540.2 1496.2L542.6 1510.3L535.4 1515L533 1524.4L535.4 1533.8L549.8 1532.4L558 1524.4L554.6 1510.3L564.1 1505.6L578.5 1498.5L585.7 1510.3L592.9 1522L597 1524.4L607.3 1538.5L607.3 1538.5L621.6 1544.9L636 1546.9L644.6 1538.5L650.4 1524.4L650.4 1524.4L650.4 1524.4L664.8 1538.5L664.8 1538.5L679.1 1545.5L693.5 1552.6L706.3 1538.5L693.5 1532.5L684.7 1524.4L693.5 1516.6L703.5 1510.3L707.9 1507.6L712.7 1510.3L707.9 1519.7L705.7 1524.4L707.9 1533.8L722.3 1535.2L730.5 1538.5L722.3 1542.5ZM849.9 1552.6L851.6 1553.8L853.2 1552.6L851.6 1551.5ZM776.6 1538.5L779.8 1543.2L783.4 1538.5L779.8 1529.1ZM504.4 1510.3L506.6 1513.4L513.8 1510.3L506.6 1503.2ZM664.8 1515L661.2 1510.3L664.8 1507L679.1 1506.2L681.8 1510.3L679.1 1513.4ZM773.6 1510.3L779.8 1520.8L794.2 1514.1L799.5 1510.3L794.1 1496.2L779.8 1506.7ZM831.1 1510.3L837.3 1520.8L844.5 1510.3L837.3 1503.2ZM935 1510.3L937.9 1513.8L941.2 1510.3L937.9 1499.7ZM592.9 1496.2L592.9 1496.2L592.9 1496.2L602.5 1482.1L607.3 1476L619.6 1482.1L607.3 1496.2L607.3 1496.2ZM722.3 1497.7L721.5 1496.2L722.3 1494.8L725.2 1496.2ZM815.7 1496.2L822.9 1499L826.5 1496.2L822.9 1493.3ZM848.1 1496.2L851.6 1499.7L853.4 1496.2L851.6 1482.1ZM664.8 1488.3L655.2 1482.1L664.8 1472.7L679.1 1476.4L685.8 1482.1L679.1 1489.8ZM736.6 1488.1L733.1 1482.1L736.6 1475L741 1482.1ZM490.8 1468L492.3 1469.4L493.6 1468L492.3 1465.6ZM636 1475L633.6 1468L636 1466.7L638.1 1468ZM826.5 1468L837.3 1478.5L843.4 1468L844.5 1453.9L837.3 1445.8L830.9 1453.9ZM863.1 1468L866 1482.1L869.6 1468L880.4 1459.5L894.8 1459.3L900.8 1453.9L894.8 1442.1L880.4 1449.1L866 1448.4L858 1453.9ZM461.1 1439.7L463.5 1441.5L468.3 1439.7L463.5 1437.7ZM679.1 1439.7L679.1 1439.7L679.1 1439.7L679.1 1439.7ZM765.4 1444.4L759.6 1439.7L765.4 1434.1L767.6 1439.7ZM936.5 1439.7L937.9 1441.2L940 1439.7L937.9 1436.9ZM722.3 1428.5L718.7 1425.6L722.3 1411.5L722.3 1411.5L722.3 1411.5L727.1 1425.6ZM751 1432.7L742.4 1425.6L751 1417.2L758.2 1425.6ZM890.9 1425.6L894.8 1436.9L900 1425.6L894.8 1418.6ZM765.4 1415.1L760.6 1411.5L765.4 1409.2L779.8 1411.5L779.8 1411.5L779.8 1411.5ZM837.3 1418.6L833.7 1411.5L837.3 1406.8L844.5 1411.5ZM904.4 1411.5L909.1 1414.7L916.3 1411.5L909.1 1404.5ZM951.2 1411.5L952.3 1412.8L954.1 1411.5L952.3 1410ZM621.6 1400.3L618.1 1397.4L621.6 1394.3L626.4 1397.4ZM592.9 1383.3L592.9 1383.3L592.9 1383.3L592.9 1383.3ZM578.5 1363.9L569.5 1355.1L567 1341L578.5 1337.3L581.9 1341L590.5 1355.1ZM621.6 1355.1L621.6 1355.1L621.6 1355.1L621.6 1355.1ZM679.2 1358.8L673.6 1355.1L679.1 1345L684.3 1355.1ZM893.2 1355.1L894.8 1362.2L896.8 1355.1L894.8 1352.3ZM549.8 1341L549.8 1341L549.8 1341L549.8 1341ZM722.3 1348.1L720.7 1341L722.3 1334L725.2 1341ZM801.3 1341L808.5 1344.5L822.9 1352.3L828.6 1341L822.9 1329.7L820.5 1326.9L808.5 1319.1L798.3 1326.9ZM607.3 1333.4L599.4 1326.9L607.3 1321.9L618.1 1326.9ZM560.6 1298.7L564.1 1302.2L567.7 1298.7L564.1 1295.2ZM772.6 1298.7L779.8 1300.1L781.1 1298.7L779.8 1291.6ZM807.2 1298.7L808.5 1301.5L822.9 1308.5L831 1298.7L822.9 1292L808.5 1297.3ZM545 1284.6L549.8 1286.6L551.8 1284.6L549.8 1283.3ZM590.8 1284.6L592.9 1289.3L594.7 1284.6L592.9 1283ZM787.6 1270.5L794.1 1274.2L801.3 1270.5L794.2 1266.6Z"/>
<path stroke="#aaaaaa" d="M764.1 1566.7L765.4 1567.8L770.2 1566.7L765.4 1565.8ZM718.5 1552.6L722.3 1556.7L729.5 1552.6L722.3 1547.5ZM621.6 1538.5L636 1539.9L637.5 1538.5L643.9 1524.4L650.4 1516.5L655.2 1510.3L664.8 1501.6L679.1 1496.2L664.8 1492.2L650.4 1483.8L641.3 1496.2L642.2 1510.3L636 1515L621.6 1518.3L607.3 1524.4L621.6 1538.5ZM686.3 1538.5L693.5 1543.8L698.3 1538.5L693.5 1536.3ZM662.4 1524.4L664.8 1526.7L679.1 1530L680.7 1524.4L679.1 1521.2L664.8 1522.8ZM711.8 1524.4L722.3 1531L728.3 1524.4L727.1 1510.3L722.3 1505.6L718.7 1510.3ZM589.3 1510.3L592.9 1516.1L600.9 1510.3L592.9 1503.2ZM688.3 1510.3L693.5 1513.1L697.9 1510.3L707.9 1504.2L717.5 1496.2L722.3 1487.7L727.1 1482.1L722.3 1474L711.5 1468L722.3 1457.4L736.6 1463.3L751 1460.9L758.2 1453.9L751 1449.1L747.8 1439.7L736.6 1429.9L724.1 1439.7L722.3 1446.8L717.5 1439.7L707.9 1432.7L703.1 1425.6L702.1 1411.5L707.9 1407.2L722.3 1404.5L736.6 1404.5L742 1397.4L740.2 1383.3L736.7 1380.2L722.3 1376.3L707.9 1376.7L693.5 1376.3L686.8 1369.2L679.1 1362.5L668.1 1355.1L673.8 1341L672 1326.9L664.8 1319.1L659.6 1326.9L658.8 1341L661.5 1355.1L664.8 1365.7L666.2 1369.2L664.8 1371.6L661.9 1369.2L650.4 1365.2L638.4 1355.1L636 1350.4L631.9 1355.1L621.6 1369.2L621.6 1369.2L621.6 1369.2L612.7 1355.1L616.9 1341L607.3 1338.8L592.9 1326.9L592.9 1326.9L578.5 1320.4L573.1 1326.9L578.5 1332.5L586.1 1341L592.9 1350.4L601.1 1355.1L597.7 1369.2L597.7 1383.3L592.9 1388.8L578.5 1388L572.4 1383.3L575.3 1369.2L564.1 1358.3L557 1355.1L549.8 1351.1L547.2 1355.1L549.8 1359.8L555 1369.2L557.8 1383.3L559.8 1397.4L562.8 1411.5L560.6 1425.6L564.1 1427.8L578.5 1432.1L585.7 1425.6L584.7 1411.5L592.9 1406.8L597.3 1411.5L607.3 1419L621.6 1420L625.2 1425.6L624.5 1439.7L627 1453.9L636 1460.3L648.3 1468L650.4 1475L657.6 1468L663.6 1453.9L664.8 1449.1L668.9 1439.7L667.6 1425.6L679.1 1421.9L686.3 1425.6L688.1 1439.7L679.1 1451.5L672 1453.9L667.7 1468L679.1 1471.7L691.3 1482.1L693.5 1496.2L693.5 1496.2L693.5 1496.2ZM619.3 1496.2L621.6 1499L624.5 1496.2L621.6 1493.3ZM576.5 1482.1L578.5 1485.6L592.9 1490.3L598.5 1482.1L607.3 1471L621.6 1468L607.3 1459.5L592.9 1462.7L578.5 1466.7L568.3 1453.9L564.1 1450.1L555.9 1453.9L562.7 1468L564.1 1470ZM748.1 1482.1L751 1496.2L754.6 1482.1L751 1472.7ZM782.7 1482.1L794.1 1488.3L798.6 1482.1L794.1 1468ZM767.8 1453.9L779.8 1458L790 1453.9L794.1 1444.4L795.3 1439.7L794.1 1438.3L784.2 1425.6L779.8 1419.4L770.2 1425.6L773.1 1439.7ZM513.8 1439.7L521 1453.9L522.8 1439.7L521 1438.2ZM588.1 1439.7L592.9 1443L595.8 1439.7L592.9 1434.5ZM650.4 1442.8L644.2 1439.7L650.4 1431.3L659 1439.7ZM533.1 1425.6L535.4 1428.1L540.2 1425.6L535.4 1421.4ZM514.6 1411.5L521 1414.4L526.3 1411.5L521 1406.8ZM650.4 1416.2L647.5 1411.5L650.4 1409.2L664.8 1411.5L664.8 1411.5L664.8 1411.5ZM815.7 1411.5L822.9 1420.9L827.7 1411.5L822.9 1406.8ZM532.5 1397.4L535.4 1400.6L538.6 1397.4L535.4 1392.7ZM621.6 1407.3L609.1 1397.4L621.6 1386.5L628.8 1383.3L636 1373.9L639.6 1383.3L638.4 1397.4L636 1400.3ZM765.4 1397.4L779.8 1403.7L794.1 1409.2L801.3 1397.4L794.1 1392.7L779.8 1394.1ZM835.7 1397.4L837.3 1399L851.7 1402.1L853.1 1397.4L851.6 1395.7L837.3 1396ZM679.1 1386.9L676.8 1383.3L679.1 1381.9L680.7 1383.3ZM805.2 1383.3L808.5 1388.6L813.3 1383.3L808.5 1372.7ZM749.2 1369.2L751 1371.2L753.1 1369.2L751 1368ZM812.1 1369.2L822.9 1373.9L827.7 1369.2L822.9 1364.5ZM689.4 1355.1L693.5 1359.8L700.7 1355.1L707.9 1347.1L712.7 1341L715.1 1326.9L707.9 1322.9L693.5 1326.9L693.5 1326.9L689.9 1341ZM533.7 1341L535.4 1343.6L539.5 1341L549.8 1335.1L555.7 1326.9L549.8 1317.9L538.6 1326.9L535.4 1334ZM627.8 1326.9L636 1334L640.4 1326.9L636 1318.8ZM733.8 1326.9L736.6 1334L740.2 1326.9L736.6 1325.6ZM777.9 1326.9L779.8 1332.5L783 1326.9L779.8 1325.1ZM601.5 1312.8L607.3 1317.8L615.9 1312.8L607.3 1302.2ZM630.4 1298.7L636 1309.8L644.8 1298.7L636 1290.5ZM661.6 1298.7L664.8 1303.4L667.4 1298.7L664.8 1294.7ZM719.4 1298.7L722.3 1303.4L725.5 1298.7L722.3 1295.6ZM815.7 1298.7L822.9 1303L826.5 1298.7L822.9 1295.7Z"/>
<path stroke="#c6c6c6" d="M631.2 1524.4L636 1527.2L637.3 1524.4L636 1522.8ZM718.4 1524.4L722.3 1526.9L724.5 1524.4L722.3 1515.9ZM647.8 1496.2L650.4 1505.6L664.8 1496.2L650.4 1492.6ZM699.5 1496.2L707.9 1500.9L713.5 1496.2L707.9 1486.3ZM588.1 1482.1L592.9 1484.4L594.5 1482.1L597.7 1468L592.9 1467.1L590 1468ZM683.9 1468L693.5 1473.6L698.3 1468L707.9 1463.3L717.5 1453.9L707.9 1443.6L695.1 1453.9L693.5 1458.6ZM636 1453.9L650.4 1462.3L657.6 1453.9L650.4 1447.8ZM733.1 1439.7L736.6 1449.1L739.8 1439.7L736.6 1436.9ZM778.7 1439.7L779.8 1453.9L782.6 1439.7L779.8 1432.7ZM634.2 1425.6L636 1432.7L639.6 1425.6L636 1418.6ZM602.9 1411.5L607.3 1414.9L616.9 1411.5L607.3 1404.5ZM671.3 1411.5L679.1 1417.2L693.5 1418.6L695 1411.5L707.9 1401.8L722.3 1397.4L722.3 1397.4L728 1383.3L722.3 1381.3L707.9 1381.4L693.5 1380.7L688.7 1383.3L683.9 1397.4L679.1 1401ZM573.7 1397.4L578.5 1402.1L592.9 1401L599.1 1397.4L592.9 1394.2L578.5 1395.9ZM602.5 1383.3L607.3 1391.2L616.3 1383.3L607.3 1374.5ZM648.6 1383.3L650.4 1397.4L664.8 1383.3L650.4 1376.3ZM561.5 1369.2L564.1 1378.6L567.3 1369.2L564.1 1366.1ZM673.4 1369.2L679.1 1374.9L682.5 1369.2L679.1 1366.3ZM590.4 1341L592.9 1344.5L600.1 1341L592.9 1335.7ZM546.6 1326.9L549.8 1329.3L551.5 1326.9L549.8 1324.3ZM577.6 1326.9L578.5 1327.8L580.9 1326.9L578.5 1325.8ZM606.3 1312.8L607.3 1313.6L608.7 1312.8L607.3 1311ZM632.9 1298.7L636 1304.7L640.8 1298.7L636 1294.2Z"/>
<path stroke="#e3e3e3" d="M705.5 1496.2L707.9 1497.5L709.5 1496.2L707.9 1493.3ZM648 1453.9L650.4 1455.3L651.6 1453.9L650.4 1452.8ZM703.1 1453.9L707.9 1457.4L711.5 1453.9L707.9 1450ZM677.8 1411.5L679.1 1412.5L682 1411.5L679.1 1409.8ZM635.5 1298.7L636 1299.7L636.8 1298.7L636 1298Z"/>
</g>
<g shape-rendering="crispEdges">
<rect x="362.90" y="588.79" width="7.49" height="11.71" fill="#0b5657"/>
<rect x="370.09" y="575.61" width="7.49" height="24.89" fill="#0c5855"/>
<rect x="377.27" y="558.78" width="7.49" height="41.72" fill="#054766"/>
<rect x="384.46" y="539.01" width="7.49" height="61.49" fill="#064b62"/>
<rect x="391.65" y="522.91" width="7.49" height="77.59" fill="#084e5f"/>
<rect x="398.84" y="522.91" width="7.49" height="77.59" fill="#074c61"/>
<rect x="406.02" y="498.75" width="7.49" height="101.75" fill="#074d60"/>
<rect x="413.21" y="489.97" width="7.49" height="110.53" fill="#064a63"/>
<rect x="420.40" y="476.79" width="7.49" height="123.71" fill="#074b62"/>
<rect x="427.59" y="458.49" width="7.49" height="142.01" fill="#084f5e"/>
<rect x="434.77" y="435.07" width="7.49" height="165.43" fill="#03426b"/>
<rect x="441.96" y="432.87" width="7.49" height="167.63" fill="#044667"/>
<rect x="449.15" y="410.91" width="7.49" height="189.59" fill="#034469"/>
<rect x="456.34" y="410.91" width="7.49" height="189.59" fill="#054766"/>
<rect x="463.52" y="391.88" width="7.49" height="208.62" fill="#044667"/>
<rect x="470.71" y="388.95" width="7.49" height="211.55" fill="#044667"/>
<rect x="477.90" y="403.59" width="7.49" height="196.91" fill="#034469"/>
<rect x="485.09" y="359.67" width="7.49" height="240.83" fill="#044469"/>
<rect x="492.27" y="353.82" width="7.49" height="246.68" fill="#03426b"/>
<rect x="499.46" y="331.86" width="7.49" height="268.64" fill="#044469"/>
<rect x="506.65" y="306.97" width="7.49" height="293.53" fill="#034469"/>
<rect x="513.84" y="343.57" width="7.49" height="256.93" fill="#02406d"/>
<rect x="521.02" y="298.92" width="7.49" height="301.58" fill="#054766"/>
<rect x="528.21" y="298.92" width="7.49" height="301.58" fill="#044469"/>
<rect x="535.40" y="272.56" width="7.49" height="327.94" fill="#044568"/>
<rect x="542.59" y="265.98" width="7.49" height="334.52" fill="#044469"/>
<rect x="549.77" y="233.77" width="7.49" height="366.73" fill="#044568"/>
<rect x="556.96" y="257.92" width="7.49" height="342.58" fill="#03426b"/>
<rect x="564.15" y="274.03" width="7.49" height="326.47" fill="#034469"/>
<rect x="571.34" y="214.00" width="7.49" height="386.50" fill="#013f6e"/>
<rect x="578.52" y="224.98" width="7.49" height="375.52" fill="#02406d"/>
<rect x="585.71" y="235.96" width="7.49" height="364.54" fill="#003d70"/>
<rect x="592.90" y="238.16" width="7.49" height="362.34" fill="#03426b"/>
<rect x="600.09" y="216.93" width="7.49" height="383.57" fill="#013e6f"/>
<rect x="607.27" y="214.74" width="7.49" height="385.76" fill="#02416c"/>
<rect x="614.46" y="205.95" width="7.49" height="394.55" fill="#03426b"/>
<rect x="621.65" y="227.91" width="7.49" height="372.59" fill="#02416c"/>
<rect x="628.84" y="208.88" width="7.49" height="391.62" fill="#013f6e"/>
<rect x="636.02" y="189.12" width="7.49" height="411.38" fill="#02406d"/>
<rect x="643.21" y="181.06" width="7.49" height="419.44" fill="#013d70"/>
<rect x="650.40" y="164.96" width="7.49" height="435.54" fill="#02416c"/>
<rect x="657.59" y="222.79" width="7.49" height="377.71" fill="#03436a"/>
<rect x="664.77" y="214.74" width="7.49" height="385.76" fill="#013f6e"/>
<rect x="671.96" y="173.01" width="7.49" height="427.49" fill="#003c71"/>
<rect x="679.15" y="212.54" width="7.49" height="387.96" fill="#003d70"/>
<rect x="686.34" y="208.15" width="7.49" height="392.35" fill="#013c71"/>
<rect x="693.52" y="193.51" width="7.49" height="406.99" fill="#013e6f"/>
<rect x="700.71" y="198.63" width="7.49" height="401.87" fill="#003c71"/>
<rect x="707.90" y="203.02" width="7.49" height="397.48" fill="#02426b"/>
<rect x="715.09" y="210.34" width="7.49" height="390.16" fill="#013f6e"/>
<rect x="722.27" y="209.61" width="7.49" height="390.89" fill="#02406d"/>
<rect x="729.46" y="220.59" width="7.49" height="379.91" fill="#02416c"/>
<rect x="736.65" y="208.15" width="7.49" height="392.35" fill="#003c71"/>
<rect x="743.84" y="235.96" width="7.49" height="364.54" fill="#003d70"/>
<rect x="751.02" y="230.84" width="7.49" height="369.66" fill="#013d70"/>
<rect x="758.21" y="224.98" width="7.49" height="375.52" fill="#02406d"/>
<rect x="765.40" y="237.43" width="7.49" height="363.07" fill="#013d70"/>
<rect x="772.59" y="280.62" width="7.49" height="319.88" fill="#003c71"/>
<rect x="779.77" y="257.92" width="7.49" height="342.58" fill="#033c72"/>
<rect x="786.96" y="233.77" width="7.49" height="366.73" fill="#013c71"/>
<rect x="794.15" y="276.22" width="7.49" height="324.28" fill="#003d70"/>
<rect x="801.34" y="260.85" width="7.49" height="339.65" fill="#003c71"/>
<rect x="808.52" y="257.92" width="7.49" height="342.58" fill="#023c72"/>
<rect x="815.71" y="268.90" width="7.49" height="331.60" fill="#053c73"/>
<rect x="822.90" y="267.44" width="7.49" height="333.06" fill="#003c71"/>
<rect x="830.09" y="285.74" width="7.49" height="314.76" fill="#013e6f"/>
<rect x="837.27" y="252.80" width="7.49" height="347.70" fill="#003d70"/>
<rect x="844.46" y="306.97" width="7.49" height="293.53" fill="#053c73"/>
<rect x="851.65" y="304.04" width="7.49" height="296.46" fill="#063b73"/>
<rect x="858.84" y="286.47" width="7.49" height="314.03" fill="#013d70"/>
<rect x="866.02" y="324.54" width="7.49" height="275.96" fill="#033c72"/>
<rect x="873.21" y="312.09" width="7.49" height="288.41" fill="#063c73"/>
<rect x="880.40" y="333.32" width="7.49" height="267.18" fill="#063b73"/>
<rect x="887.59" y="331.86" width="7.49" height="268.64" fill="#083b74"/>
<rect x="894.77" y="328.20" width="7.49" height="272.30" fill="#063b73"/>
<rect x="901.96" y="336.98" width="7.49" height="263.52" fill="#0b3b75"/>
<rect x="909.15" y="324.54" width="7.49" height="275.96" fill="#043c73"/>
<rect x="916.34" y="334.78" width="7.49" height="265.72" fill="#033c72"/>
<rect x="923.52" y="366.99" width="7.49" height="233.51" fill="#0c3b76"/>
<rect x="930.71" y="366.99" width="7.49" height="233.51" fill="#0e3b76"/>
<rect x="937.90" y="392.61" width="7.49" height="207.89" fill="#0c3b76"/>
<rect x="945.09" y="366.99" width="7.49" height="233.51" fill="#053c73"/>
<rect x="952.27" y="367.72" width="7.49" height="232.78" fill="#0d3b76"/>
<rect x="959.46" y="376.51" width="7.49" height="223.99" fill="#093b75"/>
<rect x="966.65" y="399.93" width="7.49" height="200.57" fill="#093b74"/>
<rect x="973.84" y="403.59" width="7.49" height="196.91" fill="#093b74"/>
<rect x="981.02" y="388.22" width="7.49" height="212.28" fill="#0b3b75"/>
<rect x="988.21" y="416.04" width="7.49" height="184.46" fill="#0f3b77"/>
<rect x="995.40" y="419.70" width="7.49" height="180.80" fill="#0d3b76"/>
<rect x="1002.59" y="421.89" width="7.49" height="178.61" fill="#0a3b75"/>
<rect x="1009.77" y="442.39" width="7.49" height="158.11" fill="#0a3b75"/>
<rect x="1016.96" y="439.46" width="7.49" height="161.04" fill="#0f3b77"/>
<rect x="1024.15" y="444.58" width="7.49" height="155.92" fill="#0c3b76"/>
<rect x="1031.34" y="468.74" width="7.49" height="131.76" fill="#103b77"/>
<rect x="1038.53" y="454.83" width="7.49" height="145.67" fill="#0b3b75"/>
<rect x="1045.71" y="456.30" width="7.49" height="144.20" fill="#0f3b77"/>
<rect x="1052.90" y="470.94" width="7.49" height="129.56" fill="#103b77"/>
<rect x="1060.09" y="480.45" width="7.49" height="120.05" fill="#0c3b76"/>
<rect x="1067.28" y="470.20" width="7.49" height="130.30" fill="#0e3b77"/>
<rect x="1074.46" y="483.38" width="7.49" height="117.12" fill="#163a7a"/>
<rect x="1081.65" y="513.39" width="7.49" height="87.11" fill="#123a78"/>
<rect x="1088.84" y="492.16" width="7.49" height="108.34" fill="#083b74"/>
<rect x="1096.03" y="501.68" width="7.49" height="98.82" fill="#0c3b76"/>
<rect x="1103.21" y="513.39" width="7.49" height="87.11" fill="#0c3b76"/>
<rect x="1110.40" y="506.80" width="7.49" height="93.70" fill="#0a3b75"/>
<rect x="1117.59" y="492.16" width="7.49" height="108.34" fill="#163a79"/>
<rect x="1124.78" y="525.84" width="7.49" height="74.66" fill="#173a7a"/>
<rect x="1131.96" y="530.96" width="7.49" height="69.54" fill="#1c3a7c"/>
<rect x="1139.15" y="519.98" width="7.49" height="80.52" fill="#103b77"/>
<rect x="1146.34" y="528.76" width="7.49" height="71.74" fill="#123a78"/>
<rect x="1153.53" y="528.76" width="7.49" height="71.74" fill="#133a79"/>
<rect x="1160.71" y="541.94" width="7.49" height="58.56" fill="#0b3b75"/>
<rect x="1167.90" y="551.46" width="7.49" height="49.04" fill="#103b77"/>
<rect x="1175.09" y="530.96" width="7.49" height="69.54" fill="#133a79"/>
<rect x="1182.28" y="530.96" width="7.49" height="69.54" fill="#163a7a"/>
<rect x="1189.46" y="544.14" width="7.49" height="56.36" fill="#123a78"/>
<rect x="1196.65" y="543.40" width="7.49" height="57.10" fill="#1c3a7c"/>
<rect x="1203.84" y="547.80" width="7.49" height="52.70" fill="#0d3b76"/>
<rect x="1211.03" y="552.92" width="7.49" height="47.58" fill="#23397f"/>
<rect x="1218.21" y="560.24" width="7.49" height="40.26" fill="#163a7a"/>
<rect x="1225.40" y="557.31" width="7.49" height="43.19" fill="#1f397d"/>
<rect x="1232.59" y="571.22" width="7.49" height="29.28" fill="#1c3a7c"/>
<rect x="1239.78" y="566.83" width="7.49" height="33.67" fill="#1b3a7b"/>
<rect x="1246.96" y="560.97" width="7.49" height="39.53" fill="#1c3a7c"/>
<rect x="1254.15" y="566.10" width="7.49" height="34.40" fill="#1f397d"/>
<rect x="1261.34" y="576.34" width="7.49" height="24.16" fill="#0d3b76"/>
<rect x="1268.53" y="571.95" width="7.49" height="28.55" fill="#1a3a7b"/>
<rect x="1275.71" y="576.34" width="7.49" height="24.16" fill="#153a79"/>
<rect x="1282.90" y="581.47" width="7.49" height="19.03" fill="#0a3b75"/>
<rect x="1290.09" y="581.47" width="7.49" height="19.03" fill="#1f397d"/>
<rect x="1297.28" y="586.59" width="7.49" height="13.91" fill="#1a3a7b"/>
<rect x="1304.46" y="580.00" width="7.49" height="20.50" fill="#263980"/>
<rect x="1311.65" y="576.34" width="7.49" height="24.16" fill="#23397f"/>
<rect x="1318.84" y="585.86" width="7.49" height="14.64" fill="#1a3a7b"/>
<rect x="1326.03" y="583.66" width="7.49" height="16.84" fill="#273980"/>
<rect x="1333.21" y="588.06" width="7.49" height="12.44" fill="#263980"/>
<rect x="1340.40" y="581.47" width="7.49" height="19.03" fill="#153a79"/>
<rect x="1347.59" y="582.93" width="7.49" height="17.57" fill="#163a7a"/>
<rect x="1354.78" y="588.06" width="7.49" height="12.44" fill="#313884"/>
<rect x="1361.96" y="581.47" width="7.49" height="19.03" fill="#113a78"/>
<rect x="1369.15" y="590.98" width="7.49" height="9.52" fill="#1a3a7b"/>
<rect x="1376.34" y="587.32" width="7.49" height="13.18" fill="#1e397d"/>
<rect x="1383.53" y="589.52" width="7.49" height="10.98" fill="#25397f"/>
<rect x="1390.71" y="588.06" width="7.49" height="12.44" fill="#1c3a7c"/>
<rect x="1397.90" y="587.32" width="7.49" height="13.18" fill="#2a3881"/>
<rect x="1405.09" y="590.98" width="7.49" height="9.52" fill="#24397f"/>
<rect x="1412.28" y="588.06" width="7.49" height="12.44" fill="#23397f"/>
<rect x="1419.46" y="593.91" width="7.49" height="6.59" fill="#343785"/>
<rect x="1426.65" y="590.98" width="7.49" height="9.52" fill="#22397e"/>
<rect x="1433.84" y="593.18" width="7.49" height="7.32" fill="#333885"/>
<rect x="1441.03" y="593.91" width="7.49" height="6.59" fill="#313884"/>
<rect x="1448.21" y="589.52" width="7.49" height="10.98" fill="#2c3882"/>
<rect x="1455.40" y="591.72" width="7.49" height="8.78" fill="#2a3881"/>
<rect x="1462.59" y="599.04" width="7.49" height="1.46" fill="#25397f"/>
<rect x="1469.78" y="599.77" width="7.49" height="0.73" fill="#0f3b77"/>
<rect x="1476.96" y="593.91" width="7.49" height="6.59" fill="#1e397d"/>
<rect x="1484.15" y="596.84" width="7.49" height="3.66" fill="#303884"/>
<rect x="1491.34" y="596.84" width="7.49" height="3.66" fill="#313884"/>
<rect x="1498.53" y="598.30" width="7.49" height="2.20" fill="#23397f"/>
<rect x="1505.71" y="593.91" width="7.49" height="6.59" fill="#253980"/>
<rect x="1512.90" y="593.91" width="7.49" height="6.59" fill="#343785"/>
<rect x="1520.09" y="598.30" width="7.49" height="2.20" fill="#103b77"/>
<rect x="1527.28" y="599.04" width="7.49" height="1.46" fill="#1a3a7b"/>
<rect x="1534.46" y="598.30" width="7.49" height="2.20" fill="#153a79"/>
<rect x="1541.65" y="598.30" width="7.49" height="2.20" fill="#2f3883"/>
<rect x="1563.21" y="597.57" width="7.49" height="2.93" fill="#24397f"/>
<rect x="1591.96" y="598.30" width="7.49" height="2.20" fill="#0f3b77"/>
<rect x="1793.21" y="599.77" width="7.49" height="0.73" fill="#0c3b76"/>
<rect x="1920.50" y="748.61" width="2.46" height="7.35" fill="#18733a"/>
<rect x="1920.50" y="783.87" width="3.28" height="7.35" fill="#187439"/>
<rect x="1920.50" y="790.92" width="4.92" height="7.35" fill="#0c3b76"/>
<rect x="1920.50" y="797.98" width="5.74" height="7.35" fill="#0b3b75"/>
<rect x="1920.50" y="812.08" width="6.56" height="7.35" fill="#143a79"/>
<rect x="1920.50" y="819.13" width="5.74" height="7.35" fill="#0a3b75"/>
<rect x="1920.50" y="826.19" width="6.56" height="7.35" fill="#0f3b77"/>
<rect x="1920.50" y="833.24" width="8.20" height="7.35" fill="#0f5f4e"/>
<rect x="1920.50" y="840.29" width="12.30" height="7.35" fill="#0c5756"/>
<rect x="1920.50" y="847.34" width="15.58" height="7.35" fill="#064a63"/>
<rect x="1920.50" y="854.40" width="6.56" height="7.35" fill="#02406d"/>
<rect x="1920.50" y="861.45" width="8.20" height="7.35" fill="#02416c"/>
<rect x="1920.50" y="868.50" width="15.58" height="7.35" fill="#064a63"/>
<rect x="1920.50" y="875.55" width="15.58" height="7.35" fill="#1b3a7c"/>
<rect x="1920.50" y="882.61" width="18.86" height="7.35" fill="#034469"/>
<rect x="1920.50" y="889.66" width="20.50" height="7.35" fill="#013c72"/>
<rect x="1920.50" y="896.71" width="15.58" height="7.35" fill="#03426b"/>
<rect x="1920.50" y="903.76" width="30.34" height="7.35" fill="#003c71"/>
<rect x="1920.50" y="910.81" width="24.60" height="7.35" fill="#02416c"/>
<rect x="1920.50" y="917.87" width="21.32" height="7.35" fill="#193a7b"/>
<rect x="1920.50" y="924.92" width="33.62" height="7.35" fill="#003c71"/>
<rect x="1920.50" y="931.97" width="30.34" height="7.35" fill="#074b62"/>
<rect x="1920.50" y="939.02" width="33.62" height="7.35" fill="#034469"/>
<rect x="1920.50" y="946.08" width="33.62" height="7.35" fill="#0d3b76"/>
<rect x="1920.50" y="953.13" width="29.52" height="7.35" fill="#003c71"/>
<rect x="1920.50" y="960.18" width="33.62" height="7.35" fill="#123a78"/>
<rect x="1920.50" y="967.23" width="40.18" height="7.35" fill="#023c72"/>
<rect x="1920.50" y="974.29" width="47.56" height="7.35" fill="#003c71"/>
<rect x="1920.50" y="981.34" width="42.64" height="7.35" fill="#013e6f"/>
<rect x="1920.50" y="988.39" width="50.84" height="7.35" fill="#0d3b76"/>
<rect x="1920.50" y="995.44" width="44.28" height="7.35" fill="#063b73"/>
<rect x="1920.50" y="1002.50" width="45.92" height="7.35" fill="#123a78"/>
<rect x="1920.50" y="1009.55" width="60.68" height="7.35" fill="#064964"/>
<rect x="1920.50" y="1016.60" width="47.56" height="7.35" fill="#013e6f"/>
<rect x="1920.50" y="1023.65" width="61.50" height="7.35" fill="#003c71"/>
<rect x="1920.50" y="1030.71" width="55.76" height="7.35" fill="#0b3b75"/>
<rect x="1920.50" y="1037.76" width="60.68" height="7.35" fill="#1b3a7c"/>
<rect x="1920.50" y="1044.81" width="76.26" height="7.35" fill="#023c72"/>
<rect x="1920.50" y="1051.86" width="89.38" height="7.35" fill="#063b73"/>
<rect x="1920.50" y="1058.92" width="74.62" height="7.35" fill="#043c73"/>
<rect x="1920.50" y="1065.97" width="85.28" height="7.35" fill="#073b74"/>
<rect x="1920.50" y="1073.02" width="63.14" height="7.35" fill="#053c73"/>
<rect x="1920.50" y="1080.07" width="98.40" height="7.35" fill="#03436a"/>
<rect x="1920.50" y="1087.13" width="88.56" height="7.35" fill="#013e6f"/>
<rect x="1920.50" y="1094.18" width="80.36" height="7.35" fill="#023c72"/>
<rect x="1920.50" y="1101.23" width="111.52" height="7.35" fill="#003c71"/>
<rect x="1920.50" y="1108.28" width="105.78" height="7.35" fill="#044469"/>
<rect x="1920.50" y="1115.33" width="110.70" height="7.35" fill="#013f6e"/>
<rect x="1920.50" y="1122.39" width="133.66" height="7.35" fill="#02406d"/>
<rect x="1920.50" y="1129.44" width="143.50" height="7.35" fill="#02406d"/>
<rect x="1920.50" y="1136.49" width="121.36" height="7.35" fill="#013c71"/>
<rect x="1920.50" y="1143.54" width="143.50" height="7.35" fill="#013e6f"/>
<rect x="1920.50" y="1150.60" width="124.64" height="7.35" fill="#013c71"/>
<rect x="1920.50" y="1157.65" width="160.72" height="7.35" fill="#023c72"/>
<rect x="1920.50" y="1164.70" width="162.36" height="7.35" fill="#003c71"/>
<rect x="1920.50" y="1171.75" width="161.54" height="7.35" fill="#03436a"/>
<rect x="1920.50" y="1178.81" width="169.74" height="7.35" fill="#013e6f"/>
<rect x="1920.50" y="1185.86" width="185.32" height="7.35" fill="#013c71"/>
<rect x="1920.50" y="1192.91" width="175.48" height="7.35" fill="#003c71"/>
<rect x="1920.50" y="1199.96" width="202.54" height="7.35" fill="#02426b"/>
<rect x="1920.50" y="1207.02" width="206.64" height="7.35" fill="#02426b"/>
<rect x="1920.50" y="1214.07" width="208.28" height="7.35" fill="#02406d"/>
<rect x="1920.50" y="1221.12" width="244.36" height="7.35" fill="#02406d"/>
<rect x="1920.50" y="1228.17" width="257.48" height="7.35" fill="#013e6f"/>
<rect x="1920.50" y="1235.23" width="249.28" height="7.35" fill="#054766"/>
<rect x="1920.50" y="1242.28" width="273.06" height="7.35" fill="#013d70"/>
<rect x="1920.50" y="1249.33" width="298.48" height="7.35" fill="#013e6f"/>
<rect x="1920.50" y="1256.38" width="279.62" height="7.35" fill="#013e6f"/>
<rect x="1920.50" y="1263.44" width="305.86" height="7.35" fill="#013e6f"/>
<rect x="1920.50" y="1270.49" width="323.90" height="7.35" fill="#003c71"/>
<rect x="1920.50" y="1277.54" width="327.18" height="7.35" fill="#003d70"/>
<rect x="1920.50" y="1284.59" width="347.68" height="7.35" fill="#013e6f"/>
<rect x="1920.50" y="1291.64" width="402.62" height="7.35" fill="#013e6f"/>
<rect x="1920.50" y="1298.70" width="365.72" height="7.35" fill="#02406d"/>
<rect x="1920.50" y="1305.75" width="368.18" height="7.35" fill="#02406d"/>
<rect x="1920.50" y="1312.80" width="401.80" height="7.35" fill="#013f6e"/>
<rect x="1920.50" y="1319.85" width="437.88" height="7.35" fill="#02416c"/>
<rect x="1920.50" y="1326.91" width="400.16" height="7.35" fill="#013d70"/>
<rect x="1920.50" y="1333.96" width="445.26" height="7.35" fill="#013e6f"/>
<rect x="1920.50" y="1341.01" width="400.16" height="7.35" fill="#02406d"/>
<rect x="1920.50" y="1348.06" width="451.00" height="7.35" fill="#023c72"/>
<rect x="1920.50" y="1355.12" width="467.40" height="7.35" fill="#003c71"/>
<rect x="1920.50" y="1362.17" width="440.34" height="7.35" fill="#013e6f"/>
<rect x="1920.50" y="1369.22" width="481.34" height="7.35" fill="#013f6e"/>
<rect x="1920.50" y="1376.27" width="437.88" height="7.35" fill="#02406d"/>
<rect x="1920.50" y="1383.33" width="462.48" height="7.35" fill="#013e6f"/>
<rect x="1920.50" y="1390.38" width="517.42" height="7.35" fill="#013c71"/>
<rect x="1920.50" y="1397.43" width="461.66" height="7.35" fill="#023c72"/>
<rect x="1920.50" y="1404.48" width="478.06" height="7.35" fill="#003d70"/>
<rect x="1920.50" y="1411.54" width="451.00" height="7.35" fill="#013d70"/>
<rect x="1920.50" y="1418.59" width="451.00" height="7.35" fill="#02416c"/>
<rect x="1920.50" y="1425.64" width="443.62" height="7.35" fill="#003c71"/>
<rect x="1920.50" y="1432.69" width="466.58" height="7.35" fill="#013f6e"/>
<rect x="1920.50" y="1439.75" width="476.42" height="7.35" fill="#013c71"/>
<rect x="1920.50" y="1446.80" width="469.86" height="7.35" fill="#003d70"/>
<rect x="1920.50" y="1453.85" width="478.06" height="7.35" fill="#003c71"/>
<rect x="1920.50" y="1460.90" width="420.66" height="7.35" fill="#003c71"/>
<rect x="1920.50" y="1467.96" width="439.52" height="7.35" fill="#013f6e"/>
<rect x="1920.50" y="1475.01" width="446.08" height="7.35" fill="#053c73"/>
<rect x="1920.50" y="1482.06" width="452.64" height="7.35" fill="#013c71"/>
<rect x="1920.50" y="1489.11" width="451.00" height="7.35" fill="#003c71"/>
<rect x="1920.50" y="1496.16" width="408.36" height="7.35" fill="#013f6e"/>
<rect x="1920.50" y="1503.22" width="415.74" height="7.35" fill="#013f6e"/>
<rect x="1920.50" y="1510.27" width="410.00" height="7.35" fill="#003c71"/>
<rect x="1920.50" y="1517.32" width="405.08" height="7.35" fill="#053c73"/>
<rect x="1920.50" y="1524.37" width="369.82" height="7.35" fill="#033c72"/>
<rect x="1920.50" y="1531.43" width="384.58" height="7.35" fill="#003d70"/>
<rect x="1920.50" y="1538.48" width="386.22" height="7.35" fill="#063b74"/>
<rect x="1920.50" y="1545.53" width="371.46" height="7.35" fill="#003c71"/>
<rect x="1920.50" y="1552.58" width="375.56" height="7.35" fill="#033c72"/>
<rect x="1920.50" y="1559.64" width="341.12" height="7.35" fill="#053c73"/>
<rect x="1920.50" y="1566.69" width="368.18" height="7.35" fill="#033c72"/>
<rect x="1920.50" y="1573.74" width="354.24" height="7.35" fill="#003d70"/>
<rect x="1920.50" y="1580.79" width="348.50" height="7.35" fill="#023c72"/>
<rect x="1920.50" y="1587.85" width="339.48" height="7.35" fill="#083b74"/>
<rect x="1920.50" y="1594.90" width="329.64" height="7.35" fill="#033c72"/>
<rect x="1920.50" y="1601.95" width="332.92" height="7.35" fill="#033c72"/>
<rect x="1920.50" y="1609.00" width="311.60" height="7.35" fill="#053c73"/>
<rect x="1920.50" y="1616.06" width="336.20" height="7.35" fill="#003c71"/>
<rect x="1920.50" y="1623.11" width="305.86" height="7.35" fill="#033c72"/>
<rect x="1920.50" y="1630.16" width="302.58" height="7.35" fill="#083b74"/>
<rect x="1920.50" y="1637.21" width="290.28" height="7.35" fill="#013c71"/>
<rect x="1920.50" y="1644.27" width="302.58" height="7.35" fill="#023c72"/>
<rect x="1920.50" y="1651.32" width="261.58" height="7.35" fill="#053c73"/>
<rect x="1920.50" y="1658.37" width="241.90" height="7.35" fill="#033c72"/>
<rect x="1920.50" y="1665.42" width="238.62" height="7.35" fill="#043c72"/>
<rect x="1920.50" y="1672.47" width="250.10" height="7.35" fill="#053c73"/>
<rect x="1920.50" y="1679.53" width="266.50" height="7.35" fill="#023c72"/>
<rect x="1920.50" y="1686.58" width="213.20" height="7.35" fill="#093b74"/>
<rect x="1920.50" y="1693.63" width="224.68" height="7.35" fill="#013c72"/>
<rect x="1920.50" y="1700.68" width="220.58" height="7.35" fill="#073b74"/>
<rect x="1920.50" y="1707.74" width="181.22" height="7.35" fill="#013e6f"/>
<rect x="1920.50" y="1714.79" width="204.18" height="7.35" fill="#083b74"/>
<rect x="1920.50" y="1721.84" width="162.36" height="7.35" fill="#013c71"/>
<rect x="1920.50" y="1728.89" width="179.58" height="7.35" fill="#043c73"/>
<rect x="1920.50" y="1735.95" width="205.00" height="7.35" fill="#013f6e"/>
<rect x="1920.50" y="1743.00" width="156.62" height="7.35" fill="#043c73"/>
<rect x="1920.50" y="1750.05" width="140.22" height="7.35" fill="#083b74"/>
<rect x="1920.50" y="1757.10" width="158.26" height="7.35" fill="#033c72"/>
<rect x="1920.50" y="1764.16" width="118.08" height="7.35" fill="#053c73"/>
<rect x="1920.50" y="1771.21" width="107.42" height="7.35" fill="#043c72"/>
<rect x="1920.50" y="1778.26" width="127.10" height="7.35" fill="#083b74"/>
<rect x="1920.50" y="1785.31" width="97.58" height="7.35" fill="#013e6f"/>
<rect x="1920.50" y="1792.37" width="87.74" height="7.35" fill="#093b74"/>
<rect x="1920.50" y="1799.42" width="106.60" height="7.35" fill="#093b75"/>
<rect x="1920.50" y="1806.47" width="74.62" height="7.35" fill="#073b74"/>
<rect x="1920.50" y="1813.52" width="88.56" height="7.35" fill="#053c73"/>
<rect x="1920.50" y="1820.58" width="77.08" height="7.35" fill="#083b74"/>
<rect x="1920.50" y="1827.63" width="74.62" height="7.35" fill="#003c71"/>
<rect x="1920.50" y="1834.68" width="62.32" height="7.35" fill="#0e3b76"/>
<rect x="1920.50" y="1841.73" width="60.68" height="7.35" fill="#083b74"/>
<rect x="1920.50" y="1848.79" width="60.68" height="7.35" fill="#033c72"/>
<rect x="1920.50" y="1855.84" width="65.60" height="7.35" fill="#0e3b77"/>
<rect x="1920.50" y="1862.89" width="47.56" height="7.35" fill="#0e3b77"/>
<rect x="1920.50" y="1869.94" width="42.64" height="7.35" fill="#0b3b75"/>
<rect x="1920.50" y="1876.99" width="35.26" height="7.35" fill="#073b74"/>
<rect x="1920.50" y="1884.05" width="50.84" height="7.35" fill="#013d70"/>
<rect x="1920.50" y="1891.10" width="30.34" height="7.35" fill="#013c72"/>
<rect x="1920.50" y="1898.15" width="47.56" height="7.35" fill="#0b3b75"/>
<rect x="1920.50" y="1905.20" width="40.18" height="7.35" fill="#013d70"/>
<rect x="1920.50" y="1912.26" width="29.52" height="7.35" fill="#044667"/>
<rect x="1920.50" y="1919.31" width="33.62" height="7.35" fill="#033c72"/>
<rect x="1920.50" y="1926.36" width="21.32" height="7.35" fill="#093b74"/>
<rect x="1920.50" y="1933.41" width="25.42" height="7.35" fill="#003d70"/>
<rect x="1920.50" y="1940.47" width="19.68" height="7.35" fill="#013d70"/>
<rect x="1920.50" y="1947.52" width="17.22" height="7.35" fill="#02406d"/>
<rect x="1920.50" y="1954.57" width="20.50" height="7.35" fill="#013f6e"/>
<rect x="1920.50" y="1961.62" width="20.50" height="7.35" fill="#033c72"/>
<rect x="1920.50" y="1968.68" width="11.48" height="7.35" fill="#03426b"/>
<rect x="1920.50" y="1975.73" width="10.66" height="7.35" fill="#083b74"/>
<rect x="1920.50" y="1982.78" width="11.48" height="7.35" fill="#0b3b75"/>
<rect x="1920.50" y="1989.83" width="12.30" height="7.35" fill="#044667"/>
<rect x="1920.50" y="1996.89" width="6.56" height="7.35" fill="#074c61"/>
<rect x="1920.50" y="2003.94" width="4.92" height="7.35" fill="#044667"/>
<rect x="1920.50" y="2010.99" width="10.66" height="7.35" fill="#173a7a"/>
<rect x="1920.50" y="2018.04" width="10.66" height="7.35" fill="#013f6e"/>
<rect x="1920.50" y="2025.10" width="8.20" height="7.35" fill="#013f6e"/>
<rect x="1920.50" y="2032.15" width="6.56" height="7.35" fill="#03436a"/>
<rect x="1920.50" y="2039.20" width="4.92" height="7.35" fill="#053c73"/>
<rect x="1920.50" y="2046.25" width="5.74" height="7.35" fill="#033c72"/>
<rect x="1920.50" y="2053.30" width="2.46" height="7.35" fill="#064964"/>
<rect x="1920.50" y="2060.36" width="2.46" height="7.35" fill="#034469"/>
<rect x="1920.50" y="2074.46" width="4.92" height="7.35" fill="#074c61"/>
</g>
<rect x="2610.5" y="720.4" width="150.0" height="1440.1" fill="url(#cb)"/>
<path d="M445.9 120.4v17.0M445.9 600.5v-17.0M531.3 120.4v17.0M531.3 600.5v-17.0M616.7 120.4v17.0M616.7 600.5v-17.0M702.1 120.4v17.0M702.1 600.5v-17.0M787.5 120.4v33.0M787.5 600.5v-33.0M872.9 120.4v17.0M872.9 600.5v-17.0M958.3 120.4v17.0M958.3 600.5v-17.0M1043.7 120.4v17.0M1043.7 600.5v-17.0M1129.1 120.4v17.0M1129.1 600.5v-17.0M1214.5 120.4v33.0M1214.5 600.5v-33.0M1299.9 120.4v17.0M1299.9 600.5v-17.0M1385.3 120.4v17.0M1385.3 600.5v-17.0M1470.7 120.4v17.0M1470.7 600.5v-17.0M1556.1 120.4v17.0M1556.1 600.5v-17.0M1641.5 120.4v33.0M1641.5 600.5v-33.0M1726.9 120.4v17.0M1726.9 600.5v-17.0M445.9 720.4v17.0M445.9 2160.5v-17.0M531.3 720.4v17.0M531.3 2160.5v-17.0M616.7 720.4v17.0M616.7 2160.5v-17.0M702.1 720.4v17.0M702.1 2160.5v-17.0M787.5 720.4v33.0M787.5 2160.5v-33.0M872.9 720.4v17.0M872.9 2160.5v-17.0M958.3 720.4v17.0M958.3 2160.5v-17.0M1043.7 720.4v17.0M1043.7 2160.5v-17.0M1129.1 720.4v17.0M1129.1 2160.5v-17.0M1214.5 720.4v33.0M1214.5 2160.5v-33.0M1299.9 720.4v17.0M1299.9 2160.5v-17.0M1385.3 720.4v17.0M1385.3 2160.5v-17.0M1470.7 720.4v17.0M1470.7 2160.5v-17.0M1556.1 720.4v17.0M1556.1 2160.5v-17.0M1641.5 720.4v33.0M1641.5 2160.5v-33.0M1726.9 720.4v17.0M1726.9 2160.5v-17.0M360.5 527.3h17.0M1800.4 527.3h-17.0M360.5 454.1h17.0M1800.4 454.1h-17.0M360.5 380.9h17.0M1800.4 380.9h-17.0M360.5 307.7h17.0M1800.4 307.7h-17.0M360.5 234.5h33.0M1800.4 234.5h-33.0M360.5 161.3h17.0M1800.4 161.3h-17.0M360.5 2109.8h33.0M1800.4 2109.8h-33.0M1920.5 2109.8h33.0M2490.7 2109.8h-33.0M360.5 2026.1h17.0M1800.4 2026.1h-17.0M1920.5 2026.1h17.0M2490.7 2026.1h-17.0M360.5 1942.5h17.0M1800.4 1942.5h-17.0M1920.5 1942.5h17.0M2490.7 1942.5h-17.0M360.5 1858.8h17.0M1800.4 1858.8h-17.0M1920.5 1858.8h17.0M2490.7 1858.8h-17.0M360.5 1775.1h33.0M1800.4 1775.1h-33.0M1920.5 1775.1h33.0M2490.7 1775.1h-33.0M360.5 1691.5h17.0M1800.4 1691.5h-17.0M1920.5 1691.5h17.0M2490.7 1691.5h-17.0M360.5 1607.8h17.0M1800.4 1607.8h-17.0M1920.5 1607.8h17.0M2490.7 1607.8h-17.0M360.5 1524.1h17.0M1800.4 1524.1h-17.0M1920.5 1524.1h17.0M2490.7 1524.1h-17.0M360.5 1440.5h33.0M1800.4 1440.5h-33.0M1920.5 1440.5h33.0M2490.7 1440.5h-33.0M360.5 1356.8h17.0M1800.4 1356.8h-17.0M1920.5 1356.8h17.0M2490.7 1356.8h-17.0M360.5 1273.1h17.0M1800.4 1273.1h-17.0M1920.5 1273.1h17.0M2490.7 1273.1h-17.0M360.5 1189.4h17.0M1800.4 1189.4h-17.0M1920.5 1189.4h17.0M2490.7 1189.4h-17.0M360.5 1105.8h33.0M1800.4 1105.8h-33.0M1920.5 1105.8h33.0M2490.7 1105.8h-33.0M360.5 1022.1h17.0M1800.4 1022.1h-17.0M1920.5 1022.1h17.0M2490.7 1022.1h-17.0M360.5 938.4h17.0M1800.4 938.4h-17.0M1920.5 938.4h17.0M2490.7 938.4h-17.0M360.5 854.8h17.0M1800.4 854.8h-17.0M1920.5 854.8h17.0M2490.7 854.8h-17.0M360.5 771.1h33.0M1800.4 771.1h-33.0M1920.5 771.1h33.0M2490.7 771.1h-33.0M2002.5 720.4v17.0M2002.5 2160.5v-17.0M2084.5 720.4v17.0M2084.5 2160.5v-17.0M2166.5 720.4v17.0M2166.5 2160.5v-17.0M2248.5 720.4v17.0M2248.5 2160.5v-17.0M2330.5 720.4v33.0M2330.5 2160.5v-33.0M2412.5 720.4v17.0M2412.5 2160.5v-17.0M2760.5 2088.5h-17.0M2760.5 2016.5h-17.0M2760.5 1944.5h-17.0M2760.5 1872.5h-17.0M2760.5 1800.5h-17.0M2760.5 1728.5h-17.0M2760.5 1656.5h-17.0M2760.5 1584.5h-17.0M2760.5 1512.5h-17.0M2760.5 1440.5h-17.0M2760.5 1368.4h-17.0M2760.5 1296.4h-17.0M2760.5 1224.4h-17.0M2760.5 1152.4h-17.0M2760.5 1080.4h-17.0M2760.5 1008.4h-17.0M2760.5 936.4h-17.0M2760.5 864.4h-17.0M2760.5 792.4h-17.0" stroke="#000" stroke-width="2.1" fill="none"/>
<rect x="360.5" y="120.4" width="1439.9" height="480.1" fill="none" stroke="#000" stroke-width="3.05"/>
<rect x="360.5" y="720.4" width="1439.9" height="1440.1" fill="none" stroke="#000" stroke-width="3.05"/>
<rect x="1920.5" y="720.4" width="570.2" height="1440.1" fill="none" stroke="#000" stroke-width="3.05"/>
<rect x="2610.5" y="720.4" width="150.0" height="1440.1" fill="none" stroke="#000" stroke-width="3.05"/>
<g font-family="Liberation Sans, sans-serif" font-weight="normal" fill="#000" stroke="#000" stroke-linejoin="round">
<text x="252.30" y="254.50" font-size="82.12" textLength="89.00" lengthAdjust="spacingAndGlyphs" stroke-width="1.90" letter-spacing="5">500</text>
<text x="253.50" y="254.50" font-size="82.12" textLength="89.00" lengthAdjust="spacingAndGlyphs" stroke-width="1.90" letter-spacing="5">500</text>
<text x="254.70" y="254.50" font-size="82.12" textLength="89.00" lengthAdjust="spacingAndGlyphs" stroke-width="1.90" letter-spacing="5">500</text>
<text x="255.90" y="254.50" font-size="82.12" textLength="89.00" lengthAdjust="spacingAndGlyphs" stroke-width="1.90" letter-spacing="5">500</text>
<text x="313.50" y="620.50" font-size="82.12" textLength="26.80" lengthAdjust="spacingAndGlyphs" stroke-width="1.90" letter-spacing="5">0</text>
<text x="314.70" y="620.50" font-size="82.12" textLength="26.80" lengthAdjust="spacingAndGlyphs" stroke-width="1.90" letter-spacing="5">0</text>
<text x="315.90" y="620.50" font-size="82.12" textLength="26.80" lengthAdjust="spacingAndGlyphs" stroke-width="1.90" letter-spacing="5">0</text>
<text x="317.10" y="620.50" font-size="82.12" textLength="26.80" lengthAdjust="spacingAndGlyphs" stroke-width="1.90" letter-spacing="5">0</text>
<text x="281.40" y="790.72" font-size="82.12" textLength="59.90" lengthAdjust="spacingAndGlyphs" stroke-width="1.90" letter-spacing="5">40</text>
<text x="282.60" y="790.72" font-size="82.12" textLength="59.90" lengthAdjust="spacingAndGlyphs" stroke-width="1.90" letter-spacing="5">40</text>
<text x="283.80" y="790.72" font-size="82.12" textLength="59.90" lengthAdjust="spacingAndGlyphs" stroke-width="1.90" letter-spacing="5">40</text>
<text x="285.00" y="790.72" font-size="82.12" textLength="59.90" lengthAdjust="spacingAndGlyphs" stroke-width="1.90" letter-spacing="5">40</text>
<text x="282.20" y="1125.44" font-size="82.12" textLength="59.10" lengthAdjust="spacingAndGlyphs" stroke-width="1.90" letter-spacing="5">20</text>
<text x="283.40" y="1125.44" font-size="82.12" textLength="59.10" lengthAdjust="spacingAndGlyphs" stroke-width="1.90" letter-spacing="5">20</text>
<text x="284.60" y="1125.44" font-size="82.12" textLength="59.10" lengthAdjust="spacingAndGlyphs" stroke-width="1.90" letter-spacing="5">20</text>
<text x="285.80" y="1125.44" font-size="82.12" textLength="59.10" lengthAdjust="spacingAndGlyphs" stroke-width="1.90" letter-spacing="5">20</text>
<text x="313.50" y="1460.15" font-size="82.12" textLength="26.80" lengthAdjust="spacingAndGlyphs" stroke-width="1.90" letter-spacing="5">0</text>
<text x="314.70" y="1460.15" font-size="82.12" textLength="26.80" lengthAdjust="spacingAndGlyphs" stroke-width="1.90" letter-spacing="5">0</text>
<text x="315.90" y="1460.15" font-size="82.12" textLength="26.80" lengthAdjust="spacingAndGlyphs" stroke-width="1.90" letter-spacing="5">0</text>
<text x="317.10" y="1460.15" font-size="82.12" textLength="26.80" lengthAdjust="spacingAndGlyphs" stroke-width="1.90" letter-spacing="5">0</text>
<text x="282.20" y="1794.86" font-size="82.12" textLength="59.10" lengthAdjust="spacingAndGlyphs" stroke-width="1.90" letter-spacing="5">20</text>
<text x="283.40" y="1794.86" font-size="82.12" textLength="59.10" lengthAdjust="spacingAndGlyphs" stroke-width="1.90" letter-spacing="5">20</text>
<text x="284.60" y="1794.86" font-size="82.12" textLength="59.10" lengthAdjust="spacingAndGlyphs" stroke-width="1.90" letter-spacing="5">20</text>
<text x="285.80" y="1794.86" font-size="82.12" textLength="59.10" lengthAdjust="spacingAndGlyphs" stroke-width="1.90" letter-spacing="5">20</text>
<text x="281.40" y="2129.58" font-size="82.12" textLength="59.90" lengthAdjust="spacingAndGlyphs" stroke-width="1.90" letter-spacing="5">40</text>
<text x="282.60" y="2129.58" font-size="82.12" textLength="59.90" lengthAdjust="spacingAndGlyphs" stroke-width="1.90" letter-spacing="5">40</text>
<text x="283.80" y="2129.58" font-size="82.12" textLength="59.90" lengthAdjust="spacingAndGlyphs" stroke-width="1.90" letter-spacing="5">40</text>
<text x="285.00" y="2129.58" font-size="82.12" textLength="59.90" lengthAdjust="spacingAndGlyphs" stroke-width="1.90" letter-spacing="5">40</text>
<text x="322.70" y="2235.20" font-size="82.52" textLength="74.00" lengthAdjust="spacingAndGlyphs" stroke-width="1.90" letter-spacing="5">0.0</text>
<text x="323.90" y="2235.20" font-size="82.52" textLength="74.00" lengthAdjust="spacingAndGlyphs" stroke-width="1.90" letter-spacing="5">0.0</text>
<text x="325.10" y="2235.20" font-size="82.52" textLength="74.00" lengthAdjust="spacingAndGlyphs" stroke-width="1.90" letter-spacing="5">0.0</text>
<text x="326.30" y="2235.20" font-size="82.52" textLength="74.00" lengthAdjust="spacingAndGlyphs" stroke-width="1.90" letter-spacing="5">0.0</text>
<text x="749.20" y="2235.20" font-size="82.52" textLength="75.20" lengthAdjust="spacingAndGlyphs" stroke-width="1.90" letter-spacing="5">0.5</text>
<text x="750.40" y="2235.20" font-size="82.52" textLength="75.20" lengthAdjust="spacingAndGlyphs" stroke-width="1.90" letter-spacing="5">0.5</text>
<text x="751.60" y="2235.20" font-size="82.52" textLength="75.20" lengthAdjust="spacingAndGlyphs" stroke-width="1.90" letter-spacing="5">0.5</text>
<text x="752.80" y="2235.20" font-size="82.52" textLength="75.20" lengthAdjust="spacingAndGlyphs" stroke-width="1.90" letter-spacing="5">0.5</text>
<text x="1181.40" y="2235.20" font-size="82.52" textLength="70.60" lengthAdjust="spacingAndGlyphs" stroke-width="1.90" letter-spacing="5">1.0</text>
<text x="1182.60" y="2235.20" font-size="82.52" textLength="70.60" lengthAdjust="spacingAndGlyphs" stroke-width="1.90" letter-spacing="5">1.0</text>
<text x="1183.80" y="2235.20" font-size="82.52" textLength="70.60" lengthAdjust="spacingAndGlyphs" stroke-width="1.90" letter-spacing="5">1.0</text>
<text x="1185.00" y="2235.20" font-size="82.52" textLength="70.60" lengthAdjust="spacingAndGlyphs" stroke-width="1.90" letter-spacing="5">1.0</text>
<text x="1610.70" y="2235.20" font-size="82.52" textLength="69.10" lengthAdjust="spacingAndGlyphs" stroke-width="1.90" letter-spacing="5">1.5</text>
<text x="1611.90" y="2235.20" font-size="82.52" textLength="69.10" lengthAdjust="spacingAndGlyphs" stroke-width="1.90" letter-spacing="5">1.5</text>
<text x="1613.10" y="2235.20" font-size="82.52" textLength="69.10" lengthAdjust="spacingAndGlyphs" stroke-width="1.90" letter-spacing="5">1.5</text>
<text x="1614.30" y="2235.20" font-size="82.52" textLength="69.10" lengthAdjust="spacingAndGlyphs" stroke-width="1.90" letter-spacing="5">1.5</text>
<text x="1906.80" y="2235.20" font-size="82.52" textLength="28.00" lengthAdjust="spacingAndGlyphs" stroke-width="1.90" letter-spacing="5">0</text>
<text x="1908.00" y="2235.20" font-size="82.52" textLength="28.00" lengthAdjust="spacingAndGlyphs" stroke-width="1.90" letter-spacing="5">0</text>
<text x="1909.20" y="2235.20" font-size="82.52" textLength="28.00" lengthAdjust="spacingAndGlyphs" stroke-width="1.90" letter-spacing="5">0</text>
<text x="1910.40" y="2235.20" font-size="82.52" textLength="28.00" lengthAdjust="spacingAndGlyphs" stroke-width="1.90" letter-spacing="5">0</text>
<text x="2285.20" y="2235.20" font-size="82.52" textLength="88.90" lengthAdjust="spacingAndGlyphs" stroke-width="1.90" letter-spacing="5">500</text>
<text x="2286.40" y="2235.20" font-size="82.52" textLength="88.90" lengthAdjust="spacingAndGlyphs" stroke-width="1.90" letter-spacing="5">500</text>
<text x="2287.60" y="2235.20" font-size="82.52" textLength="88.90" lengthAdjust="spacingAndGlyphs" stroke-width="1.90" letter-spacing="5">500</text>
<text x="2288.80" y="2235.20" font-size="82.52" textLength="88.90" lengthAdjust="spacingAndGlyphs" stroke-width="1.90" letter-spacing="5">500</text>
<text x="2778.70" y="2180.10" font-size="81.72" textLength="73.60" lengthAdjust="spacingAndGlyphs" stroke-width="1.90" letter-spacing="5">0.0</text>
<text x="2779.90" y="2180.10" font-size="81.72" textLength="73.60" lengthAdjust="spacingAndGlyphs" stroke-width="1.90" letter-spacing="5">0.0</text>
<text x="2781.10" y="2180.10" font-size="81.72" textLength="73.60" lengthAdjust="spacingAndGlyphs" stroke-width="1.90" letter-spacing="5">0.0</text>
<text x="2782.30" y="2180.10" font-size="81.72" textLength="73.60" lengthAdjust="spacingAndGlyphs" stroke-width="1.90" letter-spacing="5">0.0</text>
<text x="2778.70" y="1891.96" font-size="81.72" textLength="74.60" lengthAdjust="spacingAndGlyphs" stroke-width="1.90" letter-spacing="5">0.2</text>
<text x="2779.90" y="1891.96" font-size="81.72" textLength="74.60" lengthAdjust="spacingAndGlyphs" stroke-width="1.90" letter-spacing="5">0.2</text>
<text x="2781.10" y="1891.96" font-size="81.72" textLength="74.60" lengthAdjust="spacingAndGlyphs" stroke-width="1.90" letter-spacing="5">0.2</text>
<text x="2782.30" y="1891.96" font-size="81.72" textLength="74.60" lengthAdjust="spacingAndGlyphs" stroke-width="1.90" letter-spacing="5">0.2</text>
<text x="2778.70" y="1603.82" font-size="81.72" textLength="73.60" lengthAdjust="spacingAndGlyphs" stroke-width="1.90" letter-spacing="5">0.4</text>
<text x="2779.90" y="1603.82" font-size="81.72" textLength="73.60" lengthAdjust="spacingAndGlyphs" stroke-width="1.90" letter-spacing="5">0.4</text>
<text x="2781.10" y="1603.82" font-size="81.72" textLength="73.60" lengthAdjust="spacingAndGlyphs" stroke-width="1.90" letter-spacing="5">0.4</text>
<text x="2782.30" y="1603.82" font-size="81.72" textLength="73.60" lengthAdjust="spacingAndGlyphs" stroke-width="1.90" letter-spacing="5">0.4</text>
<text x="2778.70" y="1316.68" font-size="81.72" textLength="74.60" lengthAdjust="spacingAndGlyphs" stroke-width="1.90" letter-spacing="5">0.6</text>
<text x="2779.90" y="1316.68" font-size="81.72" textLength="74.60" lengthAdjust="spacingAndGlyphs" stroke-width="1.90" letter-spacing="5">0.6</text>
<text x="2781.10" y="1316.68" font-size="81.72" textLength="74.60" lengthAdjust="spacingAndGlyphs" stroke-width="1.90" letter-spacing="5">0.6</text>
<text x="2782.30" y="1316.68" font-size="81.72" textLength="74.60" lengthAdjust="spacingAndGlyphs" stroke-width="1.90" letter-spacing="5">0.6</text>
<text x="2778.70" y="1028.54" font-size="81.72" textLength="74.60" lengthAdjust="spacingAndGlyphs" stroke-width="1.90" letter-spacing="5">0.8</text>
<text x="2779.90" y="1028.54" font-size="81.72" textLength="74.60" lengthAdjust="spacingAndGlyphs" stroke-width="1.90" letter-spacing="5">0.8</text>
<text x="2781.10" y="1028.54" font-size="81.72" textLength="74.60" lengthAdjust="spacingAndGlyphs" stroke-width="1.90" letter-spacing="5">0.8</text>
<text x="2782.30" y="1028.54" font-size="81.72" textLength="74.60" lengthAdjust="spacingAndGlyphs" stroke-width="1.90" letter-spacing="5">0.8</text>
<text x="2777.70" y="740.40" font-size="81.72" textLength="74.60" lengthAdjust="spacingAndGlyphs" stroke-width="1.90" letter-spacing="5">1.0</text>
<text x="2778.90" y="740.40" font-size="81.72" textLength="74.60" lengthAdjust="spacingAndGlyphs" stroke-width="1.90" letter-spacing="5">1.0</text>
<text x="2780.10" y="740.40" font-size="81.72" textLength="74.60" lengthAdjust="spacingAndGlyphs" stroke-width="1.90" letter-spacing="5">1.0</text>
<text x="2781.30" y="740.40" font-size="81.72" textLength="74.60" lengthAdjust="spacingAndGlyphs" stroke-width="1.90" letter-spacing="5">1.0</text>
<text x="656.90" y="2344.50" font-size="101.72" textLength="844.60" lengthAdjust="spacingAndGlyphs" stroke-width="1.80" letter-spacing="6">Lateral displacement (nm)</text>
<text x="658.20" y="2344.50" font-size="101.72" textLength="844.60" lengthAdjust="spacingAndGlyphs" stroke-width="1.80" letter-spacing="6">Lateral displacement (nm)</text>
<text x="659.60" y="2344.50" font-size="101.72" textLength="844.60" lengthAdjust="spacingAndGlyphs" stroke-width="1.80" letter-spacing="6">Lateral displacement (nm)</text>
<text x="660.90" y="2344.50" font-size="101.72" textLength="844.60" lengthAdjust="spacingAndGlyphs" stroke-width="1.80" letter-spacing="6">Lateral displacement (nm)</text>
<text x="2067.60" y="2343.20" font-size="104.74" textLength="275.40" lengthAdjust="spacingAndGlyphs" stroke-width="1.80" letter-spacing="6"># Counts</text>
<text x="2068.90" y="2343.20" font-size="104.74" textLength="275.40" lengthAdjust="spacingAndGlyphs" stroke-width="1.80" letter-spacing="6"># Counts</text>
<text x="2070.30" y="2343.20" font-size="104.74" textLength="275.40" lengthAdjust="spacingAndGlyphs" stroke-width="1.80" letter-spacing="6"># Counts</text>
<text x="2071.60" y="2343.20" font-size="104.74" textLength="275.40" lengthAdjust="spacingAndGlyphs" stroke-width="1.80" letter-spacing="6"># Counts</text>
<text x="1916.40" y="279.60" font-size="126.52" textLength="245.00" lengthAdjust="spacingAndGlyphs" stroke-width="2.00" letter-spacing="7">PepDF</text>
<text x="1918.10" y="279.60" font-size="126.52" textLength="245.00" lengthAdjust="spacingAndGlyphs" stroke-width="2.00" letter-spacing="7">PepDF</text>
<text x="1919.90" y="279.60" font-size="126.52" textLength="245.00" lengthAdjust="spacingAndGlyphs" stroke-width="2.00" letter-spacing="7">PepDF</text>
<text x="1921.60" y="279.60" font-size="126.52" textLength="245.00" lengthAdjust="spacingAndGlyphs" stroke-width="2.00" letter-spacing="7">PepDF</text>
<text x="1920.20" y="431.00" font-size="98.63" textLength="597.80" lengthAdjust="spacingAndGlyphs" stroke-width="1.80" letter-spacing="6">Time window: 5 ns</text>
<text x="1921.50" y="431.00" font-size="98.63" textLength="597.80" lengthAdjust="spacingAndGlyphs" stroke-width="1.80" letter-spacing="6">Time window: 5 ns</text>
<text x="1922.90" y="431.00" font-size="98.63" textLength="597.80" lengthAdjust="spacingAndGlyphs" stroke-width="1.80" letter-spacing="6">Time window: 5 ns</text>
<text x="1924.20" y="431.00" font-size="98.63" textLength="597.80" lengthAdjust="spacingAndGlyphs" stroke-width="1.80" letter-spacing="6">Time window: 5 ns</text>
<text font-size="104.18" textLength="276.50" lengthAdjust="spacingAndGlyphs" stroke-width="1.80" letter-spacing="6" transform="translate(208.60 358.75) rotate(-90)" x="-140.25" y="0"># Counts</text>
<text font-size="104.18" textLength="276.50" lengthAdjust="spacingAndGlyphs" stroke-width="1.80" letter-spacing="6" transform="translate(208.60 358.75) rotate(-90)" x="-138.95" y="0"># Counts</text>
<text font-size="104.18" textLength="276.50" lengthAdjust="spacingAndGlyphs" stroke-width="1.80" letter-spacing="6" transform="translate(208.60 358.75) rotate(-90)" x="-137.55" y="0"># Counts</text>
<text font-size="104.18" textLength="276.50" lengthAdjust="spacingAndGlyphs" stroke-width="1.80" letter-spacing="6" transform="translate(208.60 358.75) rotate(-90)" x="-136.25" y="0"># Counts</text>
<text font-size="101.30" textLength="684.00" lengthAdjust="spacingAndGlyphs" stroke-width="1.80" letter-spacing="6" transform="translate(191.90 1441.00) rotate(-90)" x="-344.00" y="0">Precession (degrees)</text>
<text font-size="101.30" textLength="684.00" lengthAdjust="spacingAndGlyphs" stroke-width="1.80" letter-spacing="6" transform="translate(191.90 1441.00) rotate(-90)" x="-342.70" y="0">Precession (degrees)</text>
<text font-size="101.30" textLength="684.00" lengthAdjust="spacingAndGlyphs" stroke-width="1.80" letter-spacing="6" transform="translate(191.90 1441.00) rotate(-90)" x="-341.30" y="0">Precession (degrees)</text>
<text font-size="101.30" textLength="684.00" lengthAdjust="spacingAndGlyphs" stroke-width="1.80" letter-spacing="6" transform="translate(191.90 1441.00) rotate(-90)" x="-340.00" y="0">Precession (degrees)</text>
<text font-size="80.04" textLength="585.00" lengthAdjust="spacingAndGlyphs" stroke-width="1.90" letter-spacing="5" transform="translate(2929.40 1439.30) rotate(-90)" x="-294.30" y="0">Normalized Mean Time</text>
<text font-size="80.04" textLength="585.00" lengthAdjust="spacingAndGlyphs" stroke-width="1.90" letter-spacing="5" transform="translate(2929.40 1439.30) rotate(-90)" x="-293.10" y="0">Normalized Mean Time</text>
<text font-size="80.04" textLength="585.00" lengthAdjust="spacingAndGlyphs" stroke-width="1.90" letter-spacing="5" transform="translate(2929.40 1439.30) rotate(-90)" x="-291.90" y="0">Normalized Mean Time</text>
<text font-size="80.04" textLength="585.00" lengthAdjust="spacingAndGlyphs" stroke-width="1.90" letter-spacing="5" transform="translate(2929.40 1439.30) rotate(-90)" x="-290.70" y="0">Normalized Mean Time</text>
</g>
<rect x="235.8" y="1771.37" width="42.3" height="6.7" fill="#000"/>
<rect x="235.8" y="2106.05" width="42.3" height="6.7" fill="#000"/>
<path d="M0 2367h1.2v16h0.6v15.1h15.2v0.5h16v1.4h-33z" fill="#000"/>
</svg>
</body></html>
